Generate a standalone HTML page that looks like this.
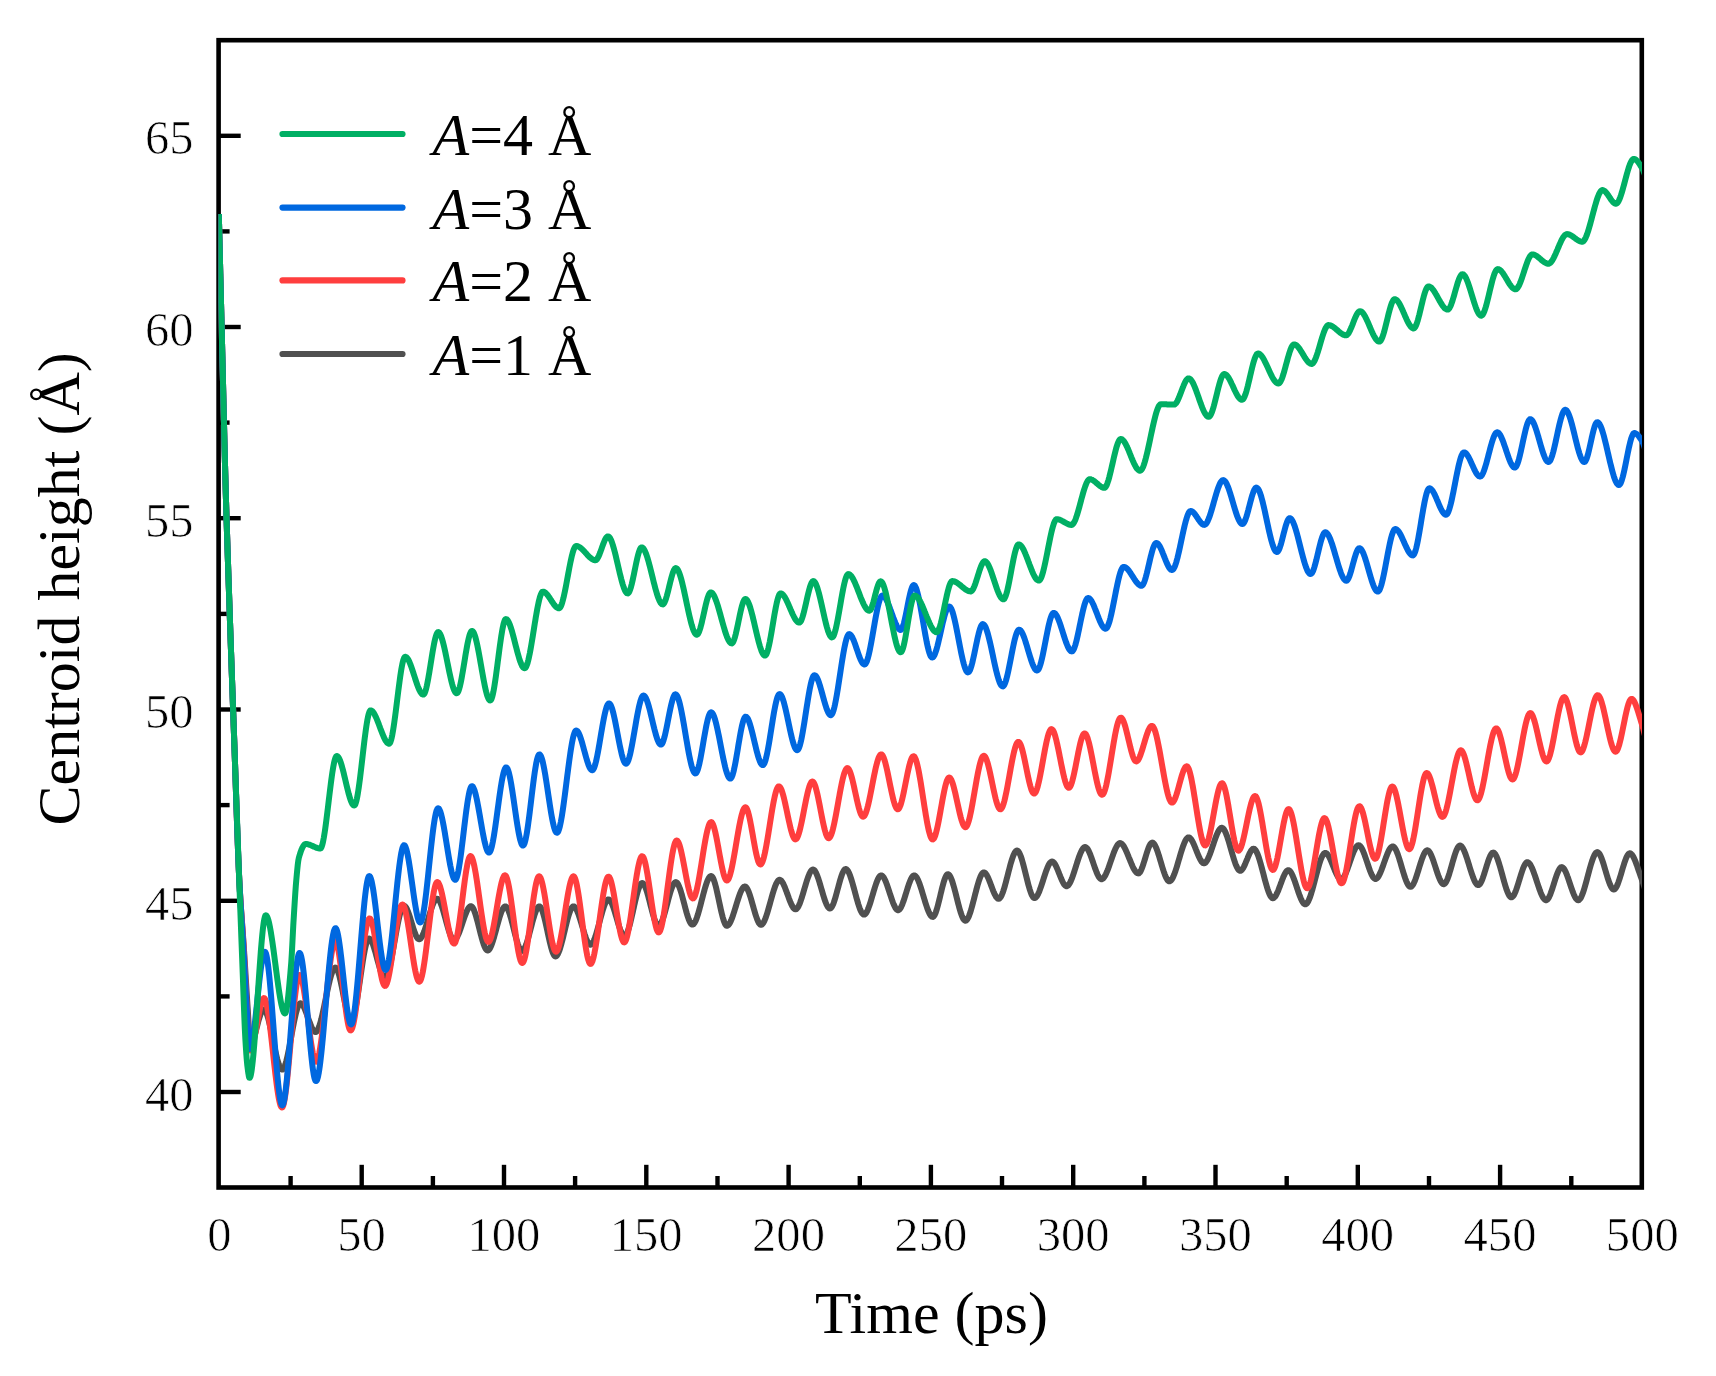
<!DOCTYPE html>
<html lang="en"><head><meta charset="utf-8"><title>Centroid height vs time</title>
<style>
html,body{margin:0;padding:0;background:#fff;}
body{width:1716px;height:1376px;overflow:hidden;}
svg{display:block;}
text{font-family:"Liberation Serif","Times New Roman",serif;fill:#000;}
.tick{font-size:48.6px;stroke:#fff;stroke-width:0.7px;}
.ttl{font-size:60px;}
.leg{font-size:60px;}
.it{font-style:italic;}
</style></head><body>
<svg width="1716" height="1376" viewBox="0 0 1716 1376">
<rect x="0" y="0" width="1716" height="1376" fill="#ffffff"/>
<defs><clipPath id="plot"><rect x="218.5" y="40.2" width="1423.5" height="1147.3"/></clipPath></defs>

<rect x="218.6" y="40.2" width="1423.2" height="1147.3" fill="none" stroke="#000" stroke-width="4.6" stroke-linejoin="miter"/>
<g stroke="#000" stroke-width="4.4" stroke-linecap="butt">
<line x1="290.6" y1="1187.5" x2="290.6" y2="1176.0"/>
<line x1="361.7" y1="1187.5" x2="361.7" y2="1164.8"/>
<line x1="432.9" y1="1187.5" x2="432.9" y2="1176.0"/>
<line x1="504.0" y1="1187.5" x2="504.0" y2="1164.8"/>
<line x1="575.1" y1="1187.5" x2="575.1" y2="1176.0"/>
<line x1="646.3" y1="1187.5" x2="646.3" y2="1164.8"/>
<line x1="717.5" y1="1187.5" x2="717.5" y2="1176.0"/>
<line x1="788.6" y1="1187.5" x2="788.6" y2="1164.8"/>
<line x1="859.8" y1="1187.5" x2="859.8" y2="1176.0"/>
<line x1="930.9" y1="1187.5" x2="930.9" y2="1164.8"/>
<line x1="1002.0" y1="1187.5" x2="1002.0" y2="1176.0"/>
<line x1="1073.2" y1="1187.5" x2="1073.2" y2="1164.8"/>
<line x1="1144.4" y1="1187.5" x2="1144.4" y2="1176.0"/>
<line x1="1215.5" y1="1187.5" x2="1215.5" y2="1164.8"/>
<line x1="1286.7" y1="1187.5" x2="1286.7" y2="1176.0"/>
<line x1="1357.8" y1="1187.5" x2="1357.8" y2="1164.8"/>
<line x1="1429.0" y1="1187.5" x2="1429.0" y2="1176.0"/>
<line x1="1500.1" y1="1187.5" x2="1500.1" y2="1164.8"/>
<line x1="1571.3" y1="1187.5" x2="1571.3" y2="1176.0"/>
<line x1="218.6" y1="1092.0" x2="240.7" y2="1092.0"/>
<line x1="218.6" y1="996.4" x2="229.6" y2="996.4"/>
<line x1="218.6" y1="900.8" x2="240.7" y2="900.8"/>
<line x1="218.6" y1="805.1" x2="229.6" y2="805.1"/>
<line x1="218.6" y1="709.5" x2="240.7" y2="709.5"/>
<line x1="218.6" y1="613.9" x2="229.6" y2="613.9"/>
<line x1="218.6" y1="518.2" x2="240.7" y2="518.2"/>
<line x1="218.6" y1="422.6" x2="229.6" y2="422.6"/>
<line x1="218.6" y1="327.0" x2="240.7" y2="327.0"/>
<line x1="218.6" y1="231.4" x2="229.6" y2="231.4"/>
<line x1="218.6" y1="135.8" x2="240.7" y2="135.8"/>
</g>
<text class="tick" x="219.3" y="1251.3" text-anchor="middle">0</text>
<text class="tick" x="361.6" y="1251.3" text-anchor="middle">50</text>
<text class="tick" x="503.9" y="1251.3" text-anchor="middle">100</text>
<text class="tick" x="646.2" y="1251.3" text-anchor="middle">150</text>
<text class="tick" x="788.5" y="1251.3" text-anchor="middle">200</text>
<text class="tick" x="930.8" y="1251.3" text-anchor="middle">250</text>
<text class="tick" x="1073.1" y="1251.3" text-anchor="middle">300</text>
<text class="tick" x="1215.4" y="1251.3" text-anchor="middle">350</text>
<text class="tick" x="1357.7" y="1251.3" text-anchor="middle">400</text>
<text class="tick" x="1500.0" y="1251.3" text-anchor="middle">450</text>
<text class="tick" x="1642.3" y="1251.3" text-anchor="middle">500</text>
<text class="tick" x="193.5" y="1110.7" text-anchor="end">40</text>
<text class="tick" x="193.5" y="919.5" text-anchor="end">45</text>
<text class="tick" x="193.5" y="728.2" text-anchor="end">50</text>
<text class="tick" x="193.5" y="537.0" text-anchor="end">55</text>
<text class="tick" x="193.5" y="345.7" text-anchor="end">60</text>
<text class="tick" x="193.5" y="154.4" text-anchor="end">65</text>
<text class="ttl" x="931.5" y="1332.8" text-anchor="middle">Time (ps)</text>
<text class="ttl" transform="translate(79.3 825.5) rotate(-90)" text-anchor="start">Centroid height (Å)</text>
<g clip-path="url(#plot)" fill="none" stroke-linejoin="round" stroke-linecap="butt" stroke-width="6.0">
<path d="M218.8 214.0 L219.3 234.0 L219.8 254.0 L220.3 274.0 L220.8 294.0 L221.3 314.0 L221.8 334.0 L222.3 354.0 L222.8 374.4 L223.3 395.2 L223.8 416.0 L224.3 436.6 L224.8 456.6 L225.3 475.6 L225.8 493.5 L226.3 510.3 L226.8 526.5 L227.3 542.0 L227.8 557.1 L228.3 571.9 L228.8 586.6 L229.3 601.2 L229.8 615.9 L230.3 630.4 L230.8 644.8 L231.3 659.0 L231.8 673.1 L232.3 687.1 L232.8 701.1 L233.3 715.0 L233.8 728.9 L234.3 742.8 L234.8 757.2 L235.3 772.0 L235.8 787.1 L236.3 802.1 L236.8 817.0 L237.3 831.4 L237.8 845.1 L238.3 857.9 L238.8 869.6 L239.3 880.0 L239.8 889.2 L240.3 897.5 L240.8 905.2 L241.3 912.4 L241.8 919.3 L242.3 926.1 L242.8 932.8 L243.3 939.7 L243.8 947.0 L244.3 954.6 L244.8 962.5 L245.3 970.5 L245.8 978.6 L246.3 986.7 L246.8 994.6 L247.3 1002.4 L247.8 1010.0 L248.3 1018.5 L248.8 1027.9 L249.3 1036.4 L249.8 1042.3 L250.3 1044.0 L250.8 1043.8 L251.3 1043.4 L251.8 1042.7 L252.3 1041.8 L252.8 1040.7 L253.3 1039.4 L253.8 1037.9 L254.3 1036.4 L254.8 1034.7 L255.3 1032.9 L255.8 1031.1 L256.3 1029.2 L256.8 1027.3 L257.3 1025.4 L257.8 1023.5 L258.3 1021.6 L258.8 1019.8 L259.3 1018.1 L259.8 1016.5 L260.3 1015.0 L260.8 1013.6 L261.3 1012.4 L261.8 1011.4 L262.3 1010.5 L262.8 1009.9 L263.3 1009.6 L263.8 1009.5 L264.3 1009.7 L264.8 1010.1 L265.3 1010.8 L265.8 1011.6 L266.3 1012.7 L266.8 1014.0 L267.3 1015.4 L267.8 1017.0 L268.3 1018.8 L268.8 1020.7 L269.3 1022.7 L269.8 1024.8 L270.3 1027.0 L270.8 1029.3 L271.3 1031.6 L271.8 1034.0 L272.3 1036.4 L272.8 1038.8 L273.3 1041.3 L273.8 1043.7 L274.3 1046.1 L274.8 1048.4 L275.3 1050.8 L275.8 1053.0 L276.3 1055.2 L276.8 1057.2 L277.3 1059.2 L277.8 1061.0 L278.3 1062.7 L278.8 1064.3 L279.3 1065.6 L279.8 1066.8 L280.3 1067.8 L280.8 1068.6 L281.3 1069.2 L281.8 1069.5 L282.3 1069.6 L282.8 1069.4 L283.3 1068.9 L283.8 1068.2 L284.3 1067.2 L284.8 1065.9 L285.3 1064.5 L285.8 1062.8 L286.3 1061.0 L286.8 1059.0 L287.3 1056.9 L287.8 1054.6 L288.3 1052.2 L288.8 1049.8 L289.3 1047.2 L289.8 1044.6 L290.3 1041.9 L290.8 1039.2 L291.3 1036.4 L291.8 1033.7 L292.3 1031.0 L292.8 1028.3 L293.3 1025.7 L293.8 1023.1 L294.3 1020.7 L294.8 1018.3 L295.3 1016.0 L295.8 1013.9 L296.3 1011.9 L296.8 1010.1 L297.3 1008.4 L297.8 1007.0 L298.3 1005.7 L298.8 1004.7 L299.3 1004.0 L299.8 1003.5 L300.3 1003.3 L300.8 1003.4 L301.3 1003.6 L301.8 1004.0 L302.3 1004.5 L302.8 1005.2 L303.3 1006.0 L303.8 1007.0 L304.3 1008.0 L304.8 1009.1 L305.3 1010.3 L305.8 1011.6 L306.3 1012.9 L306.8 1014.3 L307.3 1015.7 L307.8 1017.1 L308.3 1018.5 L308.8 1019.9 L309.3 1021.3 L309.8 1022.7 L310.3 1024.0 L310.8 1025.2 L311.3 1026.4 L311.8 1027.5 L312.3 1028.5 L312.8 1029.4 L313.3 1030.2 L313.8 1030.9 L314.3 1031.4 L314.8 1031.8 L315.3 1032.0 L315.8 1032.0 L316.3 1031.8 L316.8 1031.3 L317.3 1030.7 L317.8 1029.8 L318.3 1028.7 L318.8 1027.5 L319.3 1026.1 L319.8 1024.5 L320.3 1022.8 L320.8 1021.0 L321.3 1019.1 L321.8 1017.0 L322.3 1014.9 L322.8 1012.6 L323.3 1010.4 L323.8 1008.0 L324.3 1005.6 L324.8 1003.2 L325.3 1000.8 L325.8 998.3 L326.3 995.9 L326.8 993.5 L327.3 991.1 L327.8 988.8 L328.3 986.5 L328.8 984.3 L329.3 982.2 L329.8 980.1 L330.3 978.2 L330.8 976.4 L331.3 974.7 L331.8 973.2 L332.3 971.8 L332.8 970.6 L333.3 969.6 L333.8 968.8 L334.3 968.2 L334.8 967.8 L335.3 967.6 L335.8 967.7 L336.3 968.1 L336.8 968.8 L337.3 969.8 L337.8 971.0 L338.3 972.4 L338.8 974.0 L339.3 975.8 L339.8 977.8 L340.3 980.0 L340.8 982.2 L341.3 984.6 L341.8 987.0 L342.3 989.5 L342.8 992.0 L343.3 994.6 L343.8 997.1 L344.3 999.6 L344.8 1002.1 L345.3 1004.5 L345.8 1006.9 L346.3 1009.1 L346.8 1011.2 L347.3 1013.1 L347.8 1014.9 L348.3 1016.5 L348.8 1017.9 L349.3 1019.1 L349.8 1020.0 L350.3 1020.6 L350.8 1020.9 L351.3 1021.0 L351.8 1020.6 L352.3 1019.9 L352.8 1018.9 L353.3 1017.6 L353.8 1015.9 L354.3 1014.0 L354.8 1011.9 L355.3 1009.5 L355.8 1006.9 L356.3 1004.2 L356.8 1001.2 L357.3 998.2 L357.8 995.0 L358.3 991.7 L358.8 988.3 L359.3 984.9 L359.8 981.5 L360.3 978.0 L360.8 974.6 L361.3 971.2 L361.8 967.8 L362.3 964.5 L362.8 961.3 L363.3 958.3 L363.8 955.3 L364.3 952.6 L364.8 950.0 L365.3 947.6 L365.8 945.5 L366.3 943.6 L366.8 941.9 L367.3 940.6 L367.8 939.6 L368.3 938.9 L368.8 938.5 L369.3 938.5 L369.8 938.8 L370.3 939.2 L370.8 939.9 L371.3 940.7 L371.8 941.7 L372.3 942.8 L372.8 944.1 L373.3 945.5 L373.8 947.0 L374.3 948.6 L374.8 950.3 L375.3 952.0 L375.8 953.8 L376.3 955.7 L376.8 957.5 L377.3 959.4 L377.8 961.2 L378.3 963.0 L378.8 964.8 L379.3 966.5 L379.8 968.2 L380.3 969.8 L380.8 971.3 L381.3 972.6 L381.8 973.9 L382.3 975.0 L382.8 976.0 L383.3 976.8 L383.8 977.4 L384.3 977.8 L384.8 978.0 L385.3 977.9 L385.8 977.6 L386.3 977.0 L386.8 976.2 L387.3 975.1 L387.8 973.8 L388.3 972.2 L388.8 970.5 L389.3 968.6 L389.8 966.5 L390.3 964.3 L390.8 961.9 L391.3 959.5 L391.8 956.9 L392.3 954.2 L392.8 951.5 L393.3 948.7 L393.8 945.9 L394.3 943.0 L394.8 940.2 L395.3 937.4 L395.8 934.5 L396.3 931.8 L396.8 929.0 L397.3 926.4 L397.8 923.8 L398.3 921.4 L398.8 919.1 L399.3 916.9 L399.8 914.8 L400.3 912.9 L400.8 911.3 L401.3 909.8 L401.8 908.5 L402.3 907.4 L402.8 906.6 L403.3 906.1 L403.8 905.8 L404.3 905.8 L404.8 906.1 L405.3 906.5 L405.8 907.1 L406.3 907.9 L406.8 908.8 L407.3 909.9 L407.8 911.1 L408.3 912.4 L408.8 913.8 L409.3 915.3 L409.8 916.8 L410.3 918.4 L410.8 920.1 L411.3 921.7 L411.8 923.4 L412.3 925.0 L412.8 926.7 L413.3 928.3 L413.8 929.8 L414.3 931.3 L414.8 932.7 L415.3 934.0 L415.8 935.2 L416.3 936.3 L416.8 937.2 L417.3 938.0 L417.8 938.6 L418.3 939.0 L418.8 939.3 L419.3 939.3 L419.8 939.1 L420.3 938.8 L420.8 938.3 L421.3 937.6 L421.8 936.9 L422.3 935.9 L422.8 934.9 L423.3 933.8 L423.8 932.5 L424.3 931.2 L424.8 929.8 L425.3 928.3 L425.8 926.7 L426.3 925.1 L426.8 923.5 L427.3 921.9 L427.8 920.2 L428.3 918.5 L428.8 916.8 L429.3 915.2 L429.8 913.5 L430.3 911.9 L430.8 910.3 L431.3 908.8 L431.8 907.4 L432.3 906.0 L432.8 904.7 L433.3 903.5 L433.8 902.5 L434.3 901.5 L434.8 900.7 L435.3 899.9 L435.8 899.4 L436.3 899.0 L436.8 898.8 L437.3 898.7 L437.8 898.9 L438.3 899.2 L438.8 899.8 L439.3 900.5 L439.8 901.4 L440.3 902.4 L440.8 903.6 L441.3 904.9 L441.8 906.3 L442.3 907.8 L442.8 909.4 L443.3 911.1 L443.8 912.8 L444.3 914.6 L444.8 916.4 L445.3 918.2 L445.8 920.1 L446.3 921.9 L446.8 923.7 L447.3 925.5 L447.8 927.3 L448.3 929.0 L448.8 930.6 L449.3 932.1 L449.8 933.5 L450.3 934.9 L450.8 936.1 L451.3 937.1 L451.8 938.1 L452.3 938.8 L452.8 939.4 L453.3 939.8 L453.8 940.0 L454.3 940.0 L454.8 939.8 L455.3 939.4 L455.8 938.9 L456.3 938.3 L456.8 937.5 L457.3 936.6 L457.8 935.6 L458.3 934.5 L458.8 933.4 L459.3 932.1 L459.8 930.8 L460.3 929.4 L460.8 928.0 L461.3 926.5 L461.8 925.0 L462.3 923.5 L462.8 922.1 L463.3 920.6 L463.8 919.1 L464.3 917.6 L464.8 916.2 L465.3 914.9 L465.8 913.6 L466.3 912.3 L466.8 911.2 L467.3 910.1 L467.8 909.2 L468.3 908.4 L468.8 907.6 L469.3 907.1 L469.8 906.6 L470.3 906.3 L470.8 906.2 L471.3 906.3 L471.8 906.6 L472.3 907.1 L472.8 907.8 L473.3 908.7 L473.8 909.7 L474.3 911.0 L474.8 912.3 L475.3 913.8 L475.8 915.4 L476.3 917.1 L476.8 918.9 L477.3 920.7 L477.8 922.6 L478.3 924.6 L478.8 926.6 L479.3 928.5 L479.8 930.5 L480.3 932.5 L480.8 934.4 L481.3 936.3 L481.8 938.2 L482.3 939.9 L482.8 941.6 L483.3 943.2 L483.8 944.7 L484.3 946.0 L484.8 947.2 L485.3 948.2 L485.8 949.1 L486.3 949.7 L486.8 950.2 L487.3 950.5 L487.8 950.5 L488.3 950.3 L488.8 949.9 L489.3 949.4 L489.8 948.6 L490.3 947.7 L490.8 946.7 L491.3 945.5 L491.8 944.2 L492.3 942.8 L492.8 941.3 L493.3 939.7 L493.8 938.1 L494.3 936.3 L494.8 934.5 L495.3 932.7 L495.8 930.9 L496.3 929.0 L496.8 927.1 L497.3 925.3 L497.8 923.4 L498.3 921.6 L498.8 919.9 L499.3 918.2 L499.8 916.5 L500.3 915.0 L500.8 913.5 L501.3 912.1 L501.8 910.9 L502.3 909.8 L502.8 908.8 L503.3 908.0 L503.8 907.3 L504.3 906.8 L504.8 906.5 L505.3 906.4 L505.8 906.5 L506.3 906.9 L506.8 907.4 L507.3 908.2 L507.8 909.1 L508.3 910.2 L508.8 911.5 L509.3 912.9 L509.8 914.4 L510.3 916.0 L510.8 917.7 L511.3 919.5 L511.8 921.4 L512.3 923.3 L512.8 925.3 L513.3 927.3 L513.8 929.3 L514.3 931.3 L514.8 933.3 L515.3 935.2 L515.8 937.1 L516.3 939.0 L516.8 940.7 L517.3 942.4 L517.8 944.0 L518.3 945.4 L518.8 946.7 L519.3 947.9 L519.8 948.9 L520.3 949.7 L520.8 950.3 L521.3 950.8 L521.8 951.0 L522.3 951.0 L522.8 950.7 L523.3 950.3 L523.8 949.7 L524.3 948.9 L524.8 947.9 L525.3 946.8 L525.8 945.5 L526.3 944.2 L526.8 942.7 L527.3 941.1 L527.8 939.4 L528.3 937.7 L528.8 935.9 L529.3 934.0 L529.8 932.1 L530.3 930.2 L530.8 928.3 L531.3 926.4 L531.8 924.5 L532.3 922.6 L532.8 920.8 L533.3 919.0 L533.8 917.3 L534.3 915.6 L534.8 914.1 L535.3 912.7 L535.8 911.3 L536.3 910.1 L536.8 909.1 L537.3 908.2 L537.8 907.5 L538.3 906.9 L538.8 906.6 L539.3 906.4 L539.8 906.5 L540.3 906.9 L540.8 907.5 L541.3 908.3 L541.8 909.4 L542.3 910.7 L542.8 912.1 L543.3 913.8 L543.8 915.6 L544.3 917.5 L544.8 919.5 L545.3 921.6 L545.8 923.8 L546.3 926.1 L546.8 928.4 L547.3 930.7 L547.8 933.0 L548.3 935.3 L548.8 937.6 L549.3 939.9 L549.8 942.0 L550.3 944.1 L550.8 946.1 L551.3 948.0 L551.8 949.7 L552.3 951.3 L552.8 952.7 L553.3 953.9 L553.8 954.8 L554.3 955.6 L554.8 956.1 L555.3 956.4 L555.8 956.4 L556.3 956.1 L556.8 955.7 L557.3 955.0 L557.8 954.2 L558.3 953.1 L558.8 952.0 L559.3 950.7 L559.8 949.2 L560.3 947.6 L560.8 945.9 L561.3 944.2 L561.8 942.3 L562.3 940.4 L562.8 938.4 L563.3 936.4 L563.8 934.3 L564.3 932.2 L564.8 930.2 L565.3 928.1 L565.8 926.0 L566.3 924.0 L566.8 922.0 L567.3 920.1 L567.8 918.3 L568.3 916.5 L568.8 914.8 L569.3 913.3 L569.8 911.9 L570.3 910.6 L570.8 909.4 L571.3 908.5 L571.8 907.7 L572.3 907.0 L572.8 906.6 L573.3 906.4 L573.8 906.4 L574.3 906.6 L574.8 907.0 L575.3 907.6 L575.8 908.3 L576.3 909.2 L576.8 910.2 L577.3 911.3 L577.8 912.5 L578.3 913.8 L578.8 915.2 L579.3 916.7 L579.8 918.3 L580.3 919.9 L580.8 921.5 L581.3 923.2 L581.8 924.9 L582.3 926.6 L582.8 928.2 L583.3 929.9 L583.8 931.5 L584.3 933.1 L584.8 934.7 L585.3 936.1 L585.8 937.5 L586.3 938.8 L586.8 940.0 L587.3 941.1 L587.8 942.1 L588.3 942.9 L588.8 943.6 L589.3 944.2 L589.8 944.5 L590.3 944.7 L590.8 944.7 L591.3 944.4 L591.8 944.0 L592.3 943.4 L592.8 942.7 L593.3 941.8 L593.8 940.7 L594.3 939.5 L594.8 938.2 L595.3 936.8 L595.8 935.2 L596.3 933.6 L596.8 931.9 L597.3 930.2 L597.8 928.4 L598.3 926.6 L598.8 924.7 L599.3 922.8 L599.8 920.9 L600.3 919.0 L600.8 917.2 L601.3 915.3 L601.8 913.6 L602.3 911.8 L602.8 910.2 L603.3 908.6 L603.8 907.1 L604.3 905.6 L604.8 904.4 L605.3 903.2 L605.8 902.2 L606.3 901.3 L606.8 900.5 L607.3 900.0 L607.8 899.6 L608.3 899.4 L608.8 899.4 L609.3 899.7 L609.8 900.1 L610.3 900.7 L610.8 901.5 L611.3 902.4 L611.8 903.4 L612.3 904.6 L612.8 905.9 L613.3 907.3 L613.8 908.8 L614.3 910.3 L614.8 912.0 L615.3 913.6 L615.8 915.3 L616.3 917.0 L616.8 918.7 L617.3 920.4 L617.8 922.1 L618.3 923.8 L618.8 925.4 L619.3 926.9 L619.8 928.4 L620.3 929.8 L620.8 931.0 L621.3 932.2 L621.8 933.2 L622.3 934.1 L622.8 934.8 L623.3 935.4 L623.8 935.8 L624.3 936.0 L624.8 936.0 L625.3 935.7 L625.8 935.2 L626.3 934.5 L626.8 933.5 L627.3 932.4 L627.8 931.2 L628.3 929.7 L628.8 928.1 L629.3 926.4 L629.8 924.6 L630.3 922.7 L630.8 920.6 L631.3 918.5 L631.8 916.4 L632.3 914.2 L632.8 912.0 L633.3 909.7 L633.8 907.5 L634.3 905.2 L634.8 903.0 L635.3 900.9 L635.8 898.8 L636.3 896.7 L636.8 894.8 L637.3 892.9 L637.8 891.2 L638.3 889.6 L638.8 888.1 L639.3 886.8 L639.8 885.7 L640.3 884.7 L640.8 883.9 L641.3 883.4 L641.8 883.1 L642.3 883.0 L642.8 883.2 L643.3 883.6 L643.8 884.2 L644.3 884.9 L644.8 885.9 L645.3 887.1 L645.8 888.3 L646.3 889.8 L646.8 891.3 L647.3 892.9 L647.8 894.7 L648.3 896.5 L648.8 898.4 L649.3 900.3 L649.8 902.2 L650.3 904.2 L650.8 906.2 L651.3 908.1 L651.8 910.1 L652.3 911.9 L652.8 913.8 L653.3 915.5 L653.8 917.2 L654.3 918.7 L654.8 920.2 L655.3 921.5 L655.8 922.7 L656.3 923.7 L656.8 924.5 L657.3 925.1 L657.8 925.6 L658.3 925.8 L658.8 925.8 L659.3 925.5 L659.8 925.1 L660.3 924.5 L660.8 923.7 L661.3 922.7 L661.8 921.6 L662.3 920.4 L662.8 919.0 L663.3 917.6 L663.8 916.0 L664.3 914.4 L664.8 912.6 L665.3 910.9 L665.8 909.0 L666.3 907.2 L666.8 905.3 L667.3 903.4 L667.8 901.5 L668.3 899.6 L668.8 897.8 L669.3 896.0 L669.8 894.2 L670.3 892.5 L670.8 890.9 L671.3 889.4 L671.8 888.0 L672.3 886.7 L672.8 885.6 L673.3 884.6 L673.8 883.7 L674.3 883.0 L674.8 882.5 L675.3 882.2 L675.8 882.1 L676.3 882.2 L676.8 882.5 L677.3 883.1 L677.8 883.8 L678.3 884.7 L678.8 885.8 L679.3 887.0 L679.8 888.3 L680.3 889.8 L680.8 891.3 L681.3 893.0 L681.8 894.7 L682.3 896.5 L682.8 898.4 L683.3 900.3 L683.8 902.2 L684.3 904.1 L684.8 906.0 L685.3 907.9 L685.8 909.8 L686.3 911.6 L686.8 913.4 L687.3 915.0 L687.8 916.6 L688.3 918.1 L688.8 919.5 L689.3 920.7 L689.8 921.8 L690.3 922.7 L690.8 923.5 L691.3 924.1 L691.8 924.4 L692.3 924.6 L692.8 924.5 L693.3 924.3 L693.8 923.8 L694.3 923.2 L694.8 922.4 L695.3 921.5 L695.8 920.4 L696.3 919.1 L696.8 917.8 L697.3 916.3 L697.8 914.8 L698.3 913.1 L698.8 911.4 L699.3 909.6 L699.8 907.8 L700.3 905.9 L700.8 904.0 L701.3 902.1 L701.8 900.1 L702.3 898.2 L702.8 896.2 L703.3 894.3 L703.8 892.4 L704.3 890.6 L704.8 888.8 L705.3 887.1 L705.8 885.5 L706.3 884.0 L706.8 882.5 L707.3 881.2 L707.8 880.0 L708.3 878.9 L708.8 878.0 L709.3 877.3 L709.8 876.7 L710.3 876.3 L710.8 876.0 L711.3 876.0 L711.8 876.3 L712.3 876.8 L712.8 877.6 L713.3 878.6 L713.8 879.9 L714.3 881.3 L714.8 882.9 L715.3 884.7 L715.8 886.6 L716.3 888.6 L716.8 890.8 L717.3 893.0 L717.8 895.3 L718.3 897.6 L718.8 900.0 L719.3 902.3 L719.8 904.7 L720.3 907.0 L720.8 909.3 L721.3 911.5 L721.8 913.6 L722.3 915.6 L722.8 917.5 L723.3 919.2 L723.8 920.8 L724.3 922.2 L724.8 923.4 L725.3 924.4 L725.8 925.1 L726.3 925.6 L726.8 925.8 L727.3 925.7 L727.8 925.5 L728.3 925.1 L728.8 924.6 L729.3 923.9 L729.8 923.1 L730.3 922.1 L730.8 921.1 L731.3 919.9 L731.8 918.6 L732.3 917.3 L732.8 915.9 L733.3 914.4 L733.8 912.9 L734.3 911.3 L734.8 909.7 L735.3 908.1 L735.8 906.5 L736.3 904.8 L736.8 903.2 L737.3 901.6 L737.8 900.0 L738.3 898.5 L738.8 897.0 L739.3 895.5 L739.8 894.2 L740.3 892.9 L740.8 891.7 L741.3 890.6 L741.8 889.6 L742.3 888.7 L742.8 888.0 L743.3 887.4 L743.8 886.9 L744.3 886.6 L744.8 886.5 L745.3 886.6 L745.8 886.8 L746.3 887.3 L746.8 888.0 L747.3 888.8 L747.8 889.8 L748.3 890.9 L748.8 892.2 L749.3 893.5 L749.8 895.0 L750.3 896.5 L750.8 898.2 L751.3 899.8 L751.8 901.6 L752.3 903.3 L752.8 905.1 L753.3 906.9 L753.8 908.7 L754.3 910.4 L754.8 912.1 L755.3 913.8 L755.8 915.4 L756.3 916.9 L756.8 918.3 L757.3 919.7 L757.8 920.9 L758.3 921.9 L758.8 922.9 L759.3 923.6 L759.8 924.2 L760.3 924.6 L760.8 924.8 L761.3 924.8 L761.8 924.6 L762.3 924.2 L762.8 923.6 L763.3 922.9 L763.8 922.0 L764.3 921.1 L764.8 919.9 L765.3 918.7 L765.8 917.4 L766.3 915.9 L766.8 914.4 L767.3 912.8 L767.8 911.2 L768.3 909.4 L768.8 907.7 L769.3 905.9 L769.8 904.1 L770.3 902.3 L770.8 900.5 L771.3 898.7 L771.8 896.9 L772.3 895.2 L772.8 893.4 L773.3 891.8 L773.8 890.2 L774.3 888.7 L774.8 887.2 L775.3 885.9 L775.8 884.7 L776.3 883.5 L776.8 882.6 L777.3 881.7 L777.8 881.0 L778.3 880.4 L778.8 880.0 L779.3 879.8 L779.8 879.8 L780.3 880.0 L780.8 880.3 L781.3 880.7 L781.8 881.3 L782.3 882.1 L782.8 882.9 L783.3 883.8 L783.8 884.9 L784.3 886.0 L784.8 887.2 L785.3 888.5 L785.8 889.8 L786.3 891.1 L786.8 892.5 L787.3 893.9 L787.8 895.2 L788.3 896.6 L788.8 898.0 L789.3 899.3 L789.8 900.6 L790.3 901.9 L790.8 903.1 L791.3 904.2 L791.8 905.3 L792.3 906.2 L792.8 907.0 L793.3 907.8 L793.8 908.4 L794.3 908.8 L794.8 909.1 L795.3 909.3 L795.8 909.3 L796.3 909.1 L796.8 908.7 L797.3 908.1 L797.8 907.4 L798.3 906.6 L798.8 905.6 L799.3 904.5 L799.8 903.3 L800.3 902.0 L800.8 900.6 L801.3 899.1 L801.8 897.5 L802.3 895.9 L802.8 894.3 L803.3 892.6 L803.8 890.9 L804.3 889.2 L804.8 887.5 L805.3 885.8 L805.8 884.2 L806.3 882.5 L806.8 880.9 L807.3 879.4 L807.8 878.0 L808.3 876.6 L808.8 875.3 L809.3 874.1 L809.8 873.0 L810.3 872.0 L810.8 871.2 L811.3 870.6 L811.8 870.0 L812.3 869.7 L812.8 869.5 L813.3 869.5 L813.8 869.8 L814.3 870.2 L814.8 870.7 L815.3 871.5 L815.8 872.4 L816.3 873.4 L816.8 874.5 L817.3 875.8 L817.8 877.2 L818.3 878.6 L818.8 880.1 L819.3 881.7 L819.8 883.4 L820.3 885.0 L820.8 886.8 L821.3 888.5 L821.8 890.2 L822.3 891.9 L822.8 893.6 L823.3 895.3 L823.8 896.9 L824.3 898.5 L824.8 900.0 L825.3 901.4 L825.8 902.7 L826.3 903.9 L826.8 905.0 L827.3 906.0 L827.8 906.8 L828.3 907.5 L828.8 908.0 L829.3 908.4 L829.8 908.5 L830.3 908.4 L830.8 908.1 L831.3 907.6 L831.8 906.9 L832.3 906.0 L832.8 905.0 L833.3 903.8 L833.8 902.5 L834.3 901.0 L834.8 899.5 L835.3 897.8 L835.8 896.1 L836.3 894.3 L836.8 892.5 L837.3 890.6 L837.8 888.8 L838.3 886.9 L838.8 885.0 L839.3 883.2 L839.8 881.4 L840.3 879.7 L840.8 878.0 L841.3 876.5 L841.8 875.0 L842.3 873.7 L842.8 872.5 L843.3 871.5 L843.8 870.6 L844.3 869.9 L844.8 869.4 L845.3 869.1 L845.8 869.0 L846.3 869.1 L846.8 869.5 L847.3 870.0 L847.8 870.7 L848.3 871.5 L848.8 872.5 L849.3 873.6 L849.8 874.8 L850.3 876.2 L850.8 877.7 L851.3 879.2 L851.8 880.8 L852.3 882.5 L852.8 884.3 L853.3 886.1 L853.8 887.9 L854.3 889.7 L854.8 891.6 L855.3 893.5 L855.8 895.3 L856.3 897.2 L856.8 899.0 L857.3 900.7 L857.8 902.4 L858.3 904.1 L858.8 905.6 L859.3 907.1 L859.8 908.5 L860.3 909.8 L860.8 910.9 L861.3 911.9 L861.8 912.8 L862.3 913.5 L862.8 914.0 L863.3 914.4 L863.8 914.6 L864.3 914.6 L864.8 914.4 L865.3 914.0 L865.8 913.4 L866.3 912.7 L866.8 911.8 L867.3 910.8 L867.8 909.7 L868.3 908.5 L868.8 907.1 L869.3 905.7 L869.8 904.2 L870.3 902.7 L870.8 901.1 L871.3 899.4 L871.8 897.7 L872.3 896.0 L872.8 894.3 L873.3 892.6 L873.8 890.9 L874.3 889.3 L874.8 887.6 L875.3 886.1 L875.8 884.6 L876.3 883.1 L876.8 881.8 L877.3 880.5 L877.8 879.4 L878.3 878.4 L878.8 877.5 L879.3 876.7 L879.8 876.1 L880.3 875.7 L880.8 875.5 L881.3 875.4 L881.8 875.5 L882.3 875.8 L882.8 876.3 L883.3 876.9 L883.8 877.6 L884.3 878.5 L884.8 879.5 L885.3 880.6 L885.8 881.7 L886.3 883.0 L886.8 884.3 L887.3 885.7 L887.8 887.2 L888.3 888.7 L888.8 890.2 L889.3 891.7 L889.8 893.3 L890.3 894.8 L890.8 896.3 L891.3 897.8 L891.8 899.3 L892.3 900.7 L892.8 902.1 L893.3 903.4 L893.8 904.6 L894.3 905.7 L894.8 906.7 L895.3 907.7 L895.8 908.4 L896.3 909.1 L896.8 909.6 L897.3 910.0 L897.8 910.2 L898.3 910.2 L898.8 910.0 L899.3 909.6 L899.8 909.1 L900.3 908.4 L900.8 907.6 L901.3 906.6 L901.8 905.5 L902.3 904.3 L902.8 903.0 L903.3 901.7 L903.8 900.2 L904.3 898.7 L904.8 897.1 L905.3 895.5 L905.8 893.9 L906.3 892.3 L906.8 890.7 L907.3 889.1 L907.8 887.5 L908.3 886.0 L908.8 884.5 L909.3 883.1 L909.8 881.8 L910.3 880.5 L910.8 879.4 L911.3 878.4 L911.8 877.5 L912.3 876.7 L912.8 876.1 L913.3 875.7 L913.8 875.5 L914.3 875.4 L914.8 875.5 L915.3 875.8 L915.8 876.3 L916.3 876.9 L916.8 877.6 L917.3 878.5 L917.8 879.5 L918.3 880.6 L918.8 881.8 L919.3 883.1 L919.8 884.5 L920.3 886.0 L920.8 887.5 L921.3 889.0 L921.8 890.7 L922.3 892.3 L922.8 894.0 L923.3 895.6 L923.8 897.3 L924.3 899.0 L924.8 900.7 L925.3 902.3 L925.8 903.9 L926.3 905.4 L926.8 906.9 L927.3 908.4 L927.8 909.7 L928.3 911.0 L928.8 912.1 L929.3 913.2 L929.8 914.2 L930.3 915.0 L930.8 915.7 L931.3 916.2 L931.8 916.6 L932.3 916.8 L932.8 916.9 L933.3 916.7 L933.8 916.3 L934.3 915.6 L934.8 914.7 L935.3 913.6 L935.8 912.3 L936.3 910.8 L936.8 909.3 L937.3 907.5 L937.8 905.7 L938.3 903.8 L938.8 901.8 L939.3 899.7 L939.8 897.7 L940.3 895.6 L940.8 893.4 L941.3 891.4 L941.8 889.3 L942.3 887.3 L942.8 885.4 L943.3 883.6 L943.8 881.8 L944.3 880.3 L944.8 878.8 L945.3 877.5 L945.8 876.4 L946.3 875.5 L946.8 874.8 L947.3 874.4 L947.8 874.2 L948.3 874.3 L948.8 874.6 L949.3 875.0 L949.8 875.7 L950.3 876.6 L950.8 877.6 L951.3 878.8 L951.8 880.1 L952.3 881.5 L952.8 883.1 L953.3 884.8 L953.8 886.5 L954.3 888.3 L954.8 890.2 L955.3 892.1 L955.8 894.1 L956.3 896.1 L956.8 898.0 L957.3 900.0 L957.8 902.0 L958.3 903.9 L958.8 905.8 L959.3 907.7 L959.8 909.5 L960.3 911.2 L960.8 912.8 L961.3 914.2 L961.8 915.6 L962.3 916.8 L962.8 917.9 L963.3 918.9 L963.8 919.6 L964.3 920.2 L964.8 920.5 L965.3 920.7 L965.8 920.6 L966.3 920.4 L966.8 919.9 L967.3 919.3 L967.8 918.4 L968.3 917.5 L968.8 916.4 L969.3 915.1 L969.8 913.7 L970.3 912.2 L970.8 910.7 L971.3 909.0 L971.8 907.2 L972.3 905.4 L972.8 903.5 L973.3 901.6 L973.8 899.7 L974.3 897.7 L974.8 895.8 L975.3 893.8 L975.8 891.9 L976.3 889.9 L976.8 888.1 L977.3 886.2 L977.8 884.5 L978.3 882.8 L978.8 881.2 L979.3 879.7 L979.8 878.3 L980.3 877.0 L980.8 875.8 L981.3 874.8 L981.8 874.0 L982.3 873.3 L982.8 872.8 L983.3 872.5 L983.8 872.4 L984.3 872.5 L984.8 872.7 L985.3 873.2 L985.8 873.7 L986.3 874.4 L986.8 875.2 L987.3 876.1 L987.8 877.1 L988.3 878.2 L988.8 879.4 L989.3 880.6 L989.8 881.9 L990.3 883.2 L990.8 884.5 L991.3 885.9 L991.8 887.2 L992.3 888.5 L992.8 889.8 L993.3 891.1 L993.8 892.3 L994.3 893.4 L994.8 894.5 L995.3 895.4 L995.8 896.3 L996.3 897.1 L996.8 897.7 L997.3 898.2 L997.8 898.6 L998.3 898.8 L998.8 898.8 L999.3 898.6 L999.8 898.2 L1000.3 897.6 L1000.8 896.9 L1001.3 896.0 L1001.8 894.9 L1002.3 893.7 L1002.8 892.4 L1003.3 891.0 L1003.8 889.4 L1004.3 887.8 L1004.8 886.1 L1005.3 884.3 L1005.8 882.4 L1006.3 880.5 L1006.8 878.6 L1007.3 876.7 L1007.8 874.7 L1008.3 872.7 L1008.8 870.8 L1009.3 868.9 L1009.8 867.0 L1010.3 865.1 L1010.8 863.3 L1011.3 861.6 L1011.8 860.0 L1012.3 858.4 L1012.8 857.0 L1013.3 855.7 L1013.8 854.5 L1014.3 853.4 L1014.8 852.5 L1015.3 851.8 L1015.8 851.2 L1016.3 850.8 L1016.8 850.6 L1017.3 850.6 L1017.8 850.9 L1018.3 851.3 L1018.8 852.0 L1019.3 852.8 L1019.8 853.9 L1020.3 855.0 L1020.8 856.3 L1021.3 857.8 L1021.8 859.3 L1022.3 861.0 L1022.8 862.8 L1023.3 864.6 L1023.8 866.5 L1024.3 868.5 L1024.8 870.5 L1025.3 872.5 L1025.8 874.5 L1026.3 876.5 L1026.8 878.5 L1027.3 880.5 L1027.8 882.5 L1028.3 884.4 L1028.8 886.2 L1029.3 887.9 L1029.8 889.6 L1030.3 891.1 L1030.8 892.5 L1031.3 893.8 L1031.8 895.0 L1032.3 895.9 L1032.8 896.7 L1033.3 897.4 L1033.8 897.8 L1034.3 898.0 L1034.8 898.0 L1035.3 897.8 L1035.8 897.4 L1036.3 896.9 L1036.8 896.3 L1037.3 895.5 L1037.8 894.6 L1038.3 893.6 L1038.8 892.5 L1039.3 891.3 L1039.8 890.0 L1040.3 888.6 L1040.8 887.2 L1041.3 885.7 L1041.8 884.2 L1042.3 882.7 L1042.8 881.2 L1043.3 879.6 L1043.8 878.0 L1044.3 876.5 L1044.8 875.0 L1045.3 873.5 L1045.8 872.0 L1046.3 870.6 L1046.8 869.3 L1047.3 868.0 L1047.8 866.8 L1048.3 865.7 L1048.8 864.7 L1049.3 863.8 L1049.8 863.1 L1050.3 862.5 L1050.8 862.0 L1051.3 861.7 L1051.8 861.5 L1052.3 861.5 L1052.8 861.7 L1053.3 862.1 L1053.8 862.5 L1054.3 863.1 L1054.8 863.9 L1055.3 864.7 L1055.8 865.6 L1056.3 866.7 L1056.8 867.8 L1057.3 868.9 L1057.8 870.1 L1058.3 871.3 L1058.8 872.6 L1059.3 873.9 L1059.8 875.1 L1060.3 876.4 L1060.8 877.6 L1061.3 878.8 L1061.8 879.9 L1062.3 881.0 L1062.8 882.1 L1063.3 883.0 L1063.8 883.8 L1064.3 884.6 L1064.8 885.2 L1065.3 885.6 L1065.8 886.0 L1066.3 886.2 L1066.8 886.2 L1067.3 886.0 L1067.8 885.7 L1068.3 885.3 L1068.8 884.7 L1069.3 883.9 L1069.8 883.1 L1070.3 882.1 L1070.8 881.1 L1071.3 879.9 L1071.8 878.6 L1072.3 877.3 L1072.8 875.9 L1073.3 874.5 L1073.8 873.0 L1074.3 871.5 L1074.8 869.9 L1075.3 868.3 L1075.8 866.8 L1076.3 865.2 L1076.8 863.6 L1077.3 862.0 L1077.8 860.5 L1078.3 859.0 L1078.8 857.5 L1079.3 856.1 L1079.8 854.8 L1080.3 853.5 L1080.8 852.4 L1081.3 851.3 L1081.8 850.3 L1082.3 849.4 L1082.8 848.7 L1083.3 848.0 L1083.8 847.6 L1084.3 847.2 L1084.8 847.0 L1085.3 847.0 L1085.8 847.2 L1086.3 847.5 L1086.8 848.0 L1087.3 848.6 L1087.8 849.3 L1088.3 850.2 L1088.8 851.2 L1089.3 852.3 L1089.8 853.4 L1090.3 854.7 L1090.8 856.0 L1091.3 857.3 L1091.8 858.7 L1092.3 860.2 L1092.8 861.6 L1093.3 863.1 L1093.8 864.6 L1094.3 866.0 L1094.8 867.5 L1095.3 868.9 L1095.8 870.2 L1096.3 871.5 L1096.8 872.8 L1097.3 873.9 L1097.8 875.0 L1098.3 876.0 L1098.8 876.9 L1099.3 877.6 L1099.8 878.2 L1100.3 878.7 L1100.8 879.0 L1101.3 879.2 L1101.8 879.2 L1102.3 879.0 L1102.8 878.7 L1103.3 878.3 L1103.8 877.7 L1104.3 877.0 L1104.8 876.2 L1105.3 875.3 L1105.8 874.3 L1106.3 873.2 L1106.8 872.1 L1107.3 870.9 L1107.8 869.6 L1108.3 868.3 L1108.8 866.9 L1109.3 865.5 L1109.8 864.1 L1110.3 862.6 L1110.8 861.1 L1111.3 859.7 L1111.8 858.2 L1112.3 856.8 L1112.8 855.4 L1113.3 854.0 L1113.8 852.7 L1114.3 851.4 L1114.8 850.2 L1115.3 849.1 L1115.8 848.0 L1116.3 847.0 L1116.8 846.1 L1117.3 845.3 L1117.8 844.6 L1118.3 844.0 L1118.8 843.6 L1119.3 843.3 L1119.8 843.1 L1120.3 843.1 L1120.8 843.2 L1121.3 843.5 L1121.8 843.8 L1122.3 844.3 L1122.8 844.9 L1123.3 845.6 L1123.8 846.3 L1124.3 847.2 L1124.8 848.1 L1125.3 849.1 L1125.8 850.2 L1126.3 851.3 L1126.8 852.4 L1127.3 853.6 L1127.8 854.8 L1128.3 856.0 L1128.8 857.3 L1129.3 858.5 L1129.8 859.7 L1130.3 861.0 L1130.8 862.2 L1131.3 863.4 L1131.8 864.6 L1132.3 865.7 L1132.8 866.8 L1133.3 867.8 L1133.8 868.8 L1134.3 869.7 L1134.8 870.5 L1135.3 871.2 L1135.8 871.8 L1136.3 872.4 L1136.8 872.8 L1137.3 873.1 L1137.8 873.3 L1138.3 873.4 L1138.8 873.3 L1139.3 872.9 L1139.8 872.4 L1140.3 871.7 L1140.8 870.8 L1141.3 869.7 L1141.8 868.5 L1142.3 867.2 L1142.8 865.8 L1143.3 864.3 L1143.8 862.7 L1144.3 861.1 L1144.8 859.5 L1145.3 857.8 L1145.8 856.2 L1146.3 854.5 L1146.8 852.9 L1147.3 851.4 L1147.8 849.9 L1148.3 848.5 L1148.8 847.2 L1149.3 846.1 L1149.8 845.0 L1150.3 844.2 L1150.8 843.5 L1151.3 843.0 L1151.8 842.7 L1152.3 842.6 L1152.8 842.7 L1153.3 843.1 L1153.8 843.5 L1154.3 844.2 L1154.8 845.0 L1155.3 845.9 L1155.8 847.0 L1156.3 848.1 L1156.8 849.4 L1157.3 850.8 L1157.8 852.2 L1158.3 853.8 L1158.8 855.3 L1159.3 856.9 L1159.8 858.6 L1160.3 860.3 L1160.8 861.9 L1161.3 863.6 L1161.8 865.3 L1162.3 867.0 L1162.8 868.6 L1163.3 870.1 L1163.8 871.7 L1164.3 873.1 L1164.8 874.5 L1165.3 875.8 L1165.8 876.9 L1166.3 878.0 L1166.8 878.9 L1167.3 879.7 L1167.8 880.4 L1168.3 880.8 L1168.8 881.2 L1169.3 881.3 L1169.8 881.2 L1170.3 881.0 L1170.8 880.6 L1171.3 880.1 L1171.8 879.4 L1172.3 878.6 L1172.8 877.7 L1173.3 876.6 L1173.8 875.4 L1174.3 874.2 L1174.8 872.8 L1175.3 871.4 L1175.8 869.9 L1176.3 868.4 L1176.8 866.8 L1177.3 865.1 L1177.8 863.4 L1178.3 861.7 L1178.8 860.0 L1179.3 858.3 L1179.8 856.6 L1180.3 854.9 L1180.8 853.2 L1181.3 851.6 L1181.8 850.0 L1182.3 848.5 L1182.8 847.0 L1183.3 845.6 L1183.8 844.3 L1184.3 843.0 L1184.8 841.9 L1185.3 840.8 L1185.8 839.9 L1186.3 839.1 L1186.8 838.5 L1187.3 838.0 L1187.8 837.6 L1188.3 837.4 L1188.8 837.4 L1189.3 837.6 L1189.8 837.8 L1190.3 838.3 L1190.8 838.8 L1191.3 839.5 L1191.8 840.3 L1192.3 841.2 L1192.8 842.1 L1193.3 843.2 L1193.8 844.3 L1194.3 845.4 L1194.8 846.6 L1195.3 847.8 L1195.8 849.1 L1196.3 850.3 L1196.8 851.6 L1197.3 852.9 L1197.8 854.1 L1198.3 855.3 L1198.8 856.4 L1199.3 857.5 L1199.8 858.6 L1200.3 859.5 L1200.8 860.4 L1201.3 861.2 L1201.8 861.9 L1202.3 862.4 L1202.8 862.9 L1203.3 863.1 L1203.8 863.3 L1204.3 863.3 L1204.8 863.1 L1205.3 862.8 L1205.8 862.3 L1206.3 861.7 L1206.8 860.9 L1207.3 860.1 L1207.8 859.1 L1208.3 858.1 L1208.8 856.9 L1209.3 855.7 L1209.8 854.4 L1210.3 853.1 L1210.8 851.7 L1211.3 850.3 L1211.8 848.8 L1212.3 847.3 L1212.8 845.8 L1213.3 844.4 L1213.8 842.9 L1214.3 841.4 L1214.8 840.0 L1215.3 838.5 L1215.8 837.2 L1216.3 835.9 L1216.8 834.6 L1217.3 833.5 L1217.8 832.4 L1218.3 831.4 L1218.8 830.5 L1219.3 829.7 L1219.8 829.0 L1220.3 828.5 L1220.8 828.1 L1221.3 827.9 L1221.8 827.8 L1222.3 827.9 L1222.8 828.2 L1223.3 828.6 L1223.8 829.2 L1224.3 830.0 L1224.8 830.9 L1225.3 831.9 L1225.8 833.0 L1226.3 834.3 L1226.8 835.6 L1227.3 837.0 L1227.8 838.5 L1228.3 840.1 L1228.8 841.7 L1229.3 843.4 L1229.8 845.1 L1230.3 846.9 L1230.8 848.6 L1231.3 850.4 L1231.8 852.1 L1232.3 853.8 L1232.8 855.5 L1233.3 857.2 L1233.8 858.8 L1234.3 860.4 L1234.8 861.9 L1235.3 863.3 L1235.8 864.6 L1236.3 865.8 L1236.8 866.9 L1237.3 867.9 L1237.8 868.8 L1238.3 869.5 L1238.8 870.1 L1239.3 870.5 L1239.8 870.7 L1240.3 870.8 L1240.8 870.7 L1241.3 870.4 L1241.8 869.9 L1242.3 869.3 L1242.8 868.6 L1243.3 867.8 L1243.8 866.9 L1244.3 865.9 L1244.8 864.8 L1245.3 863.6 L1245.8 862.4 L1246.3 861.2 L1246.8 860.0 L1247.3 858.8 L1247.8 857.5 L1248.3 856.3 L1248.8 855.2 L1249.3 854.1 L1249.8 853.0 L1250.3 852.1 L1250.8 851.2 L1251.3 850.4 L1251.8 849.8 L1252.3 849.3 L1252.8 848.9 L1253.3 848.7 L1253.8 848.7 L1254.3 848.9 L1254.8 849.3 L1255.3 849.8 L1255.8 850.5 L1256.3 851.3 L1256.8 852.3 L1257.3 853.5 L1257.8 854.7 L1258.3 856.1 L1258.8 857.5 L1259.3 859.1 L1259.8 860.7 L1260.3 862.5 L1260.8 864.2 L1261.3 866.1 L1261.8 867.9 L1262.3 869.8 L1262.8 871.7 L1263.3 873.6 L1263.8 875.6 L1264.3 877.5 L1264.8 879.4 L1265.3 881.2 L1265.8 883.0 L1266.3 884.8 L1266.8 886.5 L1267.3 888.1 L1267.8 889.7 L1268.3 891.1 L1268.8 892.4 L1269.3 893.7 L1269.8 894.8 L1270.3 895.7 L1270.8 896.6 L1271.3 897.2 L1271.8 897.7 L1272.3 898.1 L1272.8 898.2 L1273.3 898.1 L1273.8 897.9 L1274.3 897.5 L1274.8 897.0 L1275.3 896.4 L1275.8 895.6 L1276.3 894.7 L1276.8 893.7 L1277.3 892.6 L1277.8 891.5 L1278.3 890.3 L1278.8 889.0 L1279.3 887.7 L1279.8 886.4 L1280.3 885.0 L1280.8 883.7 L1281.3 882.3 L1281.8 881.0 L1282.3 879.6 L1282.8 878.4 L1283.3 877.1 L1283.8 876.0 L1284.3 874.9 L1284.8 873.9 L1285.3 873.0 L1285.8 872.2 L1286.3 871.5 L1286.8 870.9 L1287.3 870.5 L1287.8 870.3 L1288.3 870.2 L1288.8 870.3 L1289.3 870.5 L1289.8 870.9 L1290.3 871.5 L1290.8 872.2 L1291.3 873.0 L1291.8 873.9 L1292.3 875.0 L1292.8 876.1 L1293.3 877.3 L1293.8 878.6 L1294.3 879.9 L1294.8 881.3 L1295.3 882.8 L1295.8 884.3 L1296.3 885.7 L1296.8 887.2 L1297.3 888.8 L1297.8 890.2 L1298.3 891.7 L1298.8 893.2 L1299.3 894.6 L1299.8 895.9 L1300.3 897.2 L1300.8 898.4 L1301.3 899.5 L1301.8 900.6 L1302.3 901.5 L1302.8 902.3 L1303.3 903.0 L1303.8 903.6 L1304.3 904.0 L1304.8 904.2 L1305.3 904.3 L1305.8 904.2 L1306.3 903.9 L1306.8 903.5 L1307.3 902.9 L1307.8 902.1 L1308.3 901.2 L1308.8 900.1 L1309.3 899.0 L1309.8 897.7 L1310.3 896.3 L1310.8 894.8 L1311.3 893.2 L1311.8 891.5 L1312.3 889.8 L1312.8 888.0 L1313.3 886.2 L1313.8 884.3 L1314.3 882.4 L1314.8 880.5 L1315.3 878.6 L1315.8 876.7 L1316.3 874.8 L1316.8 872.9 L1317.3 871.0 L1317.8 869.2 L1318.3 867.4 L1318.8 865.7 L1319.3 864.0 L1319.8 862.4 L1320.3 860.9 L1320.8 859.5 L1321.3 858.2 L1321.8 857.1 L1322.3 856.0 L1322.8 855.1 L1323.3 854.3 L1323.8 853.7 L1324.3 853.3 L1324.8 853.0 L1325.3 852.9 L1325.8 853.0 L1326.3 853.2 L1326.8 853.6 L1327.3 854.1 L1327.8 854.7 L1328.3 855.4 L1328.8 856.3 L1329.3 857.2 L1329.8 858.2 L1330.3 859.3 L1330.8 860.4 L1331.3 861.6 L1331.8 862.8 L1332.3 864.0 L1332.8 865.3 L1333.3 866.5 L1333.8 867.8 L1334.3 869.0 L1334.8 870.3 L1335.3 871.5 L1335.8 872.6 L1336.3 873.7 L1336.8 874.7 L1337.3 875.7 L1337.8 876.5 L1338.3 877.3 L1338.8 878.0 L1339.3 878.5 L1339.8 879.0 L1340.3 879.2 L1340.8 879.4 L1341.3 879.4 L1341.8 879.2 L1342.3 878.9 L1342.8 878.4 L1343.3 877.8 L1343.8 877.1 L1344.3 876.2 L1344.8 875.3 L1345.3 874.3 L1345.8 873.2 L1346.3 872.0 L1346.8 870.7 L1347.3 869.4 L1347.8 868.0 L1348.3 866.6 L1348.8 865.2 L1349.3 863.8 L1349.8 862.3 L1350.3 860.8 L1350.8 859.4 L1351.3 858.0 L1351.8 856.6 L1352.3 855.2 L1352.8 853.9 L1353.3 852.6 L1353.8 851.4 L1354.3 850.3 L1354.8 849.3 L1355.3 848.4 L1355.8 847.5 L1356.3 846.8 L1356.8 846.2 L1357.3 845.7 L1357.8 845.4 L1358.3 845.2 L1358.8 845.2 L1359.3 845.4 L1359.8 845.7 L1360.3 846.2 L1360.8 846.8 L1361.3 847.5 L1361.8 848.4 L1362.3 849.4 L1362.8 850.4 L1363.3 851.6 L1363.8 852.8 L1364.3 854.1 L1364.8 855.5 L1365.3 856.9 L1365.8 858.4 L1366.3 859.9 L1366.8 861.4 L1367.3 862.8 L1367.8 864.3 L1368.3 865.8 L1368.8 867.3 L1369.3 868.7 L1369.8 870.1 L1370.3 871.4 L1370.8 872.6 L1371.3 873.8 L1371.8 874.8 L1372.3 875.8 L1372.8 876.7 L1373.3 877.4 L1373.8 878.0 L1374.3 878.5 L1374.8 878.8 L1375.3 879.0 L1375.8 879.0 L1376.3 878.8 L1376.8 878.5 L1377.3 878.0 L1377.8 877.4 L1378.3 876.7 L1378.8 875.9 L1379.3 874.9 L1379.8 873.9 L1380.3 872.8 L1380.8 871.6 L1381.3 870.4 L1381.8 869.1 L1382.3 867.7 L1382.8 866.4 L1383.3 865.0 L1383.8 863.6 L1384.3 862.1 L1384.8 860.7 L1385.3 859.3 L1385.8 857.9 L1386.3 856.6 L1386.8 855.3 L1387.3 854.0 L1387.8 852.8 L1388.3 851.7 L1388.8 850.7 L1389.3 849.7 L1389.8 848.9 L1390.3 848.1 L1390.8 847.5 L1391.3 847.0 L1391.8 846.7 L1392.3 846.5 L1392.8 846.4 L1393.3 846.5 L1393.8 846.8 L1394.3 847.3 L1394.8 848.0 L1395.3 848.7 L1395.8 849.6 L1396.3 850.7 L1396.8 851.8 L1397.3 853.1 L1397.8 854.4 L1398.3 855.9 L1398.8 857.4 L1399.3 858.9 L1399.8 860.6 L1400.3 862.2 L1400.8 863.9 L1401.3 865.6 L1401.8 867.3 L1402.3 869.0 L1402.8 870.7 L1403.3 872.3 L1403.8 873.9 L1404.3 875.5 L1404.8 877.0 L1405.3 878.5 L1405.8 879.8 L1406.3 881.1 L1406.8 882.3 L1407.3 883.4 L1407.8 884.3 L1408.3 885.1 L1408.8 885.8 L1409.3 886.3 L1409.8 886.6 L1410.3 886.8 L1410.8 886.8 L1411.3 886.6 L1411.8 886.2 L1412.3 885.6 L1412.8 884.9 L1413.3 884.1 L1413.8 883.1 L1414.3 882.0 L1414.8 880.9 L1415.3 879.6 L1415.8 878.2 L1416.3 876.8 L1416.8 875.3 L1417.3 873.7 L1417.8 872.1 L1418.3 870.5 L1418.8 868.9 L1419.3 867.2 L1419.8 865.6 L1420.3 864.0 L1420.8 862.5 L1421.3 860.9 L1421.8 859.5 L1422.3 858.1 L1422.8 856.8 L1423.3 855.5 L1423.8 854.4 L1424.3 853.4 L1424.8 852.5 L1425.3 851.7 L1425.8 851.1 L1426.3 850.7 L1426.8 850.4 L1427.3 850.3 L1427.8 850.4 L1428.3 850.7 L1428.8 851.1 L1429.3 851.7 L1429.8 852.4 L1430.3 853.3 L1430.8 854.3 L1431.3 855.4 L1431.8 856.6 L1432.3 857.8 L1432.8 859.2 L1433.3 860.6 L1433.8 862.1 L1434.3 863.6 L1434.8 865.1 L1435.3 866.6 L1435.8 868.2 L1436.3 869.7 L1436.8 871.2 L1437.3 872.7 L1437.8 874.2 L1438.3 875.6 L1438.8 876.9 L1439.3 878.2 L1439.8 879.4 L1440.3 880.4 L1440.8 881.4 L1441.3 882.2 L1441.8 882.9 L1442.3 883.5 L1442.8 883.9 L1443.3 884.1 L1443.8 884.2 L1444.3 884.0 L1444.8 883.7 L1445.3 883.2 L1445.8 882.4 L1446.3 881.6 L1446.8 880.5 L1447.3 879.4 L1447.8 878.1 L1448.3 876.7 L1448.8 875.2 L1449.3 873.7 L1449.8 872.0 L1450.3 870.3 L1450.8 868.6 L1451.3 866.9 L1451.8 865.1 L1452.3 863.3 L1452.8 861.5 L1453.3 859.8 L1453.8 858.1 L1454.3 856.5 L1454.8 854.9 L1455.3 853.4 L1455.8 852.0 L1456.3 850.7 L1456.8 849.5 L1457.3 848.4 L1457.8 847.5 L1458.3 846.8 L1458.8 846.2 L1459.3 845.8 L1459.8 845.6 L1460.3 845.6 L1460.8 845.8 L1461.3 846.2 L1461.8 846.7 L1462.3 847.3 L1462.8 848.1 L1463.3 849.0 L1463.8 850.0 L1464.3 851.1 L1464.8 852.3 L1465.3 853.6 L1465.8 855.0 L1466.3 856.4 L1466.8 857.9 L1467.3 859.4 L1467.8 861.0 L1468.3 862.6 L1468.8 864.2 L1469.3 865.8 L1469.8 867.5 L1470.3 869.1 L1470.8 870.6 L1471.3 872.2 L1471.8 873.7 L1472.3 875.1 L1472.8 876.5 L1473.3 877.9 L1473.8 879.1 L1474.3 880.3 L1474.8 881.3 L1475.3 882.3 L1475.8 883.1 L1476.3 883.8 L1476.8 884.3 L1477.3 884.8 L1477.8 885.0 L1478.3 885.1 L1478.8 885.0 L1479.3 884.7 L1479.8 884.2 L1480.3 883.5 L1480.8 882.7 L1481.3 881.7 L1481.8 880.6 L1482.3 879.3 L1482.8 878.0 L1483.3 876.6 L1483.8 875.1 L1484.3 873.5 L1484.8 871.9 L1485.3 870.3 L1485.8 868.7 L1486.3 867.1 L1486.8 865.4 L1487.3 863.9 L1487.8 862.3 L1488.3 860.8 L1488.8 859.4 L1489.3 858.1 L1489.8 856.9 L1490.3 855.8 L1490.8 854.9 L1491.3 854.1 L1491.8 853.4 L1492.3 852.9 L1492.8 852.7 L1493.3 852.6 L1493.8 852.7 L1494.3 853.1 L1494.8 853.6 L1495.3 854.2 L1495.8 855.1 L1496.3 856.0 L1496.8 857.2 L1497.3 858.4 L1497.8 859.7 L1498.3 861.2 L1498.8 862.7 L1499.3 864.3 L1499.8 866.0 L1500.3 867.7 L1500.8 869.5 L1501.3 871.3 L1501.8 873.1 L1502.3 874.9 L1502.8 876.8 L1503.3 878.6 L1503.8 880.4 L1504.3 882.2 L1504.8 883.9 L1505.3 885.6 L1505.8 887.2 L1506.3 888.7 L1506.8 890.2 L1507.3 891.5 L1507.8 892.7 L1508.3 893.9 L1508.8 894.8 L1509.3 895.7 L1509.8 896.3 L1510.3 896.8 L1510.8 897.2 L1511.3 897.3 L1511.8 897.2 L1512.3 897.0 L1512.8 896.5 L1513.3 895.9 L1513.8 895.2 L1514.3 894.3 L1514.8 893.2 L1515.3 892.1 L1515.8 890.8 L1516.3 889.4 L1516.8 888.0 L1517.3 886.5 L1517.8 884.9 L1518.3 883.3 L1518.8 881.7 L1519.3 880.1 L1519.8 878.4 L1520.3 876.8 L1520.8 875.2 L1521.3 873.6 L1521.8 872.1 L1522.3 870.6 L1522.8 869.2 L1523.3 867.9 L1523.8 866.7 L1524.3 865.6 L1524.8 864.7 L1525.3 863.9 L1525.8 863.2 L1526.3 862.7 L1526.8 862.3 L1527.3 862.2 L1527.8 862.3 L1528.3 862.5 L1528.8 862.8 L1529.3 863.3 L1529.8 863.9 L1530.3 864.7 L1530.8 865.5 L1531.3 866.5 L1531.8 867.5 L1532.3 868.7 L1532.8 869.9 L1533.3 871.2 L1533.8 872.5 L1534.3 873.9 L1534.8 875.3 L1535.3 876.8 L1535.8 878.3 L1536.3 879.8 L1536.8 881.4 L1537.3 882.9 L1537.8 884.4 L1538.3 885.9 L1538.8 887.3 L1539.3 888.8 L1539.8 890.2 L1540.3 891.5 L1540.8 892.8 L1541.3 894.0 L1541.8 895.1 L1542.3 896.1 L1542.8 897.1 L1543.3 897.9 L1543.8 898.6 L1544.3 899.2 L1544.8 899.7 L1545.3 900.0 L1545.8 900.2 L1546.3 900.2 L1546.8 900.0 L1547.3 899.6 L1547.8 899.1 L1548.3 898.4 L1548.8 897.6 L1549.3 896.6 L1549.8 895.5 L1550.3 894.3 L1550.8 893.0 L1551.3 891.6 L1551.8 890.2 L1552.3 888.7 L1552.8 887.1 L1553.3 885.6 L1553.8 884.0 L1554.3 882.4 L1554.8 880.8 L1555.3 879.2 L1555.8 877.7 L1556.3 876.3 L1556.8 874.8 L1557.3 873.5 L1557.8 872.3 L1558.3 871.1 L1558.8 870.1 L1559.3 869.2 L1559.8 868.5 L1560.3 867.9 L1560.8 867.4 L1561.3 867.2 L1561.8 867.1 L1562.3 867.2 L1562.8 867.5 L1563.3 868.0 L1563.8 868.6 L1564.3 869.3 L1564.8 870.2 L1565.3 871.1 L1565.8 872.2 L1566.3 873.4 L1566.8 874.6 L1567.3 876.0 L1567.8 877.3 L1568.3 878.8 L1568.8 880.2 L1569.3 881.7 L1569.8 883.2 L1570.3 884.7 L1570.8 886.2 L1571.3 887.7 L1571.8 889.1 L1572.3 890.5 L1572.8 891.9 L1573.3 893.2 L1573.8 894.4 L1574.3 895.5 L1574.8 896.6 L1575.3 897.5 L1575.8 898.3 L1576.3 899.0 L1576.8 899.5 L1577.3 899.9 L1577.8 900.1 L1578.3 900.2 L1578.8 900.1 L1579.3 899.7 L1579.8 899.2 L1580.3 898.6 L1580.8 897.8 L1581.3 896.8 L1581.8 895.7 L1582.3 894.5 L1582.8 893.2 L1583.3 891.7 L1583.8 890.2 L1584.3 888.6 L1584.8 886.9 L1585.3 885.2 L1585.8 883.4 L1586.3 881.6 L1586.8 879.7 L1587.3 877.8 L1587.8 876.0 L1588.3 874.1 L1588.8 872.2 L1589.3 870.3 L1589.8 868.5 L1590.3 866.7 L1590.8 865.0 L1591.3 863.4 L1591.8 861.8 L1592.3 860.3 L1592.8 858.9 L1593.3 857.5 L1593.8 856.4 L1594.3 855.3 L1594.8 854.4 L1595.3 853.6 L1595.8 852.9 L1596.3 852.5 L1596.8 852.2 L1597.3 852.1 L1597.8 852.2 L1598.3 852.5 L1598.8 853.0 L1599.3 853.6 L1599.8 854.4 L1600.3 855.4 L1600.8 856.4 L1601.3 857.6 L1601.8 858.9 L1602.3 860.3 L1602.8 861.8 L1603.3 863.3 L1603.8 864.9 L1604.3 866.6 L1604.8 868.3 L1605.3 870.0 L1605.8 871.6 L1606.3 873.3 L1606.8 875.0 L1607.3 876.7 L1607.8 878.3 L1608.3 879.8 L1608.8 881.3 L1609.3 882.7 L1609.8 884.0 L1610.3 885.2 L1610.8 886.2 L1611.3 887.2 L1611.8 888.0 L1612.3 888.6 L1612.8 889.1 L1613.3 889.4 L1613.8 889.5 L1614.3 889.4 L1614.8 889.1 L1615.3 888.6 L1615.8 887.9 L1616.3 887.1 L1616.8 886.2 L1617.3 885.1 L1617.8 883.8 L1618.3 882.5 L1618.8 881.1 L1619.3 879.6 L1619.8 878.0 L1620.3 876.4 L1620.8 874.8 L1621.3 873.1 L1621.8 871.4 L1622.3 869.7 L1622.8 868.0 L1623.3 866.4 L1623.8 864.8 L1624.3 863.2 L1624.8 861.7 L1625.3 860.3 L1625.8 859.0 L1626.3 857.7 L1626.8 856.6 L1627.3 855.7 L1627.8 854.9 L1628.3 854.2 L1628.8 853.7 L1629.3 853.4 L1629.8 853.3 L1630.3 853.4 L1630.8 853.6 L1631.3 854.0 L1631.8 854.5 L1632.3 855.1 L1632.8 855.9 L1633.3 856.8 L1633.8 857.7 L1634.3 858.8 L1634.8 859.9 L1635.3 861.1 L1635.8 862.4 L1636.3 863.8 L1636.8 865.1 L1637.3 866.5 L1637.8 868.0 L1638.3 869.5 L1638.8 870.9 L1639.3 872.4 L1639.8 873.9 L1640.3 875.3 L1640.8 876.7 L1641.3 878.1 L1641.8 879.5 L1642.3 880.8 L1642.8 882.2 L1643.3 883.6 L1643.8 885.1 L1644.3 886.6 L1644.8 888.2 L1645.3 889.8 L1645.8 891.4" stroke="#505050"/>
<path d="M218.8 214.0 L219.3 234.0 L219.8 254.0 L220.3 274.0 L220.8 294.0 L221.3 314.0 L221.8 334.0 L222.3 354.0 L222.8 374.4 L223.3 395.2 L223.8 416.0 L224.3 436.6 L224.8 456.6 L225.3 475.6 L225.8 493.5 L226.3 510.3 L226.8 526.5 L227.3 542.0 L227.8 557.1 L228.3 571.9 L228.8 586.6 L229.3 601.2 L229.8 615.9 L230.3 630.4 L230.8 644.8 L231.3 659.0 L231.8 673.1 L232.3 687.1 L232.8 701.1 L233.3 715.0 L233.8 728.9 L234.3 742.8 L234.8 757.1 L235.3 771.9 L235.8 786.9 L236.3 801.9 L236.8 816.6 L237.3 831.0 L237.8 844.7 L238.3 857.6 L238.8 869.4 L239.3 880.0 L239.8 889.3 L240.3 897.8 L240.8 905.6 L241.3 912.9 L241.8 919.9 L242.3 926.9 L242.8 934.2 L243.3 941.8 L243.8 950.0 L244.3 959.1 L244.8 969.0 L245.3 979.3 L245.8 989.5 L246.3 999.4 L246.8 1008.5 L247.3 1016.5 L247.8 1024.8 L248.3 1033.3 L248.8 1041.0 L249.3 1046.9 L249.8 1050.2 L250.3 1050.4 L250.8 1050.0 L251.3 1049.2 L251.8 1048.1 L252.3 1046.7 L252.8 1045.1 L253.3 1043.1 L253.8 1041.0 L254.3 1038.7 L254.8 1036.2 L255.3 1033.7 L255.8 1031.0 L256.3 1028.2 L256.8 1025.4 L257.3 1022.6 L257.8 1019.8 L258.3 1017.1 L258.8 1014.4 L259.3 1011.9 L259.8 1009.4 L260.3 1007.1 L260.8 1005.1 L261.3 1003.2 L261.8 1001.6 L262.3 1000.2 L262.8 999.2 L263.3 998.5 L263.8 998.1 L264.3 998.2 L264.8 998.7 L265.3 999.7 L265.8 1001.2 L266.3 1003.0 L266.8 1005.2 L267.3 1007.8 L267.8 1010.7 L268.3 1013.8 L268.8 1017.3 L269.3 1021.0 L269.8 1024.9 L270.3 1028.9 L270.8 1033.1 L271.3 1037.5 L271.8 1041.9 L272.3 1046.4 L272.8 1051.0 L273.3 1055.5 L273.8 1060.1 L274.3 1064.6 L274.8 1069.0 L275.3 1073.3 L275.8 1077.5 L276.3 1081.5 L276.8 1085.4 L277.3 1089.0 L277.8 1092.4 L278.3 1095.5 L278.8 1098.4 L279.3 1100.9 L279.8 1103.0 L280.3 1104.8 L280.8 1106.1 L281.3 1107.0 L281.8 1107.5 L282.3 1107.4 L282.8 1106.7 L283.3 1105.4 L283.8 1103.6 L284.3 1101.2 L284.8 1098.4 L285.3 1095.1 L285.8 1091.4 L286.3 1087.4 L286.8 1083.0 L287.3 1078.4 L287.8 1073.4 L288.3 1068.3 L288.8 1063.0 L289.3 1057.5 L289.8 1051.9 L290.3 1046.3 L290.8 1040.6 L291.3 1034.9 L291.8 1029.3 L292.3 1023.7 L292.8 1018.3 L293.3 1013.0 L293.8 1007.9 L294.3 1003.0 L294.8 998.4 L295.3 994.1 L295.8 990.1 L296.3 986.5 L296.8 983.3 L297.3 980.6 L297.8 978.3 L298.3 976.6 L298.8 975.4 L299.3 974.9 L299.8 974.9 L300.3 975.4 L300.8 976.3 L301.3 977.6 L301.8 979.3 L302.3 981.4 L302.8 983.7 L303.3 986.4 L303.8 989.3 L304.3 992.4 L304.8 995.7 L305.3 999.2 L305.8 1002.8 L306.3 1006.6 L306.8 1010.4 L307.3 1014.3 L307.8 1018.2 L308.3 1022.2 L308.8 1026.1 L309.3 1029.9 L309.8 1033.7 L310.3 1037.3 L310.8 1040.8 L311.3 1044.1 L311.8 1047.2 L312.3 1050.1 L312.8 1052.8 L313.3 1055.1 L313.8 1057.2 L314.3 1058.9 L314.8 1060.2 L315.3 1061.1 L315.8 1061.6 L316.3 1061.7 L316.8 1061.2 L317.3 1060.4 L317.8 1059.1 L318.3 1057.4 L318.8 1055.3 L319.3 1052.9 L319.8 1050.1 L320.3 1047.1 L320.8 1043.7 L321.3 1040.2 L321.8 1036.4 L322.3 1032.4 L322.8 1028.2 L323.3 1023.9 L323.8 1019.5 L324.3 1014.9 L324.8 1010.3 L325.3 1005.7 L325.8 1001.0 L326.3 996.3 L326.8 991.7 L327.3 987.1 L327.8 982.5 L328.3 978.1 L328.8 973.8 L329.3 969.7 L329.8 965.7 L330.3 962.0 L330.8 958.5 L331.3 955.2 L331.8 952.2 L332.3 949.5 L332.8 947.2 L333.3 945.2 L333.8 943.5 L334.3 942.3 L334.8 941.5 L335.3 941.2 L335.8 941.4 L336.3 942.1 L336.8 943.3 L337.3 945.0 L337.8 947.2 L338.3 949.7 L338.8 952.6 L339.3 955.8 L339.8 959.3 L340.3 963.0 L340.8 967.0 L341.3 971.1 L341.8 975.3 L342.3 979.7 L342.8 984.0 L343.3 988.4 L343.8 992.8 L344.3 997.1 L344.8 1001.3 L345.3 1005.4 L345.8 1009.3 L346.3 1013.0 L346.8 1016.5 L347.3 1019.6 L347.8 1022.4 L348.3 1024.9 L348.8 1026.9 L349.3 1028.6 L349.8 1029.7 L350.3 1030.3 L350.8 1030.4 L351.3 1030.0 L351.8 1029.1 L352.3 1027.9 L352.8 1026.2 L353.3 1024.3 L353.8 1021.9 L354.3 1019.3 L354.8 1016.4 L355.3 1013.2 L355.8 1009.8 L356.3 1006.2 L356.8 1002.4 L357.3 998.4 L357.8 994.3 L358.3 990.1 L358.8 985.8 L359.3 981.5 L359.8 977.1 L360.3 972.6 L360.8 968.2 L361.3 963.8 L361.8 959.5 L362.3 955.3 L362.8 951.2 L363.3 947.2 L363.8 943.3 L364.3 939.7 L364.8 936.2 L365.3 933.0 L365.8 930.0 L366.3 927.4 L366.8 925.0 L367.3 922.9 L367.8 921.2 L368.3 919.9 L368.8 919.0 L369.3 918.5 L369.8 918.4 L370.3 918.8 L370.8 919.6 L371.3 920.7 L371.8 922.1 L372.3 923.9 L372.8 925.9 L373.3 928.2 L373.8 930.7 L374.3 933.4 L374.8 936.3 L375.3 939.3 L375.8 942.4 L376.3 945.6 L376.8 948.9 L377.3 952.1 L377.8 955.4 L378.3 958.7 L378.8 961.9 L379.3 965.0 L379.8 968.0 L380.3 970.9 L380.8 973.6 L381.3 976.1 L381.8 978.4 L382.3 980.4 L382.8 982.2 L383.3 983.6 L383.8 984.7 L384.3 985.5 L384.8 985.9 L385.3 985.8 L385.8 985.4 L386.3 984.6 L386.8 983.5 L387.3 982.0 L387.8 980.3 L388.3 978.2 L388.8 975.9 L389.3 973.4 L389.8 970.7 L390.3 967.8 L390.8 964.8 L391.3 961.6 L391.8 958.3 L392.3 954.9 L392.8 951.5 L393.3 948.0 L393.8 944.5 L394.3 941.0 L394.8 937.5 L395.3 934.1 L395.8 930.7 L396.3 927.5 L396.8 924.4 L397.3 921.4 L397.8 918.6 L398.3 915.9 L398.8 913.5 L399.3 911.3 L399.8 909.4 L400.3 907.8 L400.8 906.4 L401.3 905.4 L401.8 904.8 L402.3 904.5 L402.8 904.6 L403.3 905.1 L403.8 906.0 L404.3 907.2 L404.8 908.7 L405.3 910.5 L405.8 912.6 L406.3 914.9 L406.8 917.5 L407.3 920.2 L407.8 923.1 L408.3 926.2 L408.8 929.3 L409.3 932.6 L409.8 935.9 L410.3 939.3 L410.8 942.8 L411.3 946.2 L411.8 949.6 L412.3 952.9 L412.8 956.2 L413.3 959.4 L413.8 962.5 L414.3 965.4 L414.8 968.2 L415.3 970.8 L415.8 973.1 L416.3 975.3 L416.8 977.1 L417.3 978.7 L417.8 980.0 L418.3 980.9 L418.8 981.5 L419.3 981.7 L419.8 981.5 L420.3 980.8 L420.8 979.7 L421.3 978.3 L421.8 976.5 L422.3 974.3 L422.8 971.9 L423.3 969.1 L423.8 966.1 L424.3 962.9 L424.8 959.5 L425.3 955.9 L425.8 952.1 L426.3 948.2 L426.8 944.2 L427.3 940.2 L427.8 936.0 L428.3 931.9 L428.8 927.8 L429.3 923.6 L429.8 919.6 L430.3 915.6 L430.8 911.7 L431.3 907.9 L431.8 904.3 L432.3 900.9 L432.8 897.7 L433.3 894.7 L433.8 891.9 L434.3 889.5 L434.8 887.3 L435.3 885.5 L435.8 884.1 L436.3 883.0 L436.8 882.3 L437.3 882.1 L437.8 882.3 L438.3 882.7 L438.8 883.5 L439.3 884.5 L439.8 885.8 L440.3 887.3 L440.8 889.0 L441.3 890.9 L441.8 893.0 L442.3 895.2 L442.8 897.6 L443.3 900.0 L443.8 902.6 L444.3 905.2 L444.8 907.9 L445.3 910.7 L445.8 913.4 L446.3 916.1 L446.8 918.9 L447.3 921.5 L447.8 924.1 L448.3 926.7 L448.8 929.1 L449.3 931.4 L449.8 933.6 L450.3 935.6 L450.8 937.4 L451.3 939.0 L451.8 940.5 L452.3 941.6 L452.8 942.6 L453.3 943.2 L453.8 943.5 L454.3 943.6 L454.8 943.1 L455.3 942.3 L455.8 941.0 L456.3 939.3 L456.8 937.3 L457.3 934.9 L457.8 932.2 L458.3 929.3 L458.8 926.1 L459.3 922.8 L459.8 919.2 L460.3 915.5 L460.8 911.7 L461.3 907.8 L461.8 903.8 L462.3 899.8 L462.8 895.8 L463.3 891.8 L463.8 887.9 L464.3 884.1 L464.8 880.4 L465.3 876.8 L465.8 873.5 L466.3 870.3 L466.8 867.4 L467.3 864.7 L467.8 862.3 L468.3 860.3 L468.8 858.6 L469.3 857.3 L469.8 856.5 L470.3 856.0 L470.8 856.1 L471.3 856.5 L471.8 857.3 L472.3 858.4 L472.8 859.9 L473.3 861.6 L473.8 863.7 L474.3 866.0 L474.8 868.5 L475.3 871.2 L475.8 874.1 L476.3 877.2 L476.8 880.4 L477.3 883.8 L477.8 887.2 L478.3 890.7 L478.8 894.3 L479.3 897.9 L479.8 901.5 L480.3 905.1 L480.8 908.6 L481.3 912.1 L481.8 915.5 L482.3 918.8 L482.8 921.9 L483.3 925.0 L483.8 927.8 L484.3 930.4 L484.8 932.9 L485.3 935.1 L485.8 937.0 L486.3 938.6 L486.8 940.0 L487.3 941.0 L487.8 941.6 L488.3 941.9 L488.8 941.8 L489.3 941.3 L489.8 940.6 L490.3 939.5 L490.8 938.1 L491.3 936.5 L491.8 934.7 L492.3 932.6 L492.8 930.3 L493.3 927.9 L493.8 925.3 L494.3 922.6 L494.8 919.8 L495.3 916.9 L495.8 914.0 L496.3 911.0 L496.8 908.0 L497.3 905.0 L497.8 902.0 L498.3 899.1 L498.8 896.2 L499.3 893.5 L499.8 890.8 L500.3 888.3 L500.8 885.9 L501.3 883.8 L501.8 881.8 L502.3 880.0 L502.8 878.5 L503.3 877.3 L503.8 876.3 L504.3 875.6 L504.8 875.3 L505.3 875.4 L505.8 875.8 L506.3 876.7 L506.8 878.0 L507.3 879.5 L507.8 881.4 L508.3 883.7 L508.8 886.1 L509.3 888.9 L509.8 891.8 L510.3 895.0 L510.8 898.3 L511.3 901.7 L511.8 905.3 L512.3 909.0 L512.8 912.7 L513.3 916.5 L513.8 920.3 L514.3 924.1 L514.8 927.8 L515.3 931.5 L515.8 935.2 L516.3 938.7 L516.8 942.0 L517.3 945.3 L517.8 948.3 L518.3 951.1 L518.8 953.7 L519.3 956.0 L519.8 958.0 L520.3 959.8 L520.8 961.1 L521.3 962.2 L521.8 962.8 L522.3 963.0 L522.8 962.8 L523.3 962.1 L523.8 961.0 L524.3 959.6 L524.8 957.8 L525.3 955.7 L525.8 953.3 L526.3 950.6 L526.8 947.7 L527.3 944.5 L527.8 941.2 L528.3 937.7 L528.8 934.1 L529.3 930.4 L529.8 926.6 L530.3 922.7 L530.8 918.9 L531.3 915.0 L531.8 911.2 L532.3 907.4 L532.8 903.7 L533.3 900.2 L533.8 896.7 L534.3 893.5 L534.8 890.4 L535.3 887.6 L535.8 885.0 L536.3 882.7 L536.8 880.7 L537.3 879.1 L537.8 877.8 L538.3 876.9 L538.8 876.4 L539.3 876.3 L539.8 876.7 L540.3 877.4 L540.8 878.4 L541.3 879.8 L541.8 881.5 L542.3 883.4 L542.8 885.6 L543.3 888.0 L543.8 890.6 L544.3 893.3 L544.8 896.2 L545.3 899.3 L545.8 902.5 L546.3 905.7 L546.8 909.0 L547.3 912.3 L547.8 915.7 L548.3 919.0 L548.8 922.3 L549.3 925.5 L549.8 928.7 L550.3 931.8 L550.8 934.7 L551.3 937.4 L551.8 940.0 L552.3 942.4 L552.8 944.6 L553.3 946.5 L553.8 948.2 L554.3 949.6 L554.8 950.6 L555.3 951.3 L555.8 951.7 L556.3 951.6 L556.8 951.2 L557.3 950.5 L557.8 949.5 L558.3 948.1 L558.8 946.5 L559.3 944.7 L559.8 942.6 L560.3 940.3 L560.8 937.8 L561.3 935.1 L561.8 932.3 L562.3 929.4 L562.8 926.4 L563.3 923.3 L563.8 920.1 L564.3 916.9 L564.8 913.7 L565.3 910.5 L565.8 907.2 L566.3 904.1 L566.8 901.0 L567.3 898.0 L567.8 895.1 L568.3 892.3 L568.8 889.7 L569.3 887.2 L569.8 885.0 L570.3 882.9 L570.8 881.1 L571.3 879.6 L571.8 878.3 L572.3 877.3 L572.8 876.7 L573.3 876.3 L573.8 876.4 L574.3 876.9 L574.8 877.8 L575.3 879.0 L575.8 880.7 L576.3 882.6 L576.8 884.9 L577.3 887.5 L577.8 890.3 L578.3 893.3 L578.8 896.5 L579.3 899.9 L579.8 903.5 L580.3 907.1 L580.8 910.9 L581.3 914.7 L581.8 918.6 L582.3 922.4 L582.8 926.3 L583.3 930.1 L583.8 933.8 L584.3 937.4 L584.8 941.0 L585.3 944.3 L585.8 947.5 L586.3 950.5 L586.8 953.3 L587.3 955.8 L587.8 958.0 L588.3 959.9 L588.8 961.4 L589.3 962.7 L589.8 963.5 L590.3 963.9 L590.8 963.8 L591.3 963.4 L591.8 962.6 L592.3 961.5 L592.8 960.0 L593.3 958.2 L593.8 956.2 L594.3 953.9 L594.8 951.3 L595.3 948.6 L595.8 945.7 L596.3 942.6 L596.8 939.3 L597.3 936.0 L597.8 932.5 L598.3 929.0 L598.8 925.4 L599.3 921.8 L599.8 918.1 L600.3 914.5 L600.8 910.9 L601.3 907.4 L601.8 904.0 L602.3 900.6 L602.8 897.4 L603.3 894.3 L603.8 891.4 L604.3 888.7 L604.8 886.2 L605.3 884.0 L605.8 882.0 L606.3 880.3 L606.8 878.9 L607.3 877.8 L607.8 877.1 L608.3 876.7 L608.8 876.8 L609.3 877.2 L609.8 878.0 L610.3 879.1 L610.8 880.5 L611.3 882.2 L611.8 884.2 L612.3 886.4 L612.8 888.8 L613.3 891.4 L613.8 894.1 L614.3 897.0 L614.8 899.9 L615.3 903.0 L615.8 906.1 L616.3 909.2 L616.8 912.4 L617.3 915.5 L617.8 918.5 L618.3 921.5 L618.8 924.4 L619.3 927.2 L619.8 929.8 L620.3 932.3 L620.8 934.5 L621.3 936.5 L621.8 938.3 L622.3 939.7 L622.8 940.9 L623.3 941.8 L623.8 942.3 L624.3 942.4 L624.8 942.1 L625.3 941.5 L625.8 940.5 L626.3 939.2 L626.8 937.5 L627.3 935.6 L627.8 933.4 L628.3 931.0 L628.8 928.4 L629.3 925.6 L629.8 922.6 L630.3 919.4 L630.8 916.1 L631.3 912.7 L631.8 909.3 L632.3 905.7 L632.8 902.2 L633.3 898.6 L633.8 895.0 L634.3 891.4 L634.8 887.9 L635.3 884.5 L635.8 881.1 L636.3 877.9 L636.8 874.8 L637.3 871.9 L637.8 869.1 L638.3 866.6 L638.8 864.3 L639.3 862.2 L639.8 860.4 L640.3 858.9 L640.8 857.7 L641.3 856.8 L641.8 856.3 L642.3 856.2 L642.8 856.5 L643.3 857.2 L643.8 858.2 L644.3 859.6 L644.8 861.3 L645.3 863.3 L645.8 865.5 L646.3 868.0 L646.8 870.7 L647.3 873.5 L647.8 876.6 L648.3 879.7 L648.8 883.0 L649.3 886.4 L649.8 889.8 L650.3 893.3 L650.8 896.7 L651.3 900.2 L651.8 903.6 L652.3 906.9 L652.8 910.1 L653.3 913.3 L653.8 916.2 L654.3 919.0 L654.8 921.6 L655.3 924.0 L655.8 926.2 L656.3 928.0 L656.8 929.6 L657.3 930.8 L657.8 931.7 L658.3 932.3 L658.8 932.4 L659.3 932.1 L659.8 931.4 L660.3 930.4 L660.8 928.9 L661.3 927.2 L661.8 925.2 L662.3 922.8 L662.8 920.3 L663.3 917.5 L663.8 914.4 L664.3 911.2 L664.8 907.9 L665.3 904.4 L665.8 900.8 L666.3 897.1 L666.8 893.3 L667.3 889.5 L667.8 885.7 L668.3 881.9 L668.8 878.1 L669.3 874.3 L669.8 870.7 L670.3 867.1 L670.8 863.6 L671.3 860.4 L671.8 857.2 L672.3 854.3 L672.8 851.6 L673.3 849.1 L673.8 846.9 L674.3 845.0 L674.8 843.4 L675.3 842.1 L675.8 841.2 L676.3 840.6 L676.8 840.5 L677.3 840.7 L677.8 841.3 L678.3 842.1 L678.8 843.2 L679.3 844.5 L679.8 846.0 L680.3 847.8 L680.8 849.7 L681.3 851.9 L681.8 854.1 L682.3 856.5 L682.8 858.9 L683.3 861.5 L683.8 864.1 L684.3 866.8 L684.8 869.4 L685.3 872.1 L685.8 874.8 L686.3 877.4 L686.8 880.0 L687.3 882.4 L687.8 884.8 L688.3 887.0 L688.8 889.2 L689.3 891.1 L689.8 892.9 L690.3 894.4 L690.8 895.7 L691.3 896.8 L691.8 897.6 L692.3 898.2 L692.8 898.4 L693.3 898.3 L693.8 897.9 L694.3 897.1 L694.8 896.1 L695.3 894.8 L695.8 893.2 L696.3 891.4 L696.8 889.4 L697.3 887.2 L697.8 884.8 L698.3 882.2 L698.8 879.5 L699.3 876.7 L699.8 873.8 L700.3 870.8 L700.8 867.8 L701.3 864.6 L701.8 861.5 L702.3 858.4 L702.8 855.2 L703.3 852.1 L703.8 849.1 L704.3 846.1 L704.8 843.2 L705.3 840.4 L705.8 837.7 L706.3 835.2 L706.8 832.9 L707.3 830.7 L707.8 828.7 L708.3 827.0 L708.8 825.4 L709.3 824.2 L709.8 823.2 L710.3 822.5 L710.8 822.2 L711.3 822.1 L711.8 822.4 L712.3 823.1 L712.8 824.0 L713.3 825.2 L713.8 826.6 L714.3 828.3 L714.8 830.2 L715.3 832.3 L715.8 834.5 L716.3 836.9 L716.8 839.4 L717.3 842.0 L717.8 844.7 L718.3 847.4 L718.8 850.2 L719.3 853.0 L719.8 855.7 L720.3 858.4 L720.8 861.1 L721.3 863.7 L721.8 866.2 L722.3 868.5 L722.8 870.7 L723.3 872.8 L723.8 874.6 L724.3 876.3 L724.8 877.7 L725.3 878.8 L725.8 879.7 L726.3 880.3 L726.8 880.5 L727.3 880.4 L727.8 880.0 L728.3 879.3 L728.8 878.3 L729.3 877.1 L729.8 875.7 L730.3 874.0 L730.8 872.1 L731.3 870.0 L731.8 867.8 L732.3 865.4 L732.8 862.9 L733.3 860.3 L733.8 857.5 L734.3 854.7 L734.8 851.9 L735.3 848.9 L735.8 846.0 L736.3 843.0 L736.8 840.0 L737.3 837.1 L737.8 834.2 L738.3 831.4 L738.8 828.6 L739.3 825.9 L739.8 823.4 L740.3 820.9 L740.8 818.6 L741.3 816.5 L741.8 814.5 L742.3 812.8 L742.8 811.2 L743.3 809.9 L743.8 808.8 L744.3 808.0 L744.8 807.5 L745.3 807.3 L745.8 807.4 L746.3 807.9 L746.8 808.7 L747.3 809.8 L747.8 811.2 L748.3 812.9 L748.8 814.8 L749.3 816.9 L749.8 819.2 L750.3 821.6 L750.8 824.2 L751.3 826.9 L751.8 829.7 L752.3 832.5 L752.8 835.3 L753.3 838.2 L753.8 841.0 L754.3 843.8 L754.8 846.5 L755.3 849.2 L755.8 851.7 L756.3 854.0 L756.8 856.2 L757.3 858.2 L757.8 859.9 L758.3 861.5 L758.8 862.7 L759.3 863.6 L759.8 864.2 L760.3 864.5 L760.8 864.4 L761.3 864.0 L761.8 863.2 L762.3 862.2 L762.8 860.9 L763.3 859.3 L763.8 857.6 L764.3 855.6 L764.8 853.3 L765.3 851.0 L765.8 848.4 L766.3 845.7 L766.8 842.9 L767.3 840.0 L767.8 837.0 L768.3 833.9 L768.8 830.8 L769.3 827.7 L769.8 824.5 L770.3 821.3 L770.8 818.2 L771.3 815.1 L771.8 812.1 L772.3 809.1 L772.8 806.3 L773.3 803.5 L773.8 800.9 L774.3 798.5 L774.8 796.2 L775.3 794.1 L775.8 792.2 L776.3 790.6 L776.8 789.2 L777.3 788.1 L777.8 787.2 L778.3 786.6 L778.8 786.4 L779.3 786.5 L779.8 786.9 L780.3 787.5 L780.8 788.3 L781.3 789.4 L781.8 790.7 L782.3 792.2 L782.8 793.8 L783.3 795.6 L783.8 797.5 L784.3 799.6 L784.8 801.7 L785.3 804.0 L785.8 806.3 L786.3 808.6 L786.8 811.0 L787.3 813.4 L787.8 815.8 L788.3 818.1 L788.8 820.5 L789.3 822.7 L789.8 824.9 L790.3 827.1 L790.8 829.1 L791.3 830.9 L791.8 832.7 L792.3 834.3 L792.8 835.6 L793.3 836.9 L793.8 837.8 L794.3 838.6 L794.8 839.1 L795.3 839.4 L795.8 839.3 L796.3 839.0 L796.8 838.4 L797.3 837.6 L797.8 836.5 L798.3 835.2 L798.8 833.6 L799.3 831.9 L799.8 830.1 L800.3 828.0 L800.8 825.9 L801.3 823.6 L801.8 821.3 L802.3 818.8 L802.8 816.3 L803.3 813.8 L803.8 811.2 L804.3 808.7 L804.8 806.1 L805.3 803.6 L805.8 801.1 L806.3 798.7 L806.8 796.4 L807.3 794.1 L807.8 792.0 L808.3 790.1 L808.8 788.3 L809.3 786.6 L809.8 785.2 L810.3 784.0 L810.8 783.0 L811.3 782.2 L811.8 781.7 L812.3 781.5 L812.8 781.6 L813.3 782.0 L813.8 782.7 L814.3 783.6 L814.8 784.8 L815.3 786.2 L815.8 787.9 L816.3 789.7 L816.8 791.7 L817.3 793.8 L817.8 796.0 L818.3 798.4 L818.8 800.9 L819.3 803.4 L819.8 805.9 L820.3 808.5 L820.8 811.2 L821.3 813.8 L821.8 816.3 L822.3 818.8 L822.8 821.3 L823.3 823.7 L823.8 825.9 L824.3 828.0 L824.8 830.0 L825.3 831.8 L825.8 833.5 L826.3 834.9 L826.8 836.1 L827.3 837.0 L827.8 837.7 L828.3 838.1 L828.8 838.2 L829.3 838.0 L829.8 837.5 L830.3 836.7 L830.8 835.7 L831.3 834.5 L831.8 833.1 L832.3 831.4 L832.8 829.6 L833.3 827.6 L833.8 825.4 L834.3 823.1 L834.8 820.7 L835.3 818.2 L835.8 815.6 L836.3 812.9 L836.8 810.1 L837.3 807.4 L837.8 804.6 L838.3 801.7 L838.8 798.9 L839.3 796.2 L839.8 793.4 L840.3 790.7 L840.8 788.1 L841.3 785.6 L841.8 783.2 L842.3 780.9 L842.8 778.7 L843.3 776.7 L843.8 774.9 L844.3 773.2 L844.8 771.8 L845.3 770.6 L845.8 769.6 L846.3 768.8 L846.8 768.3 L847.3 768.1 L847.8 768.2 L848.3 768.6 L848.8 769.2 L849.3 770.1 L849.8 771.2 L850.3 772.5 L850.8 774.0 L851.3 775.6 L851.8 777.4 L852.3 779.3 L852.8 781.4 L853.3 783.5 L853.8 785.7 L854.3 788.0 L854.8 790.3 L855.3 792.6 L855.8 794.9 L856.3 797.2 L856.8 799.5 L857.3 801.7 L857.8 803.8 L858.3 805.8 L858.8 807.8 L859.3 809.5 L859.8 811.2 L860.3 812.6 L860.8 813.9 L861.3 814.9 L861.8 815.8 L862.3 816.3 L862.8 816.6 L863.3 816.7 L863.8 816.4 L864.3 815.9 L864.8 815.2 L865.3 814.2 L865.8 813.0 L866.3 811.5 L866.8 810.0 L867.3 808.2 L867.8 806.3 L868.3 804.2 L868.8 802.1 L869.3 799.8 L869.8 797.4 L870.3 795.0 L870.8 792.5 L871.3 789.9 L871.8 787.4 L872.3 784.8 L872.8 782.2 L873.3 779.6 L873.8 777.1 L874.3 774.7 L874.8 772.3 L875.3 769.9 L875.8 767.7 L876.3 765.6 L876.8 763.7 L877.3 761.8 L877.8 760.2 L878.3 758.7 L878.8 757.4 L879.3 756.3 L879.8 755.5 L880.3 754.8 L880.8 754.5 L881.3 754.4 L881.8 754.6 L882.3 755.1 L882.8 755.8 L883.3 756.8 L883.8 758.0 L884.3 759.4 L884.8 761.0 L885.3 762.8 L885.8 764.7 L886.3 766.8 L886.8 768.9 L887.3 771.2 L887.8 773.5 L888.3 775.9 L888.8 778.4 L889.3 780.9 L889.8 783.3 L890.3 785.8 L890.8 788.2 L891.3 790.6 L891.8 793.0 L892.3 795.2 L892.8 797.4 L893.3 799.4 L893.8 801.3 L894.3 803.0 L894.8 804.6 L895.3 805.9 L895.8 807.1 L896.3 808.0 L896.8 808.7 L897.3 809.2 L897.8 809.3 L898.3 809.1 L898.8 808.7 L899.3 807.9 L899.8 806.9 L900.3 805.7 L900.8 804.2 L901.3 802.6 L901.8 800.7 L902.3 798.7 L902.8 796.6 L903.3 794.3 L903.8 792.0 L904.3 789.5 L904.8 787.0 L905.3 784.5 L905.8 782.0 L906.3 779.5 L906.8 777.0 L907.3 774.5 L907.8 772.1 L908.3 769.8 L908.8 767.6 L909.3 765.6 L909.8 763.7 L910.3 761.9 L910.8 760.4 L911.3 759.0 L911.8 757.9 L912.3 757.1 L912.8 756.5 L913.3 756.2 L913.8 756.3 L914.3 756.6 L914.8 757.3 L915.3 758.3 L915.8 759.5 L916.3 761.0 L916.8 762.7 L917.3 764.7 L917.8 766.9 L918.3 769.2 L918.8 771.7 L919.3 774.4 L919.8 777.2 L920.3 780.1 L920.8 783.1 L921.3 786.2 L921.8 789.4 L922.3 792.6 L922.8 795.9 L923.3 799.1 L923.8 802.3 L924.3 805.6 L924.8 808.7 L925.3 811.8 L925.8 814.9 L926.3 817.8 L926.8 820.7 L927.3 823.4 L927.8 825.9 L928.3 828.3 L928.8 830.5 L929.3 832.5 L929.8 834.3 L930.3 835.8 L930.8 837.1 L931.3 838.1 L931.8 838.9 L932.3 839.3 L932.8 839.4 L933.3 839.2 L933.8 838.6 L934.3 837.8 L934.8 836.6 L935.3 835.3 L935.8 833.7 L936.3 831.8 L936.8 829.8 L937.3 827.6 L937.8 825.3 L938.3 822.8 L938.8 820.3 L939.3 817.6 L939.8 814.9 L940.3 812.1 L940.8 809.3 L941.3 806.5 L941.8 803.7 L942.3 800.9 L942.8 798.2 L943.3 795.6 L943.8 793.1 L944.3 790.6 L944.8 788.4 L945.3 786.2 L945.8 784.3 L946.3 782.6 L946.8 781.0 L947.3 779.8 L947.8 778.8 L948.3 778.0 L948.8 777.6 L949.3 777.5 L949.8 777.7 L950.3 778.2 L950.8 778.9 L951.3 779.8 L951.8 780.9 L952.3 782.3 L952.8 783.8 L953.3 785.4 L953.8 787.2 L954.3 789.2 L954.8 791.2 L955.3 793.3 L955.8 795.5 L956.3 797.8 L956.8 800.1 L957.3 802.3 L957.8 804.6 L958.3 806.9 L958.8 809.2 L959.3 811.4 L959.8 813.5 L960.3 815.5 L960.8 817.5 L961.3 819.3 L961.8 820.9 L962.3 822.4 L962.8 823.8 L963.3 824.9 L963.8 825.8 L964.3 826.5 L964.8 827.0 L965.3 827.2 L965.8 827.1 L966.3 826.7 L966.8 826.0 L967.3 825.1 L967.8 823.9 L968.3 822.4 L968.8 820.8 L969.3 818.9 L969.8 816.9 L970.3 814.7 L970.8 812.4 L971.3 809.9 L971.8 807.3 L972.3 804.6 L972.8 801.8 L973.3 799.0 L973.8 796.1 L974.3 793.2 L974.8 790.3 L975.3 787.4 L975.8 784.6 L976.3 781.7 L976.8 778.9 L977.3 776.2 L977.8 773.6 L978.3 771.1 L978.8 768.8 L979.3 766.5 L979.8 764.5 L980.3 762.6 L980.8 760.9 L981.3 759.4 L981.8 758.1 L982.3 757.1 L982.8 756.4 L983.3 756.0 L983.8 755.8 L984.3 755.9 L984.8 756.4 L985.3 757.0 L985.8 757.9 L986.3 759.1 L986.8 760.4 L987.3 761.9 L987.8 763.6 L988.3 765.5 L988.8 767.4 L989.3 769.5 L989.8 771.7 L990.3 774.0 L990.8 776.3 L991.3 778.7 L991.8 781.1 L992.3 783.5 L992.8 785.9 L993.3 788.3 L993.8 790.7 L994.3 792.9 L994.8 795.1 L995.3 797.3 L995.8 799.3 L996.3 801.1 L996.8 802.8 L997.3 804.4 L997.8 805.8 L998.3 806.9 L998.8 807.9 L999.3 808.6 L999.8 809.1 L1000.3 809.3 L1000.8 809.2 L1001.3 808.8 L1001.8 808.1 L1002.3 807.2 L1002.8 806.0 L1003.3 804.6 L1003.8 803.0 L1004.3 801.2 L1004.8 799.2 L1005.3 797.0 L1005.8 794.7 L1006.3 792.3 L1006.8 789.8 L1007.3 787.2 L1007.8 784.5 L1008.3 781.7 L1008.8 779.0 L1009.3 776.2 L1009.8 773.4 L1010.3 770.6 L1010.8 767.8 L1011.3 765.1 L1011.8 762.4 L1012.3 759.9 L1012.8 757.4 L1013.3 755.1 L1013.8 752.9 L1014.3 750.8 L1014.8 748.9 L1015.3 747.2 L1015.8 745.7 L1016.3 744.4 L1016.8 743.4 L1017.3 742.6 L1017.8 742.1 L1018.3 741.9 L1018.8 742.0 L1019.3 742.4 L1019.8 743.1 L1020.3 744.0 L1020.8 745.2 L1021.3 746.5 L1021.8 748.1 L1022.3 749.9 L1022.8 751.8 L1023.3 753.9 L1023.8 756.0 L1024.3 758.3 L1024.8 760.7 L1025.3 763.1 L1025.8 765.5 L1026.3 768.0 L1026.8 770.5 L1027.3 772.9 L1027.8 775.3 L1028.3 777.6 L1028.8 779.9 L1029.3 782.1 L1029.8 784.1 L1030.3 786.0 L1030.8 787.7 L1031.3 789.3 L1031.8 790.6 L1032.3 791.7 L1032.8 792.6 L1033.3 793.2 L1033.8 793.5 L1034.3 793.6 L1034.8 793.3 L1035.3 792.7 L1035.8 791.9 L1036.3 790.8 L1036.8 789.4 L1037.3 787.9 L1037.8 786.1 L1038.3 784.1 L1038.8 782.0 L1039.3 779.8 L1039.8 777.4 L1040.3 774.9 L1040.8 772.3 L1041.3 769.6 L1041.8 766.9 L1042.3 764.1 L1042.8 761.4 L1043.3 758.6 L1043.8 755.8 L1044.3 753.1 L1044.8 750.4 L1045.3 747.8 L1045.8 745.3 L1046.3 742.9 L1046.8 740.7 L1047.3 738.6 L1047.8 736.6 L1048.3 734.8 L1048.8 733.3 L1049.3 731.9 L1049.8 730.8 L1050.3 730.0 L1050.8 729.4 L1051.3 729.1 L1051.8 729.2 L1052.3 729.5 L1052.8 730.0 L1053.3 730.9 L1053.8 731.9 L1054.3 733.2 L1054.8 734.7 L1055.3 736.4 L1055.8 738.2 L1056.3 740.1 L1056.8 742.3 L1057.3 744.5 L1057.8 746.8 L1058.3 749.2 L1058.8 751.6 L1059.3 754.1 L1059.8 756.7 L1060.3 759.2 L1060.8 761.8 L1061.3 764.3 L1061.8 766.7 L1062.3 769.2 L1062.8 771.5 L1063.3 773.8 L1063.8 775.9 L1064.3 778.0 L1064.8 779.8 L1065.3 781.6 L1065.8 783.1 L1066.3 784.5 L1066.8 785.6 L1067.3 786.6 L1067.8 787.2 L1068.3 787.7 L1068.8 787.8 L1069.3 787.6 L1069.8 787.2 L1070.3 786.4 L1070.8 785.4 L1071.3 784.1 L1071.8 782.7 L1072.3 781.0 L1072.8 779.1 L1073.3 777.1 L1073.8 774.9 L1074.3 772.6 L1074.8 770.2 L1075.3 767.8 L1075.8 765.2 L1076.3 762.7 L1076.8 760.1 L1077.3 757.5 L1077.8 755.0 L1078.3 752.4 L1078.8 750.0 L1079.3 747.7 L1079.8 745.4 L1080.3 743.3 L1080.8 741.3 L1081.3 739.5 L1081.8 737.9 L1082.3 736.5 L1082.8 735.4 L1083.3 734.4 L1083.8 733.8 L1084.3 733.5 L1084.8 733.4 L1085.3 733.7 L1085.8 734.2 L1086.3 735.0 L1086.8 736.1 L1087.3 737.3 L1087.8 738.8 L1088.3 740.5 L1088.8 742.3 L1089.3 744.3 L1089.8 746.4 L1090.3 748.7 L1090.8 751.1 L1091.3 753.5 L1091.8 756.0 L1092.3 758.6 L1092.8 761.2 L1093.3 763.8 L1093.8 766.5 L1094.3 769.1 L1094.8 771.7 L1095.3 774.2 L1095.8 776.7 L1096.3 779.0 L1096.8 781.3 L1097.3 783.5 L1097.8 785.5 L1098.3 787.4 L1098.8 789.1 L1099.3 790.6 L1099.8 791.9 L1100.3 793.0 L1100.8 793.8 L1101.3 794.4 L1101.8 794.7 L1102.3 794.8 L1102.8 794.5 L1103.3 793.9 L1103.8 793.0 L1104.3 791.8 L1104.8 790.4 L1105.3 788.8 L1105.8 786.9 L1106.3 784.9 L1106.8 782.6 L1107.3 780.2 L1107.8 777.7 L1108.3 775.0 L1108.8 772.2 L1109.3 769.3 L1109.8 766.3 L1110.3 763.3 L1110.8 760.3 L1111.3 757.2 L1111.8 754.1 L1112.3 751.0 L1112.8 748.0 L1113.3 745.0 L1113.8 742.0 L1114.3 739.2 L1114.8 736.4 L1115.3 733.8 L1115.8 731.3 L1116.3 728.9 L1116.8 726.8 L1117.3 724.8 L1117.8 723.0 L1118.3 721.5 L1118.8 720.2 L1119.3 719.1 L1119.8 718.3 L1120.3 717.9 L1120.8 717.7 L1121.3 717.8 L1121.8 718.2 L1122.3 718.9 L1122.8 719.7 L1123.3 720.8 L1123.8 722.0 L1124.3 723.4 L1124.8 725.0 L1125.3 726.7 L1125.8 728.5 L1126.3 730.4 L1126.8 732.4 L1127.3 734.5 L1127.8 736.6 L1128.3 738.7 L1128.8 740.8 L1129.3 742.9 L1129.8 745.0 L1130.3 747.1 L1130.8 749.0 L1131.3 750.9 L1131.8 752.7 L1132.3 754.4 L1132.8 756.0 L1133.3 757.3 L1133.8 758.5 L1134.3 759.6 L1134.8 760.4 L1135.3 761.0 L1135.8 761.3 L1136.3 761.4 L1136.8 761.2 L1137.3 760.9 L1137.8 760.4 L1138.3 759.7 L1138.8 758.8 L1139.3 757.8 L1139.8 756.7 L1140.3 755.4 L1140.8 754.0 L1141.3 752.6 L1141.8 751.1 L1142.3 749.5 L1142.8 747.9 L1143.3 746.2 L1143.8 744.5 L1144.3 742.8 L1144.8 741.1 L1145.3 739.4 L1145.8 737.8 L1146.3 736.2 L1146.8 734.7 L1147.3 733.3 L1147.8 731.9 L1148.3 730.6 L1148.8 729.5 L1149.3 728.5 L1149.8 727.6 L1150.3 726.9 L1150.8 726.4 L1151.3 726.1 L1151.8 725.9 L1152.3 726.0 L1152.8 726.3 L1153.3 727.0 L1153.8 727.8 L1154.3 728.9 L1154.8 730.2 L1155.3 731.7 L1155.8 733.4 L1156.3 735.3 L1156.8 737.4 L1157.3 739.5 L1157.8 741.8 L1158.3 744.3 L1158.8 746.8 L1159.3 749.4 L1159.8 752.1 L1160.3 754.9 L1160.8 757.7 L1161.3 760.5 L1161.8 763.4 L1162.3 766.3 L1162.8 769.1 L1163.3 771.9 L1163.8 774.7 L1164.3 777.5 L1164.8 780.1 L1165.3 782.7 L1165.8 785.2 L1166.3 787.6 L1166.8 789.9 L1167.3 792.0 L1167.8 794.0 L1168.3 795.8 L1168.8 797.4 L1169.3 798.8 L1169.8 800.0 L1170.3 801.0 L1170.8 801.8 L1171.3 802.3 L1171.8 802.6 L1172.3 802.6 L1172.8 802.3 L1173.3 801.8 L1173.8 801.1 L1174.3 800.2 L1174.8 799.2 L1175.3 797.9 L1175.8 796.6 L1176.3 795.1 L1176.8 793.5 L1177.3 791.8 L1177.8 790.1 L1178.3 788.3 L1178.8 786.5 L1179.3 784.6 L1179.8 782.8 L1180.3 781.0 L1180.8 779.1 L1181.3 777.4 L1181.8 775.7 L1182.3 774.1 L1182.8 772.6 L1183.3 771.2 L1183.8 770.0 L1184.3 768.9 L1184.8 768.0 L1185.3 767.2 L1185.8 766.7 L1186.3 766.4 L1186.8 766.3 L1187.3 766.5 L1187.8 767.1 L1188.3 768.0 L1188.8 769.1 L1189.3 770.5 L1189.8 772.2 L1190.3 774.1 L1190.8 776.2 L1191.3 778.5 L1191.8 781.0 L1192.3 783.7 L1192.8 786.4 L1193.3 789.3 L1193.8 792.3 L1194.3 795.4 L1194.8 798.5 L1195.3 801.7 L1195.8 804.9 L1196.3 808.1 L1196.8 811.3 L1197.3 814.4 L1197.8 817.6 L1198.3 820.6 L1198.8 823.6 L1199.3 826.4 L1199.8 829.1 L1200.3 831.7 L1200.8 834.1 L1201.3 836.3 L1201.8 838.4 L1202.3 840.2 L1202.8 841.8 L1203.3 843.1 L1203.8 844.1 L1204.3 844.9 L1204.8 845.3 L1205.3 845.4 L1205.8 845.2 L1206.3 844.6 L1206.8 843.8 L1207.3 842.7 L1207.8 841.4 L1208.3 839.8 L1208.8 838.1 L1209.3 836.1 L1209.8 834.0 L1210.3 831.7 L1210.8 829.3 L1211.3 826.8 L1211.8 824.1 L1212.3 821.5 L1212.8 818.7 L1213.3 816.0 L1213.8 813.2 L1214.3 810.4 L1214.8 807.7 L1215.3 805.0 L1215.8 802.4 L1216.3 799.8 L1216.8 797.4 L1217.3 795.1 L1217.8 792.9 L1218.3 790.9 L1218.8 789.1 L1219.3 787.5 L1219.8 786.1 L1220.3 785.0 L1220.8 784.1 L1221.3 783.5 L1221.8 783.2 L1222.3 783.3 L1222.8 783.7 L1223.3 784.4 L1223.8 785.5 L1224.3 786.8 L1224.8 788.4 L1225.3 790.3 L1225.8 792.4 L1226.3 794.7 L1226.8 797.2 L1227.3 799.8 L1227.8 802.6 L1228.3 805.4 L1228.8 808.4 L1229.3 811.4 L1229.8 814.5 L1230.3 817.6 L1230.8 820.6 L1231.3 823.7 L1231.8 826.7 L1232.3 829.6 L1232.8 832.5 L1233.3 835.2 L1233.8 837.7 L1234.3 840.2 L1234.8 842.4 L1235.3 844.4 L1235.8 846.1 L1236.3 847.7 L1236.8 848.9 L1237.3 849.8 L1237.8 850.4 L1238.3 850.7 L1238.8 850.6 L1239.3 850.2 L1239.8 849.6 L1240.3 848.7 L1240.8 847.6 L1241.3 846.3 L1241.8 844.8 L1242.3 843.1 L1242.8 841.2 L1243.3 839.2 L1243.8 837.1 L1244.3 834.9 L1244.8 832.6 L1245.3 830.2 L1245.8 827.8 L1246.3 825.3 L1246.8 822.9 L1247.3 820.4 L1247.8 817.9 L1248.3 815.5 L1248.8 813.2 L1249.3 810.9 L1249.8 808.7 L1250.3 806.7 L1250.8 804.7 L1251.3 802.9 L1251.8 801.3 L1252.3 799.9 L1252.8 798.6 L1253.3 797.6 L1253.8 796.8 L1254.3 796.3 L1254.8 796.0 L1255.3 796.1 L1255.8 796.4 L1256.3 797.1 L1256.8 798.1 L1257.3 799.3 L1257.8 800.9 L1258.3 802.6 L1258.8 804.6 L1259.3 806.7 L1259.8 809.1 L1260.3 811.6 L1260.8 814.2 L1261.3 817.0 L1261.8 819.9 L1262.3 822.8 L1262.8 825.9 L1263.3 828.9 L1263.8 832.0 L1264.3 835.1 L1264.8 838.2 L1265.3 841.2 L1265.8 844.2 L1266.3 847.2 L1266.8 850.0 L1267.3 852.7 L1267.8 855.3 L1268.3 857.8 L1268.8 860.0 L1269.3 862.1 L1269.8 864.0 L1270.3 865.7 L1270.8 867.1 L1271.3 868.2 L1271.8 869.1 L1272.3 869.7 L1272.8 869.9 L1273.3 869.8 L1273.8 869.3 L1274.3 868.5 L1274.8 867.4 L1275.3 866.1 L1275.8 864.4 L1276.3 862.6 L1276.8 860.5 L1277.3 858.3 L1277.8 855.8 L1278.3 853.3 L1278.8 850.6 L1279.3 847.8 L1279.8 845.0 L1280.3 842.1 L1280.8 839.2 L1281.3 836.3 L1281.8 833.4 L1282.3 830.6 L1282.8 827.9 L1283.3 825.2 L1283.8 822.7 L1284.3 820.3 L1284.8 818.1 L1285.3 816.0 L1285.8 814.2 L1286.3 812.6 L1286.8 811.3 L1287.3 810.3 L1287.8 809.6 L1288.3 809.2 L1288.8 809.1 L1289.3 809.4 L1289.8 810.0 L1290.3 811.0 L1290.8 812.2 L1291.3 813.6 L1291.8 815.3 L1292.3 817.2 L1292.8 819.4 L1293.3 821.7 L1293.8 824.2 L1294.3 826.8 L1294.8 829.6 L1295.3 832.5 L1295.8 835.5 L1296.3 838.5 L1296.8 841.7 L1297.3 844.8 L1297.8 848.0 L1298.3 851.2 L1298.8 854.4 L1299.3 857.5 L1299.8 860.6 L1300.3 863.6 L1300.8 866.5 L1301.3 869.4 L1301.8 872.1 L1302.3 874.6 L1302.8 877.0 L1303.3 879.2 L1303.8 881.2 L1304.3 883.0 L1304.8 884.6 L1305.3 885.9 L1305.8 886.9 L1306.3 887.7 L1306.8 888.1 L1307.3 888.2 L1307.8 888.0 L1308.3 887.4 L1308.8 886.5 L1309.3 885.4 L1309.8 883.9 L1310.3 882.3 L1310.8 880.4 L1311.3 878.3 L1311.8 876.0 L1312.3 873.5 L1312.8 870.9 L1313.3 868.2 L1313.8 865.4 L1314.3 862.5 L1314.8 859.5 L1315.3 856.5 L1315.8 853.5 L1316.3 850.4 L1316.8 847.4 L1317.3 844.4 L1317.8 841.5 L1318.3 838.7 L1318.8 835.9 L1319.3 833.3 L1319.8 830.8 L1320.3 828.5 L1320.8 826.3 L1321.3 824.4 L1321.8 822.7 L1322.3 821.2 L1322.8 820.0 L1323.3 819.1 L1323.8 818.4 L1324.3 818.1 L1324.8 818.2 L1325.3 818.5 L1325.8 819.2 L1326.3 820.1 L1326.8 821.3 L1327.3 822.8 L1327.8 824.4 L1328.3 826.3 L1328.8 828.4 L1329.3 830.6 L1329.8 833.0 L1330.3 835.5 L1330.8 838.1 L1331.3 840.8 L1331.8 843.6 L1332.3 846.4 L1332.8 849.3 L1333.3 852.1 L1333.8 855.0 L1334.3 857.8 L1334.8 860.6 L1335.3 863.3 L1335.8 865.9 L1336.3 868.4 L1336.8 870.8 L1337.3 873.0 L1337.8 875.1 L1338.3 877.0 L1338.8 878.6 L1339.3 880.1 L1339.8 881.3 L1340.3 882.2 L1340.8 882.9 L1341.3 883.2 L1341.8 883.3 L1342.3 883.0 L1342.8 882.3 L1343.3 881.3 L1343.8 880.1 L1344.3 878.5 L1344.8 876.7 L1345.3 874.7 L1345.8 872.4 L1346.3 870.0 L1346.8 867.4 L1347.3 864.6 L1347.8 861.8 L1348.3 858.8 L1348.8 855.7 L1349.3 852.5 L1349.8 849.3 L1350.3 846.0 L1350.8 842.8 L1351.3 839.6 L1351.8 836.4 L1352.3 833.2 L1352.8 830.1 L1353.3 827.2 L1353.8 824.3 L1354.3 821.6 L1354.8 819.0 L1355.3 816.6 L1355.8 814.4 L1356.3 812.4 L1356.8 810.7 L1357.3 809.2 L1357.8 808.0 L1358.3 807.0 L1358.8 806.5 L1359.3 806.2 L1359.8 806.3 L1360.3 806.7 L1360.8 807.4 L1361.3 808.3 L1361.8 809.5 L1362.3 810.9 L1362.8 812.5 L1363.3 814.2 L1363.8 816.2 L1364.3 818.2 L1364.8 820.4 L1365.3 822.7 L1365.8 825.1 L1366.3 827.5 L1366.8 830.0 L1367.3 832.5 L1367.8 835.0 L1368.3 837.5 L1368.8 839.9 L1369.3 842.3 L1369.8 844.6 L1370.3 846.8 L1370.8 848.8 L1371.3 850.8 L1371.8 852.5 L1372.3 854.1 L1372.8 855.5 L1373.3 856.7 L1373.8 857.6 L1374.3 858.3 L1374.8 858.7 L1375.3 858.8 L1375.8 858.5 L1376.3 857.9 L1376.8 857.0 L1377.3 855.8 L1377.8 854.3 L1378.3 852.5 L1378.8 850.5 L1379.3 848.3 L1379.8 845.9 L1380.3 843.3 L1380.8 840.6 L1381.3 837.8 L1381.8 834.8 L1382.3 831.8 L1382.8 828.7 L1383.3 825.5 L1383.8 822.3 L1384.3 819.2 L1384.8 816.0 L1385.3 812.9 L1385.8 809.9 L1386.3 807.0 L1386.8 804.1 L1387.3 801.4 L1387.8 798.9 L1388.3 796.5 L1388.8 794.3 L1389.3 792.4 L1389.8 790.7 L1390.3 789.2 L1390.8 788.1 L1391.3 787.2 L1391.8 786.7 L1392.3 786.5 L1392.8 786.7 L1393.3 787.1 L1393.8 787.9 L1394.3 788.9 L1394.8 790.2 L1395.3 791.7 L1395.8 793.4 L1396.3 795.3 L1396.8 797.4 L1397.3 799.6 L1397.8 801.9 L1398.3 804.4 L1398.8 807.0 L1399.3 809.6 L1399.8 812.3 L1400.3 815.1 L1400.8 817.9 L1401.3 820.6 L1401.8 823.4 L1402.3 826.1 L1402.8 828.7 L1403.3 831.3 L1403.8 833.8 L1404.3 836.1 L1404.8 838.3 L1405.3 840.4 L1405.8 842.3 L1406.3 844.0 L1406.8 845.5 L1407.3 846.8 L1407.8 847.8 L1408.3 848.6 L1408.8 849.0 L1409.3 849.2 L1409.8 849.0 L1410.3 848.5 L1410.8 847.6 L1411.3 846.4 L1411.8 844.9 L1412.3 843.2 L1412.8 841.2 L1413.3 839.0 L1413.8 836.5 L1414.3 833.9 L1414.8 831.2 L1415.3 828.3 L1415.8 825.2 L1416.3 822.1 L1416.8 818.9 L1417.3 815.7 L1417.8 812.4 L1418.3 809.1 L1418.8 805.9 L1419.3 802.6 L1419.8 799.4 L1420.3 796.3 L1420.8 793.3 L1421.3 790.5 L1421.8 787.7 L1422.3 785.2 L1422.8 782.8 L1423.3 780.6 L1423.8 778.6 L1424.3 776.9 L1424.8 775.5 L1425.3 774.4 L1425.8 773.6 L1426.3 773.1 L1426.8 773.0 L1427.3 773.2 L1427.8 773.6 L1428.3 774.3 L1428.8 775.1 L1429.3 776.2 L1429.8 777.4 L1430.3 778.8 L1430.8 780.3 L1431.3 782.0 L1431.8 783.8 L1432.3 785.6 L1432.8 787.6 L1433.3 789.6 L1433.8 791.6 L1434.3 793.7 L1434.8 795.8 L1435.3 797.9 L1435.8 799.9 L1436.3 801.9 L1436.8 803.9 L1437.3 805.8 L1437.8 807.6 L1438.3 809.2 L1438.8 810.8 L1439.3 812.2 L1439.8 813.5 L1440.3 814.6 L1440.8 815.5 L1441.3 816.2 L1441.8 816.6 L1442.3 816.9 L1442.8 816.8 L1443.3 816.5 L1443.8 815.9 L1444.3 815.1 L1444.8 814.0 L1445.3 812.7 L1445.8 811.2 L1446.3 809.5 L1446.8 807.6 L1447.3 805.6 L1447.8 803.4 L1448.3 801.1 L1448.8 798.7 L1449.3 796.1 L1449.8 793.6 L1450.3 790.9 L1450.8 788.2 L1451.3 785.5 L1451.8 782.8 L1452.3 780.1 L1452.8 777.4 L1453.3 774.7 L1453.8 772.1 L1454.3 769.5 L1454.8 767.1 L1455.3 764.7 L1455.8 762.5 L1456.3 760.4 L1456.8 758.5 L1457.3 756.7 L1457.8 755.1 L1458.3 753.7 L1458.8 752.5 L1459.3 751.6 L1459.8 750.9 L1460.3 750.4 L1460.8 750.3 L1461.3 750.4 L1461.8 750.8 L1462.3 751.5 L1462.8 752.3 L1463.3 753.4 L1463.8 754.6 L1464.3 756.0 L1464.8 757.6 L1465.3 759.3 L1465.8 761.2 L1466.3 763.1 L1466.8 765.2 L1467.3 767.3 L1467.8 769.5 L1468.3 771.7 L1468.8 773.9 L1469.3 776.2 L1469.8 778.5 L1470.3 780.7 L1470.8 782.9 L1471.3 785.0 L1471.8 787.1 L1472.3 789.0 L1472.8 790.9 L1473.3 792.7 L1473.8 794.3 L1474.3 795.7 L1474.8 797.0 L1475.3 798.1 L1475.8 799.0 L1476.3 799.7 L1476.8 800.1 L1477.3 800.3 L1477.8 800.2 L1478.3 799.8 L1478.8 799.2 L1479.3 798.2 L1479.8 797.1 L1480.3 795.7 L1480.8 794.1 L1481.3 792.3 L1481.8 790.3 L1482.3 788.2 L1482.8 785.9 L1483.3 783.5 L1483.8 781.0 L1484.3 778.4 L1484.8 775.7 L1485.3 772.9 L1485.8 770.1 L1486.3 767.2 L1486.8 764.4 L1487.3 761.5 L1487.8 758.6 L1488.3 755.8 L1488.8 753.0 L1489.3 750.3 L1489.8 747.7 L1490.3 745.2 L1490.8 742.8 L1491.3 740.5 L1491.8 738.4 L1492.3 736.4 L1492.8 734.6 L1493.3 733.0 L1493.8 731.6 L1494.3 730.5 L1494.8 729.5 L1495.3 728.9 L1495.8 728.5 L1496.3 728.4 L1496.8 728.6 L1497.3 729.1 L1497.8 729.8 L1498.3 730.7 L1498.8 731.9 L1499.3 733.2 L1499.8 734.8 L1500.3 736.5 L1500.8 738.3 L1501.3 740.3 L1501.8 742.4 L1502.3 744.5 L1502.8 746.7 L1503.3 749.0 L1503.8 751.4 L1504.3 753.7 L1504.8 756.1 L1505.3 758.4 L1505.8 760.7 L1506.3 762.9 L1506.8 765.1 L1507.3 767.2 L1507.8 769.2 L1508.3 771.1 L1508.8 772.8 L1509.3 774.4 L1509.8 775.8 L1510.3 777.0 L1510.8 777.9 L1511.3 778.7 L1511.8 779.2 L1512.3 779.5 L1512.8 779.4 L1513.3 779.1 L1513.8 778.5 L1514.3 777.6 L1514.8 776.5 L1515.3 775.1 L1515.8 773.5 L1516.3 771.7 L1516.8 769.7 L1517.3 767.6 L1517.8 765.3 L1518.3 762.9 L1518.8 760.4 L1519.3 757.8 L1519.8 755.2 L1520.3 752.4 L1520.8 749.7 L1521.3 746.9 L1521.8 744.1 L1522.3 741.3 L1522.8 738.5 L1523.3 735.8 L1523.8 733.2 L1524.3 730.6 L1524.8 728.2 L1525.3 725.9 L1525.8 723.7 L1526.3 721.7 L1526.8 719.8 L1527.3 718.1 L1527.8 716.7 L1528.3 715.4 L1528.8 714.4 L1529.3 713.7 L1529.8 713.3 L1530.3 713.1 L1530.8 713.2 L1531.3 713.6 L1531.8 714.3 L1532.3 715.1 L1532.8 716.2 L1533.3 717.5 L1533.8 718.9 L1534.3 720.5 L1534.8 722.2 L1535.3 724.1 L1535.8 726.0 L1536.3 728.1 L1536.8 730.2 L1537.3 732.4 L1537.8 734.6 L1538.3 736.9 L1538.8 739.1 L1539.3 741.3 L1539.8 743.5 L1540.3 745.7 L1540.8 747.7 L1541.3 749.7 L1541.8 751.6 L1542.3 753.4 L1542.8 755.1 L1543.3 756.6 L1543.8 757.9 L1544.3 759.1 L1544.8 760.0 L1545.3 760.7 L1545.8 761.2 L1546.3 761.5 L1546.8 761.4 L1547.3 761.1 L1547.8 760.5 L1548.3 759.6 L1548.8 758.5 L1549.3 757.1 L1549.8 755.6 L1550.3 753.8 L1550.8 751.8 L1551.3 749.7 L1551.8 747.5 L1552.3 745.1 L1552.8 742.7 L1553.3 740.1 L1553.8 737.5 L1554.3 734.8 L1554.8 732.0 L1555.3 729.3 L1555.8 726.6 L1556.3 723.8 L1556.8 721.1 L1557.3 718.5 L1557.8 715.9 L1558.3 713.5 L1558.8 711.1 L1559.3 708.9 L1559.8 706.8 L1560.3 704.8 L1560.8 703.0 L1561.3 701.5 L1561.8 700.1 L1562.3 699.0 L1562.8 698.1 L1563.3 697.5 L1563.8 697.2 L1564.3 697.1 L1564.8 697.4 L1565.3 697.9 L1565.8 698.7 L1566.3 699.8 L1566.8 701.1 L1567.3 702.5 L1567.8 704.2 L1568.3 706.0 L1568.8 708.0 L1569.3 710.1 L1569.8 712.3 L1570.3 714.7 L1570.8 717.0 L1571.3 719.5 L1571.8 722.0 L1572.3 724.5 L1572.8 727.0 L1573.3 729.5 L1573.8 732.0 L1574.3 734.4 L1574.8 736.7 L1575.3 738.9 L1575.8 741.1 L1576.3 743.1 L1576.8 745.0 L1577.3 746.6 L1577.8 748.2 L1578.3 749.5 L1578.8 750.6 L1579.3 751.4 L1579.8 752.0 L1580.3 752.3 L1580.8 752.4 L1581.3 752.1 L1581.8 751.6 L1582.3 750.8 L1582.8 749.8 L1583.3 748.6 L1583.8 747.1 L1584.3 745.5 L1584.8 743.7 L1585.3 741.8 L1585.8 739.7 L1586.3 737.6 L1586.8 735.3 L1587.3 732.9 L1587.8 730.5 L1588.3 728.1 L1588.8 725.6 L1589.3 723.0 L1589.8 720.5 L1590.3 718.1 L1590.8 715.6 L1591.3 713.2 L1591.8 710.9 L1592.3 708.7 L1592.8 706.6 L1593.3 704.6 L1593.8 702.8 L1594.3 701.1 L1594.8 699.6 L1595.3 698.3 L1595.8 697.2 L1596.3 696.3 L1596.8 695.7 L1597.3 695.3 L1597.8 695.2 L1598.3 695.4 L1598.8 695.8 L1599.3 696.5 L1599.8 697.4 L1600.3 698.4 L1600.8 699.7 L1601.3 701.1 L1601.8 702.7 L1602.3 704.5 L1602.8 706.3 L1603.3 708.3 L1603.8 710.4 L1604.3 712.6 L1604.8 714.8 L1605.3 717.1 L1605.8 719.4 L1606.3 721.8 L1606.8 724.2 L1607.3 726.5 L1607.8 728.9 L1608.3 731.2 L1608.8 733.4 L1609.3 735.6 L1609.8 737.7 L1610.3 739.8 L1610.8 741.7 L1611.3 743.5 L1611.8 745.1 L1612.3 746.6 L1612.8 748.0 L1613.3 749.1 L1613.8 750.1 L1614.3 750.8 L1614.8 751.4 L1615.3 751.7 L1615.8 751.7 L1616.3 751.4 L1616.8 750.8 L1617.3 750.0 L1617.8 748.9 L1618.3 747.6 L1618.8 746.1 L1619.3 744.5 L1619.8 742.6 L1620.3 740.6 L1620.8 738.5 L1621.3 736.2 L1621.8 733.9 L1622.3 731.5 L1622.8 729.0 L1623.3 726.5 L1623.8 724.1 L1624.3 721.6 L1624.8 719.1 L1625.3 716.7 L1625.8 714.4 L1626.3 712.1 L1626.8 710.0 L1627.3 708.0 L1627.8 706.1 L1628.3 704.5 L1628.8 703.0 L1629.3 701.7 L1629.8 700.6 L1630.3 699.8 L1630.8 699.2 L1631.3 698.9 L1631.8 698.9 L1632.3 699.1 L1632.8 699.5 L1633.3 700.1 L1633.8 700.8 L1634.3 701.7 L1634.8 702.7 L1635.3 703.8 L1635.8 705.0 L1636.3 706.4 L1636.8 707.8 L1637.3 709.3 L1637.8 710.8 L1638.3 712.4 L1638.8 714.0 L1639.3 715.7 L1639.8 717.3 L1640.3 719.0 L1640.8 720.7 L1641.3 722.3 L1641.8 723.9 L1642.3 725.5 L1642.8 727.2 L1643.3 729.0 L1643.8 730.9 L1644.3 732.9 L1644.8 734.9 L1645.3 737.0 L1645.8 739.1" stroke="#FF3E3E"/>
<path d="M218.8 214.0 L219.3 234.0 L219.8 254.0 L220.3 274.0 L220.8 294.0 L221.3 314.0 L221.8 334.0 L222.3 354.0 L222.8 374.4 L223.3 395.2 L223.8 416.0 L224.3 436.6 L224.8 456.6 L225.3 475.6 L225.8 493.5 L226.3 510.3 L226.8 526.5 L227.3 542.0 L227.8 557.1 L228.3 571.9 L228.8 586.6 L229.3 601.2 L229.8 615.9 L230.3 630.4 L230.8 644.8 L231.3 659.0 L231.8 673.1 L232.3 687.1 L232.8 701.1 L233.3 715.0 L233.8 728.9 L234.3 742.8 L234.8 757.1 L235.3 771.7 L235.8 786.6 L236.3 801.4 L236.8 816.1 L237.3 830.4 L237.8 844.1 L238.3 857.1 L238.8 869.1 L239.3 880.0 L239.8 889.8 L240.3 898.8 L240.8 907.2 L241.3 915.1 L241.8 922.8 L242.3 930.5 L242.8 938.3 L243.3 946.6 L243.8 955.3 L244.3 964.6 L244.8 974.1 L245.3 983.7 L245.8 993.0 L246.3 1001.9 L246.8 1010.0 L247.3 1018.4 L247.8 1027.3 L248.3 1035.9 L248.8 1043.0 L249.3 1047.7 L249.8 1049.0 L250.3 1048.6 L250.8 1047.5 L251.3 1046.0 L251.8 1043.9 L252.3 1041.4 L252.8 1038.5 L253.3 1035.2 L253.8 1031.6 L254.3 1027.7 L254.8 1023.5 L255.3 1019.1 L255.8 1014.6 L256.3 1009.9 L256.8 1005.2 L257.3 1000.4 L257.8 995.6 L258.3 990.9 L258.8 986.2 L259.3 981.7 L259.8 977.3 L260.3 973.1 L260.8 969.2 L261.3 965.6 L261.8 962.3 L262.3 959.4 L262.8 956.9 L263.3 954.8 L263.8 953.3 L264.3 952.2 L264.8 951.8 L265.3 952.0 L265.8 953.0 L266.3 954.6 L266.8 956.9 L267.3 959.8 L267.8 963.2 L268.3 967.1 L268.8 971.5 L269.3 976.3 L269.8 981.5 L270.3 987.0 L270.8 992.8 L271.3 998.8 L271.8 1005.1 L272.3 1011.5 L272.8 1018.0 L273.3 1024.6 L273.8 1031.2 L274.3 1037.8 L274.8 1044.3 L275.3 1050.8 L275.8 1057.0 L276.3 1063.1 L276.8 1069.0 L277.3 1074.6 L277.8 1079.8 L278.3 1084.7 L278.8 1089.2 L279.3 1093.2 L279.8 1096.7 L280.3 1099.7 L280.8 1102.1 L281.3 1103.8 L281.8 1104.9 L282.3 1105.3 L282.8 1104.9 L283.3 1103.8 L283.8 1102.1 L284.3 1099.7 L284.8 1096.7 L285.3 1093.1 L285.8 1089.1 L286.3 1084.6 L286.8 1079.7 L287.3 1074.5 L287.8 1068.9 L288.3 1063.0 L288.8 1057.0 L289.3 1050.7 L289.8 1044.2 L290.3 1037.7 L290.8 1031.1 L291.3 1024.5 L291.8 1018.0 L292.3 1011.5 L292.8 1005.1 L293.3 998.9 L293.8 992.9 L294.3 987.1 L294.8 981.7 L295.3 976.5 L295.8 971.8 L296.3 967.5 L296.8 963.7 L297.3 960.4 L297.8 957.6 L298.3 955.5 L298.8 953.9 L299.3 953.1 L299.8 953.1 L300.3 953.7 L300.8 955.0 L301.3 956.8 L301.8 959.3 L302.3 962.3 L302.8 965.7 L303.3 969.6 L303.8 973.9 L304.3 978.6 L304.8 983.5 L305.3 988.7 L305.8 994.1 L306.3 999.7 L306.8 1005.4 L307.3 1011.2 L307.8 1017.1 L308.3 1023.0 L308.8 1028.8 L309.3 1034.5 L309.8 1040.1 L310.3 1045.5 L310.8 1050.7 L311.3 1055.6 L311.8 1060.3 L312.3 1064.6 L312.8 1068.5 L313.3 1071.9 L313.8 1074.9 L314.3 1077.4 L314.8 1079.2 L315.3 1080.5 L315.8 1081.1 L316.3 1081.1 L316.8 1080.4 L317.3 1079.3 L317.8 1077.5 L318.3 1075.3 L318.8 1072.6 L319.3 1069.5 L319.8 1066.0 L320.3 1062.2 L320.8 1058.0 L321.3 1053.4 L321.8 1048.6 L322.3 1043.6 L322.8 1038.4 L323.3 1032.9 L323.8 1027.3 L324.3 1021.6 L324.8 1015.8 L325.3 1010.0 L325.8 1004.1 L326.3 998.2 L326.8 992.4 L327.3 986.6 L327.8 980.9 L328.3 975.4 L328.8 970.0 L329.3 964.8 L329.8 959.8 L330.3 955.0 L330.8 950.6 L331.3 946.4 L331.8 942.6 L332.3 939.2 L332.8 936.2 L333.3 933.6 L333.8 931.5 L334.3 929.9 L334.8 928.8 L335.3 928.2 L335.8 928.3 L336.3 928.9 L336.8 930.1 L337.3 931.8 L337.8 933.9 L338.3 936.4 L338.8 939.3 L339.3 942.6 L339.8 946.1 L340.3 949.9 L340.8 954.0 L341.3 958.2 L341.8 962.6 L342.3 967.1 L342.8 971.7 L343.3 976.3 L343.8 981.0 L344.3 985.6 L344.8 990.1 L345.3 994.5 L345.8 998.7 L346.3 1002.8 L346.8 1006.6 L347.3 1010.1 L347.8 1013.4 L348.3 1016.3 L348.8 1018.8 L349.3 1020.9 L349.8 1022.6 L350.3 1023.8 L350.8 1024.4 L351.3 1024.4 L351.8 1023.9 L352.3 1022.6 L352.8 1020.9 L353.3 1018.5 L353.8 1015.7 L354.3 1012.4 L354.8 1008.6 L355.3 1004.4 L355.8 999.9 L356.3 995.1 L356.8 989.9 L357.3 984.6 L357.8 979.0 L358.3 973.2 L358.8 967.3 L359.3 961.3 L359.8 955.2 L360.3 949.1 L360.8 943.0 L361.3 936.9 L361.8 930.9 L362.3 925.1 L362.8 919.4 L363.3 913.9 L363.8 908.6 L364.3 903.5 L364.8 898.8 L365.3 894.5 L365.8 890.5 L366.3 886.9 L366.8 883.7 L367.3 881.1 L367.8 879.0 L368.3 877.4 L368.8 876.4 L369.3 876.1 L369.8 876.4 L370.3 877.1 L370.8 878.3 L371.3 880.0 L371.8 882.0 L372.3 884.5 L372.8 887.2 L373.3 890.3 L373.8 893.6 L374.3 897.2 L374.8 901.0 L375.3 904.9 L375.8 909.0 L376.3 913.2 L376.8 917.4 L377.3 921.8 L377.8 926.1 L378.3 930.4 L378.8 934.6 L379.3 938.8 L379.8 942.8 L380.3 946.7 L380.8 950.4 L381.3 953.8 L381.8 957.1 L382.3 960.0 L382.8 962.6 L383.3 964.9 L383.8 966.8 L384.3 968.3 L384.8 969.3 L385.3 969.9 L385.8 970.0 L386.3 969.5 L386.8 968.5 L387.3 967.0 L387.8 965.1 L388.3 962.8 L388.8 960.1 L389.3 957.0 L389.8 953.6 L390.3 949.9 L390.8 946.0 L391.3 941.8 L391.8 937.3 L392.3 932.7 L392.8 928.0 L393.3 923.1 L393.8 918.2 L394.3 913.2 L394.8 908.1 L395.3 903.1 L395.8 898.0 L396.3 893.0 L396.8 888.2 L397.3 883.4 L397.8 878.8 L398.3 874.3 L398.8 870.1 L399.3 866.0 L399.8 862.3 L400.3 858.8 L400.8 855.7 L401.3 852.9 L401.8 850.5 L402.3 848.5 L402.8 847.0 L403.3 845.9 L403.8 845.3 L404.3 845.2 L404.8 845.6 L405.3 846.4 L405.8 847.6 L406.3 849.1 L406.8 851.0 L407.3 853.1 L407.8 855.6 L408.3 858.2 L408.8 861.1 L409.3 864.2 L409.8 867.4 L410.3 870.8 L410.8 874.2 L411.3 877.8 L411.8 881.3 L412.3 884.9 L412.8 888.5 L413.3 892.1 L413.8 895.6 L414.3 899.0 L414.8 902.2 L415.3 905.4 L415.8 908.3 L416.3 911.1 L416.8 913.6 L417.3 915.9 L417.8 917.9 L418.3 919.5 L418.8 920.8 L419.3 921.8 L419.8 922.4 L420.3 922.5 L420.8 922.1 L421.3 921.3 L421.8 919.9 L422.3 918.2 L422.8 916.0 L423.3 913.4 L423.8 910.5 L424.3 907.3 L424.8 903.8 L425.3 900.0 L425.8 896.0 L426.3 891.8 L426.8 887.4 L427.3 882.9 L427.8 878.2 L428.3 873.5 L428.8 868.7 L429.3 864.0 L429.8 859.2 L430.3 854.5 L430.8 849.8 L431.3 845.2 L431.8 840.8 L432.3 836.5 L432.8 832.4 L433.3 828.5 L433.8 824.9 L434.3 821.6 L434.8 818.5 L435.3 815.8 L435.8 813.5 L436.3 811.5 L436.8 810.0 L437.3 809.0 L437.8 808.4 L438.3 808.3 L438.8 808.6 L439.3 809.3 L439.8 810.3 L440.3 811.5 L440.8 813.1 L441.3 814.9 L441.8 816.9 L442.3 819.1 L442.8 821.5 L443.3 824.1 L443.8 826.8 L444.3 829.7 L444.8 832.6 L445.3 835.7 L445.8 838.7 L446.3 841.9 L446.8 845.0 L447.3 848.1 L447.8 851.2 L448.3 854.3 L448.8 857.3 L449.3 860.1 L449.8 862.9 L450.3 865.6 L450.8 868.0 L451.3 870.3 L451.8 872.4 L452.3 874.3 L452.8 876.0 L453.3 877.3 L453.8 878.4 L454.3 879.2 L454.8 879.7 L455.3 879.8 L455.8 879.4 L456.3 878.6 L456.8 877.4 L457.3 875.7 L457.8 873.7 L458.3 871.3 L458.8 868.6 L459.3 865.6 L459.8 862.4 L460.3 858.9 L460.8 855.3 L461.3 851.5 L461.8 847.5 L462.3 843.4 L462.8 839.3 L463.3 835.1 L463.8 830.9 L464.3 826.7 L464.8 822.6 L465.3 818.5 L465.8 814.5 L466.3 810.7 L466.8 807.1 L467.3 803.6 L467.8 800.4 L468.3 797.4 L468.8 794.7 L469.3 792.3 L469.8 790.3 L470.3 788.6 L470.8 787.4 L471.3 786.6 L471.8 786.2 L472.3 786.3 L472.8 786.7 L473.3 787.5 L473.8 788.5 L474.3 789.8 L474.8 791.3 L475.3 793.0 L475.8 795.0 L476.3 797.1 L476.8 799.4 L477.3 801.9 L477.8 804.5 L478.3 807.1 L478.8 809.9 L479.3 812.7 L479.8 815.6 L480.3 818.5 L480.8 821.4 L481.3 824.3 L481.8 827.2 L482.3 830.0 L482.8 832.7 L483.3 835.4 L483.8 837.9 L484.3 840.3 L484.8 842.6 L485.3 844.6 L485.8 846.5 L486.3 848.2 L486.8 849.6 L487.3 850.8 L487.8 851.7 L488.3 852.3 L488.8 852.6 L489.3 852.5 L489.8 852.1 L490.3 851.2 L490.8 850.0 L491.3 848.4 L491.8 846.6 L492.3 844.4 L492.8 842.0 L493.3 839.3 L493.8 836.4 L494.3 833.3 L494.8 830.1 L495.3 826.7 L495.8 823.2 L496.3 819.6 L496.8 815.9 L497.3 812.2 L497.8 808.5 L498.3 804.8 L498.8 801.1 L499.3 797.5 L499.8 794.0 L500.3 790.6 L500.8 787.3 L501.3 784.2 L501.8 781.3 L502.3 778.6 L502.8 776.1 L503.3 773.8 L503.8 771.9 L504.3 770.3 L504.8 769.0 L505.3 768.1 L505.8 767.5 L506.3 767.4 L506.8 767.7 L507.3 768.4 L507.8 769.4 L508.3 770.8 L508.8 772.4 L509.3 774.4 L509.8 776.6 L510.3 779.1 L510.8 781.8 L511.3 784.6 L511.8 787.7 L512.3 790.8 L512.8 794.1 L513.3 797.5 L513.8 800.9 L514.3 804.4 L514.8 807.9 L515.3 811.4 L515.8 814.8 L516.3 818.2 L516.8 821.5 L517.3 824.7 L517.8 827.8 L518.3 830.7 L518.8 833.4 L519.3 835.9 L519.8 838.2 L520.3 840.2 L520.8 841.9 L521.3 843.4 L521.8 844.5 L522.3 845.2 L522.8 845.6 L523.3 845.5 L523.8 845.0 L524.3 844.0 L524.8 842.5 L525.3 840.7 L525.8 838.5 L526.3 836.0 L526.8 833.2 L527.3 830.1 L527.8 826.7 L528.3 823.2 L528.8 819.4 L529.3 815.6 L529.8 811.6 L530.3 807.5 L530.8 803.3 L531.3 799.2 L531.8 795.0 L532.3 790.9 L532.8 786.8 L533.3 782.9 L533.8 779.0 L534.3 775.4 L534.8 771.9 L535.3 768.7 L535.8 765.7 L536.3 762.9 L536.8 760.5 L537.3 758.5 L537.8 756.8 L538.3 755.6 L538.8 754.8 L539.3 754.4 L539.8 754.5 L540.3 755.0 L540.8 755.8 L541.3 757.0 L541.8 758.4 L542.3 760.1 L542.8 762.1 L543.3 764.3 L543.8 766.8 L544.3 769.4 L544.8 772.2 L545.3 775.1 L545.8 778.2 L546.3 781.4 L546.8 784.6 L547.3 787.9 L547.8 791.2 L548.3 794.6 L548.8 798.0 L549.3 801.3 L549.8 804.6 L550.3 807.8 L550.8 810.9 L551.3 813.9 L551.8 816.7 L552.3 819.4 L552.8 821.9 L553.3 824.2 L553.8 826.3 L554.3 828.1 L554.8 829.7 L555.3 831.0 L555.8 831.9 L556.3 832.5 L556.8 832.8 L557.3 832.7 L557.8 832.2 L558.3 831.3 L558.8 830.0 L559.3 828.4 L559.8 826.6 L560.3 824.4 L560.8 822.0 L561.3 819.3 L561.8 816.4 L562.3 813.3 L562.8 810.0 L563.3 806.5 L563.8 802.9 L564.3 799.2 L564.8 795.4 L565.3 791.5 L565.8 787.6 L566.3 783.6 L566.8 779.7 L567.3 775.7 L567.8 771.8 L568.3 767.9 L568.8 764.1 L569.3 760.4 L569.8 756.8 L570.3 753.3 L570.8 750.0 L571.3 746.9 L571.8 744.0 L572.3 741.3 L572.8 738.9 L573.3 736.7 L573.8 734.9 L574.3 733.3 L574.8 732.0 L575.3 731.1 L575.8 730.6 L576.3 730.5 L576.8 730.7 L577.3 731.0 L577.8 731.6 L578.3 732.4 L578.8 733.3 L579.3 734.4 L579.8 735.6 L580.3 737.0 L580.8 738.5 L581.3 740.0 L581.8 741.7 L582.3 743.4 L582.8 745.2 L583.3 747.0 L583.8 748.9 L584.3 750.7 L584.8 752.6 L585.3 754.4 L585.8 756.2 L586.3 758.0 L586.8 759.7 L587.3 761.3 L587.8 762.8 L588.3 764.3 L588.8 765.6 L589.3 766.8 L589.8 767.8 L590.3 768.7 L590.8 769.3 L591.3 769.8 L591.8 770.1 L592.3 770.2 L592.8 770.0 L593.3 769.4 L593.8 768.5 L594.3 767.3 L594.8 765.9 L595.3 764.2 L595.8 762.3 L596.3 760.2 L596.8 757.9 L597.3 755.5 L597.8 752.9 L598.3 750.2 L598.8 747.4 L599.3 744.5 L599.8 741.6 L600.3 738.6 L600.8 735.6 L601.3 732.6 L601.8 729.7 L602.3 726.8 L602.8 724.0 L603.3 721.3 L603.8 718.6 L604.3 716.2 L604.8 713.8 L605.3 711.7 L605.8 709.7 L606.3 708.0 L606.8 706.5 L607.3 705.3 L607.8 704.4 L608.3 703.7 L608.8 703.4 L609.3 703.5 L609.8 703.8 L610.3 704.4 L610.8 705.3 L611.3 706.4 L611.8 707.8 L612.3 709.3 L612.8 711.1 L613.3 713.0 L613.8 715.1 L614.3 717.3 L614.8 719.7 L615.3 722.1 L615.8 724.6 L616.3 727.2 L616.8 729.8 L617.3 732.5 L617.8 735.1 L618.3 737.8 L618.8 740.4 L619.3 743.0 L619.8 745.5 L620.3 747.9 L620.8 750.2 L621.3 752.4 L621.8 754.5 L622.3 756.4 L622.8 758.1 L623.3 759.6 L623.8 760.9 L624.3 762.0 L624.8 762.8 L625.3 763.4 L625.8 763.7 L626.3 763.6 L626.8 763.3 L627.3 762.6 L627.8 761.7 L628.3 760.5 L628.8 759.0 L629.3 757.3 L629.8 755.4 L630.3 753.4 L630.8 751.1 L631.3 748.7 L631.8 746.2 L632.3 743.5 L632.8 740.8 L633.3 738.0 L633.8 735.1 L634.3 732.2 L634.8 729.3 L635.3 726.4 L635.8 723.5 L636.3 720.6 L636.8 717.8 L637.3 715.1 L637.8 712.5 L638.3 710.0 L638.8 707.6 L639.3 705.4 L639.8 703.4 L640.3 701.5 L640.8 699.9 L641.3 698.5 L641.8 697.3 L642.3 696.4 L642.8 695.8 L643.3 695.5 L643.8 695.5 L644.3 695.8 L644.8 696.3 L645.3 697.0 L645.8 697.8 L646.3 698.9 L646.8 700.1 L647.3 701.5 L647.8 703.0 L648.3 704.6 L648.8 706.4 L649.3 708.2 L649.8 710.1 L650.3 712.1 L650.8 714.2 L651.3 716.3 L651.8 718.4 L652.3 720.5 L652.8 722.6 L653.3 724.7 L653.8 726.7 L654.3 728.8 L654.8 730.7 L655.3 732.6 L655.8 734.4 L656.3 736.1 L656.8 737.7 L657.3 739.2 L657.8 740.5 L658.3 741.6 L658.8 742.6 L659.3 743.4 L659.8 744.0 L660.3 744.4 L660.8 744.6 L661.3 744.5 L661.8 744.1 L662.3 743.3 L662.8 742.3 L663.3 741.0 L663.8 739.4 L664.3 737.7 L664.8 735.8 L665.3 733.6 L665.8 731.4 L666.3 729.0 L666.8 726.6 L667.3 724.1 L667.8 721.5 L668.3 718.9 L668.8 716.4 L669.3 713.8 L669.8 711.3 L670.3 708.9 L670.8 706.6 L671.3 704.4 L671.8 702.4 L672.3 700.5 L672.8 698.8 L673.3 697.4 L673.8 696.2 L674.3 695.3 L674.8 694.6 L675.3 694.3 L675.8 694.4 L676.3 694.7 L676.8 695.3 L677.3 696.1 L677.8 697.2 L678.3 698.6 L678.8 700.1 L679.3 701.9 L679.8 703.8 L680.3 705.9 L680.8 708.1 L681.3 710.5 L681.8 713.1 L682.3 715.7 L682.8 718.4 L683.3 721.2 L683.8 724.1 L684.3 727.0 L684.8 730.0 L685.3 733.0 L685.8 735.9 L686.3 738.9 L686.8 741.8 L687.3 744.8 L687.8 747.6 L688.3 750.4 L688.8 753.1 L689.3 755.7 L689.8 758.1 L690.3 760.5 L690.8 762.7 L691.3 764.7 L691.8 766.6 L692.3 768.2 L692.8 769.7 L693.3 770.9 L693.8 771.9 L694.3 772.7 L694.8 773.2 L695.3 773.4 L695.8 773.3 L696.3 772.8 L696.8 772.0 L697.3 770.9 L697.8 769.6 L698.3 767.9 L698.8 766.0 L699.3 764.0 L699.8 761.7 L700.3 759.3 L700.8 756.7 L701.3 754.0 L701.8 751.2 L702.3 748.4 L702.8 745.5 L703.3 742.6 L703.8 739.6 L704.3 736.8 L704.8 733.9 L705.3 731.2 L705.8 728.5 L706.3 725.9 L706.8 723.5 L707.3 721.3 L707.8 719.3 L708.3 717.4 L708.8 715.8 L709.3 714.5 L709.8 713.5 L710.3 712.8 L710.8 712.4 L711.3 712.3 L711.8 712.6 L712.3 713.0 L712.8 713.8 L713.3 714.7 L713.8 715.9 L714.3 717.2 L714.8 718.7 L715.3 720.4 L715.8 722.3 L716.3 724.3 L716.8 726.4 L717.3 728.6 L717.8 730.9 L718.3 733.3 L718.8 735.7 L719.3 738.2 L719.8 740.8 L720.3 743.4 L720.8 746.0 L721.3 748.6 L721.8 751.1 L722.3 753.7 L722.8 756.2 L723.3 758.6 L723.8 760.9 L724.3 763.2 L724.8 765.4 L725.3 767.5 L725.8 769.4 L726.3 771.2 L726.8 772.8 L727.3 774.2 L727.8 775.5 L728.3 776.6 L728.8 777.4 L729.3 778.1 L729.8 778.5 L730.3 778.6 L730.8 778.4 L731.3 777.9 L731.8 777.0 L732.3 775.7 L732.8 774.2 L733.3 772.5 L733.8 770.5 L734.3 768.2 L734.8 765.8 L735.3 763.3 L735.8 760.6 L736.3 757.7 L736.8 754.8 L737.3 751.9 L737.8 748.9 L738.3 745.8 L738.8 742.8 L739.3 739.9 L739.8 737.0 L740.3 734.2 L740.8 731.5 L741.3 729.0 L741.8 726.6 L742.3 724.4 L742.8 722.5 L743.3 720.7 L743.8 719.3 L744.3 718.1 L744.8 717.3 L745.3 716.8 L745.8 716.7 L746.3 716.9 L746.8 717.3 L747.3 717.9 L747.8 718.7 L748.3 719.7 L748.8 720.9 L749.3 722.2 L749.8 723.7 L750.3 725.3 L750.8 727.0 L751.3 728.9 L751.8 730.8 L752.3 732.8 L752.8 734.8 L753.3 736.9 L753.8 739.0 L754.3 741.1 L754.8 743.2 L755.3 745.3 L755.8 747.4 L756.3 749.4 L756.8 751.4 L757.3 753.3 L757.8 755.1 L758.3 756.8 L758.8 758.4 L759.3 759.8 L759.8 761.2 L760.3 762.3 L760.8 763.3 L761.3 764.0 L761.8 764.6 L762.3 765.0 L762.8 765.1 L763.3 764.9 L763.8 764.4 L764.3 763.5 L764.8 762.3 L765.3 760.9 L765.8 759.1 L766.3 757.1 L766.8 754.9 L767.3 752.5 L767.8 750.0 L768.3 747.3 L768.8 744.4 L769.3 741.4 L769.8 738.4 L770.3 735.3 L770.8 732.1 L771.3 729.0 L771.8 725.8 L772.3 722.7 L772.8 719.6 L773.3 716.6 L773.8 713.6 L774.3 710.8 L774.8 708.2 L775.3 705.7 L775.8 703.4 L776.3 701.2 L776.8 699.4 L777.3 697.7 L777.8 696.4 L778.3 695.3 L778.8 694.6 L779.3 694.2 L779.8 694.1 L780.3 694.4 L780.8 694.8 L781.3 695.6 L781.8 696.5 L782.3 697.7 L782.8 699.0 L783.3 700.5 L783.8 702.2 L784.3 704.0 L784.8 705.9 L785.3 707.9 L785.8 710.1 L786.3 712.3 L786.8 714.6 L787.3 716.9 L787.8 719.3 L788.3 721.7 L788.8 724.1 L789.3 726.4 L789.8 728.8 L790.3 731.1 L790.8 733.3 L791.3 735.5 L791.8 737.6 L792.3 739.6 L792.8 741.4 L793.3 743.2 L793.8 744.7 L794.3 746.1 L794.8 747.4 L795.3 748.4 L795.8 749.2 L796.3 749.8 L796.8 750.1 L797.3 750.2 L797.8 749.9 L798.3 749.3 L798.8 748.4 L799.3 747.2 L799.8 745.6 L800.3 743.8 L800.8 741.8 L801.3 739.6 L801.8 737.1 L802.3 734.5 L802.8 731.7 L803.3 728.8 L803.8 725.8 L804.3 722.7 L804.8 719.5 L805.3 716.3 L805.8 713.0 L806.3 709.8 L806.8 706.5 L807.3 703.4 L807.8 700.2 L808.3 697.2 L808.8 694.3 L809.3 691.5 L809.8 688.8 L810.3 686.3 L810.8 684.0 L811.3 681.9 L811.8 680.1 L812.3 678.5 L812.8 677.2 L813.3 676.2 L813.8 675.6 L814.3 675.2 L814.8 675.2 L815.3 675.5 L815.8 675.9 L816.3 676.6 L816.8 677.4 L817.3 678.3 L817.8 679.5 L818.3 680.7 L818.8 682.1 L819.3 683.6 L819.8 685.1 L820.3 686.8 L820.8 688.5 L821.3 690.3 L821.8 692.1 L822.3 693.9 L822.8 695.8 L823.3 697.6 L823.8 699.4 L824.3 701.2 L824.8 702.9 L825.3 704.6 L825.8 706.2 L826.3 707.7 L826.8 709.2 L827.3 710.5 L827.8 711.6 L828.3 712.7 L828.8 713.5 L829.3 714.2 L829.8 714.8 L830.3 715.1 L830.8 715.2 L831.3 715.0 L831.8 714.5 L832.3 713.7 L832.8 712.5 L833.3 711.1 L833.8 709.4 L834.3 707.5 L834.8 705.4 L835.3 703.0 L835.8 700.5 L836.3 697.8 L836.8 695.0 L837.3 692.0 L837.8 688.9 L838.3 685.8 L838.8 682.5 L839.3 679.3 L839.8 676.0 L840.3 672.7 L840.8 669.4 L841.3 666.1 L841.8 662.9 L842.3 659.8 L842.8 656.7 L843.3 653.8 L843.8 651.0 L844.3 648.3 L844.8 645.8 L845.3 643.5 L845.8 641.4 L846.3 639.5 L846.8 637.9 L847.3 636.5 L847.8 635.4 L848.3 634.7 L848.8 634.2 L849.3 634.1 L849.8 634.2 L850.3 634.5 L850.8 635.0 L851.3 635.7 L851.8 636.4 L852.3 637.3 L852.8 638.4 L853.3 639.5 L853.8 640.7 L854.3 642.0 L854.8 643.3 L855.3 644.7 L855.8 646.2 L856.3 647.7 L856.8 649.2 L857.3 650.6 L857.8 652.1 L858.3 653.6 L858.8 655.0 L859.3 656.4 L859.8 657.7 L860.3 658.9 L860.8 660.0 L861.3 661.1 L861.8 662.0 L862.3 662.8 L862.8 663.5 L863.3 664.0 L863.8 664.3 L864.3 664.5 L864.8 664.4 L865.3 664.1 L865.8 663.5 L866.3 662.5 L866.8 661.4 L867.3 660.0 L867.8 658.3 L868.3 656.5 L868.8 654.5 L869.3 652.3 L869.8 650.0 L870.3 647.5 L870.8 644.9 L871.3 642.2 L871.8 639.5 L872.3 636.7 L872.8 633.8 L873.3 630.9 L873.8 628.0 L874.3 625.2 L874.8 622.3 L875.3 619.5 L875.8 616.8 L876.3 614.2 L876.8 611.6 L877.3 609.2 L877.8 606.9 L878.3 604.8 L878.8 602.8 L879.3 601.1 L879.8 599.5 L880.3 598.2 L880.8 597.2 L881.3 596.3 L881.8 595.8 L882.3 595.6 L882.8 595.6 L883.3 595.8 L883.8 596.2 L884.3 596.6 L884.8 597.2 L885.3 597.9 L885.8 598.7 L886.3 599.6 L886.8 600.6 L887.3 601.7 L887.8 602.8 L888.3 604.0 L888.8 605.3 L889.3 606.6 L889.8 607.9 L890.3 609.3 L890.8 610.6 L891.3 612.0 L891.8 613.5 L892.3 614.9 L892.8 616.2 L893.3 617.6 L893.8 618.9 L894.3 620.2 L894.8 621.5 L895.3 622.7 L895.8 623.8 L896.3 624.9 L896.8 625.9 L897.3 626.8 L897.8 627.6 L898.3 628.3 L898.8 628.9 L899.3 629.3 L899.8 629.7 L900.3 629.9 L900.8 629.9 L901.3 629.6 L901.8 629.0 L902.3 628.1 L902.8 626.8 L903.3 625.3 L903.8 623.6 L904.3 621.6 L904.8 619.5 L905.3 617.2 L905.8 614.8 L906.3 612.3 L906.8 609.8 L907.3 607.2 L907.8 604.7 L908.3 602.2 L908.8 599.7 L909.3 597.3 L909.8 595.1 L910.3 593.0 L910.8 591.1 L911.3 589.4 L911.8 587.9 L912.3 586.7 L912.8 585.8 L913.3 585.3 L913.8 585.1 L914.3 585.3 L914.8 585.7 L915.3 586.5 L915.8 587.5 L916.3 588.7 L916.8 590.2 L917.3 592.0 L917.8 593.9 L918.3 596.0 L918.8 598.2 L919.3 600.6 L919.8 603.2 L920.3 605.8 L920.8 608.6 L921.3 611.4 L921.8 614.3 L922.3 617.2 L922.8 620.1 L923.3 623.1 L923.8 626.0 L924.3 628.9 L924.8 631.8 L925.3 634.6 L925.8 637.3 L926.3 639.9 L926.8 642.5 L927.3 644.8 L927.8 647.1 L928.3 649.1 L928.8 651.0 L929.3 652.7 L929.8 654.1 L930.3 655.3 L930.8 656.3 L931.3 657.0 L931.8 657.4 L932.3 657.5 L932.8 657.3 L933.3 656.9 L933.8 656.2 L934.3 655.4 L934.8 654.3 L935.3 653.0 L935.8 651.6 L936.3 650.0 L936.8 648.3 L937.3 646.5 L937.8 644.5 L938.3 642.5 L938.8 640.4 L939.3 638.2 L939.8 636.0 L940.3 633.8 L940.8 631.6 L941.3 629.3 L941.8 627.1 L942.3 624.9 L942.8 622.7 L943.3 620.7 L943.8 618.7 L944.3 616.8 L944.8 615.0 L945.3 613.3 L945.8 611.8 L946.3 610.4 L946.8 609.3 L947.3 608.3 L947.8 607.5 L948.3 606.9 L948.8 606.6 L949.3 606.5 L949.8 606.7 L950.3 607.2 L950.8 607.9 L951.3 608.8 L951.8 609.9 L952.3 611.3 L952.8 612.8 L953.3 614.5 L953.8 616.4 L954.3 618.4 L954.8 620.6 L955.3 622.8 L955.8 625.2 L956.3 627.6 L956.8 630.1 L957.3 632.7 L957.8 635.3 L958.3 637.9 L958.8 640.5 L959.3 643.1 L959.8 645.7 L960.3 648.3 L960.8 650.8 L961.3 653.3 L961.8 655.6 L962.3 657.9 L962.8 660.1 L963.3 662.1 L963.8 664.0 L964.3 665.7 L964.8 667.3 L965.3 668.7 L965.8 669.9 L966.3 670.9 L966.8 671.6 L967.3 672.1 L967.8 672.4 L968.3 672.3 L968.8 672.0 L969.3 671.4 L969.8 670.5 L970.3 669.3 L970.8 667.9 L971.3 666.3 L971.8 664.6 L972.3 662.7 L972.8 660.6 L973.3 658.4 L973.8 656.1 L974.3 653.8 L974.8 651.4 L975.3 649.0 L975.8 646.5 L976.3 644.1 L976.8 641.8 L977.3 639.4 L977.8 637.2 L978.3 635.1 L978.8 633.1 L979.3 631.2 L979.8 629.5 L980.3 628.0 L980.8 626.7 L981.3 625.7 L981.8 624.9 L982.3 624.3 L982.8 624.1 L983.3 624.2 L983.8 624.5 L984.3 625.0 L984.8 625.7 L985.3 626.6 L985.8 627.7 L986.3 629.0 L986.8 630.4 L987.3 632.0 L987.8 633.7 L988.3 635.5 L988.8 637.4 L989.3 639.4 L989.8 641.5 L990.3 643.7 L990.8 645.9 L991.3 648.2 L991.8 650.5 L992.3 652.9 L992.8 655.2 L993.3 657.6 L993.8 660.0 L994.3 662.3 L994.8 664.6 L995.3 666.8 L995.8 669.0 L996.3 671.1 L996.8 673.1 L997.3 675.0 L997.8 676.8 L998.3 678.5 L998.8 680.1 L999.3 681.5 L999.8 682.8 L1000.3 683.9 L1000.8 684.8 L1001.3 685.5 L1001.8 686.0 L1002.3 686.3 L1002.8 686.4 L1003.3 686.2 L1003.8 685.7 L1004.3 684.9 L1004.8 683.8 L1005.3 682.6 L1005.8 681.1 L1006.3 679.4 L1006.8 677.5 L1007.3 675.5 L1007.8 673.4 L1008.3 671.1 L1008.8 668.7 L1009.3 666.2 L1009.8 663.7 L1010.3 661.2 L1010.8 658.6 L1011.3 656.0 L1011.8 653.4 L1012.3 650.9 L1012.8 648.4 L1013.3 646.0 L1013.8 643.6 L1014.3 641.4 L1014.8 639.3 L1015.3 637.4 L1015.8 635.7 L1016.3 634.1 L1016.8 632.7 L1017.3 631.6 L1017.8 630.7 L1018.3 630.1 L1018.8 629.8 L1019.3 629.7 L1019.8 629.9 L1020.3 630.2 L1020.8 630.7 L1021.3 631.4 L1021.8 632.2 L1022.3 633.1 L1022.8 634.2 L1023.3 635.3 L1023.8 636.6 L1024.3 637.9 L1024.8 639.4 L1025.3 640.9 L1025.8 642.5 L1026.3 644.1 L1026.8 645.7 L1027.3 647.4 L1027.8 649.1 L1028.3 650.8 L1028.8 652.5 L1029.3 654.2 L1029.8 655.8 L1030.3 657.4 L1030.8 659.0 L1031.3 660.5 L1031.8 662.0 L1032.3 663.3 L1032.8 664.6 L1033.3 665.8 L1033.8 666.9 L1034.3 667.8 L1034.8 668.7 L1035.3 669.4 L1035.8 669.9 L1036.3 670.3 L1036.8 670.5 L1037.3 670.5 L1037.8 670.2 L1038.3 669.6 L1038.8 668.8 L1039.3 667.7 L1039.8 666.4 L1040.3 664.9 L1040.8 663.2 L1041.3 661.3 L1041.8 659.3 L1042.3 657.1 L1042.8 654.8 L1043.3 652.4 L1043.8 649.9 L1044.3 647.4 L1044.8 644.8 L1045.3 642.2 L1045.8 639.6 L1046.3 637.0 L1046.8 634.5 L1047.3 632.0 L1047.8 629.6 L1048.3 627.2 L1048.8 625.0 L1049.3 622.9 L1049.8 620.9 L1050.3 619.2 L1050.8 617.6 L1051.3 616.2 L1051.8 615.0 L1052.3 614.1 L1052.8 613.4 L1053.3 613.0 L1053.8 612.9 L1054.3 613.0 L1054.8 613.3 L1055.3 613.7 L1055.8 614.3 L1056.3 615.1 L1056.8 615.9 L1057.3 616.9 L1057.8 617.9 L1058.3 619.1 L1058.8 620.3 L1059.3 621.7 L1059.8 623.1 L1060.3 624.5 L1060.8 626.0 L1061.3 627.6 L1061.8 629.1 L1062.3 630.7 L1062.8 632.3 L1063.3 633.9 L1063.8 635.5 L1064.3 637.0 L1064.8 638.6 L1065.3 640.1 L1065.8 641.5 L1066.3 642.9 L1066.8 644.2 L1067.3 645.4 L1067.8 646.6 L1068.3 647.6 L1068.8 648.6 L1069.3 649.4 L1069.8 650.1 L1070.3 650.7 L1070.8 651.1 L1071.3 651.3 L1071.8 651.4 L1072.3 651.3 L1072.8 650.8 L1073.3 650.1 L1073.8 649.2 L1074.3 648.0 L1074.8 646.6 L1075.3 645.1 L1075.8 643.3 L1076.3 641.4 L1076.8 639.4 L1077.3 637.3 L1077.8 635.0 L1078.3 632.7 L1078.8 630.3 L1079.3 627.9 L1079.8 625.4 L1080.3 623.0 L1080.8 620.5 L1081.3 618.1 L1081.8 615.8 L1082.3 613.5 L1082.8 611.3 L1083.3 609.2 L1083.8 607.2 L1084.3 605.4 L1084.8 603.7 L1085.3 602.2 L1085.8 600.9 L1086.3 599.8 L1086.8 599.0 L1087.3 598.4 L1087.8 598.1 L1088.3 598.0 L1088.8 598.1 L1089.3 598.4 L1089.8 598.8 L1090.3 599.3 L1090.8 600.0 L1091.3 600.7 L1091.8 601.5 L1092.3 602.5 L1092.8 603.5 L1093.3 604.5 L1093.8 605.6 L1094.3 606.8 L1094.8 608.1 L1095.3 609.3 L1095.8 610.6 L1096.3 611.9 L1096.8 613.2 L1097.3 614.5 L1097.8 615.8 L1098.3 617.1 L1098.8 618.4 L1099.3 619.6 L1099.8 620.8 L1100.3 622.0 L1100.8 623.0 L1101.3 624.1 L1101.8 625.0 L1102.3 625.8 L1102.8 626.6 L1103.3 627.2 L1103.8 627.8 L1104.3 628.2 L1104.8 628.5 L1105.3 628.7 L1105.8 628.7 L1106.3 628.4 L1106.8 627.9 L1107.3 627.2 L1107.8 626.2 L1108.3 625.0 L1108.8 623.6 L1109.3 622.0 L1109.8 620.3 L1110.3 618.4 L1110.8 616.3 L1111.3 614.2 L1111.8 611.9 L1112.3 609.6 L1112.8 607.1 L1113.3 604.7 L1113.8 602.1 L1114.3 599.6 L1114.8 597.0 L1115.3 594.5 L1115.8 591.9 L1116.3 589.4 L1116.8 587.0 L1117.3 584.6 L1117.8 582.3 L1118.3 580.1 L1118.8 578.0 L1119.3 576.1 L1119.8 574.3 L1120.3 572.6 L1120.8 571.2 L1121.3 569.9 L1121.8 568.8 L1122.3 568.0 L1122.8 567.3 L1123.3 567.0 L1123.8 566.9 L1124.3 567.0 L1124.8 567.1 L1125.3 567.3 L1125.8 567.6 L1126.3 568.0 L1126.8 568.4 L1127.3 568.9 L1127.8 569.4 L1128.3 570.0 L1128.8 570.7 L1129.3 571.3 L1129.8 572.0 L1130.3 572.8 L1130.8 573.5 L1131.3 574.3 L1131.8 575.1 L1132.3 575.9 L1132.8 576.7 L1133.3 577.5 L1133.8 578.2 L1134.3 579.0 L1134.8 579.8 L1135.3 580.5 L1135.8 581.2 L1136.3 581.9 L1136.8 582.5 L1137.3 583.1 L1137.8 583.7 L1138.3 584.2 L1138.8 584.6 L1139.3 585.0 L1139.8 585.3 L1140.3 585.6 L1140.8 585.7 L1141.3 585.8 L1141.8 585.7 L1142.3 585.4 L1142.8 584.9 L1143.3 584.1 L1143.8 583.0 L1144.3 581.8 L1144.8 580.4 L1145.3 578.8 L1145.8 577.1 L1146.3 575.2 L1146.8 573.3 L1147.3 571.2 L1147.8 569.1 L1148.3 567.0 L1148.8 564.8 L1149.3 562.7 L1149.8 560.5 L1150.3 558.4 L1150.8 556.3 L1151.3 554.4 L1151.8 552.5 L1152.3 550.7 L1152.8 549.0 L1153.3 547.6 L1153.8 546.3 L1154.3 545.1 L1154.8 544.2 L1155.3 543.6 L1155.8 543.1 L1156.3 543.0 L1156.8 543.1 L1157.3 543.3 L1157.8 543.7 L1158.3 544.2 L1158.8 544.8 L1159.3 545.6 L1159.8 546.4 L1160.3 547.4 L1160.8 548.4 L1161.3 549.5 L1161.8 550.6 L1162.3 551.8 L1162.8 553.1 L1163.3 554.3 L1163.8 555.6 L1164.3 556.9 L1164.8 558.2 L1165.3 559.4 L1165.8 560.7 L1166.3 561.9 L1166.8 563.1 L1167.3 564.2 L1167.8 565.2 L1168.3 566.2 L1168.8 567.1 L1169.3 567.9 L1169.8 568.6 L1170.3 569.1 L1170.8 569.6 L1171.3 569.8 L1171.8 570.0 L1172.3 570.0 L1172.8 569.7 L1173.3 569.2 L1173.8 568.5 L1174.3 567.5 L1174.8 566.4 L1175.3 565.1 L1175.8 563.7 L1176.3 562.1 L1176.8 560.3 L1177.3 558.5 L1177.8 556.5 L1178.3 554.4 L1178.8 552.3 L1179.3 550.0 L1179.8 547.8 L1180.3 545.4 L1180.8 543.1 L1181.3 540.7 L1181.8 538.4 L1182.3 536.0 L1182.8 533.7 L1183.3 531.4 L1183.8 529.2 L1184.3 527.0 L1184.8 524.9 L1185.3 522.9 L1185.8 521.0 L1186.3 519.3 L1186.8 517.6 L1187.3 516.1 L1187.8 514.8 L1188.3 513.7 L1188.8 512.7 L1189.3 511.9 L1189.8 511.4 L1190.3 511.1 L1190.8 511.0 L1191.3 511.1 L1191.8 511.3 L1192.3 511.5 L1192.8 511.9 L1193.3 512.3 L1193.8 512.8 L1194.3 513.4 L1194.8 514.0 L1195.3 514.7 L1195.8 515.4 L1196.3 516.1 L1196.8 516.9 L1197.3 517.6 L1197.8 518.4 L1198.3 519.2 L1198.8 519.9 L1199.3 520.6 L1199.8 521.3 L1200.3 522.0 L1200.8 522.6 L1201.3 523.2 L1201.8 523.7 L1202.3 524.1 L1202.8 524.4 L1203.3 524.7 L1203.8 524.8 L1204.3 524.9 L1204.8 524.8 L1205.3 524.5 L1205.8 524.1 L1206.3 523.5 L1206.8 522.8 L1207.3 521.9 L1207.8 520.9 L1208.3 519.7 L1208.8 518.5 L1209.3 517.2 L1209.8 515.7 L1210.3 514.2 L1210.8 512.6 L1211.3 511.0 L1211.8 509.3 L1212.3 507.6 L1212.8 505.9 L1213.3 504.1 L1213.8 502.3 L1214.3 500.5 L1214.8 498.8 L1215.3 497.0 L1215.8 495.3 L1216.3 493.7 L1216.8 492.0 L1217.3 490.5 L1217.8 489.0 L1218.3 487.6 L1218.8 486.3 L1219.3 485.0 L1219.8 483.9 L1220.3 482.9 L1220.8 482.1 L1221.3 481.4 L1221.8 480.8 L1222.3 480.4 L1222.8 480.2 L1223.3 480.1 L1223.8 480.2 L1224.3 480.5 L1224.8 481.0 L1225.3 481.6 L1225.8 482.3 L1226.3 483.2 L1226.8 484.2 L1227.3 485.3 L1227.8 486.5 L1228.3 487.7 L1228.8 489.1 L1229.3 490.6 L1229.8 492.1 L1230.3 493.7 L1230.8 495.3 L1231.3 496.9 L1231.8 498.6 L1232.3 500.3 L1232.8 502.0 L1233.3 503.8 L1233.8 505.5 L1234.3 507.2 L1234.8 508.8 L1235.3 510.4 L1235.8 512.0 L1236.3 513.5 L1236.8 515.0 L1237.3 516.4 L1237.8 517.6 L1238.3 518.8 L1238.8 519.9 L1239.3 520.9 L1239.8 521.8 L1240.3 522.5 L1240.8 523.1 L1241.3 523.6 L1241.8 523.9 L1242.3 524.0 L1242.8 523.9 L1243.3 523.6 L1243.8 523.0 L1244.3 522.2 L1244.8 521.2 L1245.3 520.0 L1245.8 518.6 L1246.3 517.1 L1246.8 515.5 L1247.3 513.7 L1247.8 511.9 L1248.3 510.1 L1248.8 508.1 L1249.3 506.2 L1249.8 504.2 L1250.3 502.3 L1250.8 500.4 L1251.3 498.6 L1251.8 496.8 L1252.3 495.1 L1252.8 493.6 L1253.3 492.2 L1253.8 490.9 L1254.3 489.8 L1254.8 488.9 L1255.3 488.2 L1255.8 487.8 L1256.3 487.6 L1256.8 487.7 L1257.3 488.0 L1257.8 488.5 L1258.3 489.2 L1258.8 490.0 L1259.3 491.1 L1259.8 492.3 L1260.3 493.7 L1260.8 495.2 L1261.3 496.9 L1261.8 498.7 L1262.3 500.5 L1262.8 502.5 L1263.3 504.6 L1263.8 506.7 L1264.3 508.9 L1264.8 511.2 L1265.3 513.5 L1265.8 515.8 L1266.3 518.2 L1266.8 520.5 L1267.3 522.9 L1267.8 525.2 L1268.3 527.5 L1268.8 529.8 L1269.3 532.0 L1269.8 534.2 L1270.3 536.3 L1270.8 538.3 L1271.3 540.2 L1271.8 542.0 L1272.3 543.7 L1272.8 545.3 L1273.3 546.7 L1273.8 548.0 L1274.3 549.2 L1274.8 550.1 L1275.3 550.9 L1275.8 551.5 L1276.3 551.8 L1276.8 552.0 L1277.3 551.9 L1277.8 551.5 L1278.3 550.9 L1278.8 550.0 L1279.3 548.9 L1279.8 547.6 L1280.3 546.1 L1280.8 544.5 L1281.3 542.8 L1281.8 540.9 L1282.3 539.0 L1282.8 537.1 L1283.3 535.1 L1283.8 533.1 L1284.3 531.2 L1284.8 529.3 L1285.3 527.4 L1285.8 525.7 L1286.3 524.1 L1286.8 522.6 L1287.3 521.3 L1287.8 520.2 L1288.3 519.3 L1288.8 518.7 L1289.3 518.3 L1289.8 518.2 L1290.3 518.3 L1290.8 518.6 L1291.3 519.1 L1291.8 519.8 L1292.3 520.6 L1292.8 521.5 L1293.3 522.6 L1293.8 523.8 L1294.3 525.1 L1294.8 526.5 L1295.3 528.1 L1295.8 529.7 L1296.3 531.4 L1296.8 533.1 L1297.3 535.0 L1297.8 536.8 L1298.3 538.8 L1298.8 540.7 L1299.3 542.7 L1299.8 544.7 L1300.3 546.7 L1300.8 548.7 L1301.3 550.7 L1301.8 552.7 L1302.3 554.6 L1302.8 556.5 L1303.3 558.3 L1303.8 560.1 L1304.3 561.8 L1304.8 563.5 L1305.3 565.1 L1305.8 566.5 L1306.3 567.9 L1306.8 569.1 L1307.3 570.3 L1307.8 571.3 L1308.3 572.1 L1308.8 572.8 L1309.3 573.4 L1309.8 573.8 L1310.3 574.0 L1310.8 574.0 L1311.3 573.7 L1311.8 573.2 L1312.3 572.5 L1312.8 571.5 L1313.3 570.3 L1313.8 568.9 L1314.3 567.4 L1314.8 565.7 L1315.3 563.9 L1315.8 562.0 L1316.3 560.1 L1316.8 558.0 L1317.3 555.9 L1317.8 553.8 L1318.3 551.7 L1318.8 549.5 L1319.3 547.5 L1319.8 545.4 L1320.3 543.5 L1320.8 541.6 L1321.3 539.9 L1321.8 538.3 L1322.3 536.8 L1322.8 535.5 L1323.3 534.4 L1323.8 533.5 L1324.3 532.9 L1324.8 532.4 L1325.3 532.3 L1325.8 532.4 L1326.3 532.6 L1326.8 533.0 L1327.3 533.5 L1327.8 534.2 L1328.3 535.0 L1328.8 535.9 L1329.3 536.9 L1329.8 538.0 L1330.3 539.2 L1330.8 540.5 L1331.3 541.9 L1331.8 543.3 L1332.3 544.8 L1332.8 546.4 L1333.3 548.0 L1333.8 549.7 L1334.3 551.3 L1334.8 553.1 L1335.3 554.8 L1335.8 556.5 L1336.3 558.2 L1336.8 559.9 L1337.3 561.7 L1337.8 563.3 L1338.3 565.0 L1338.8 566.6 L1339.3 568.2 L1339.8 569.7 L1340.3 571.1 L1340.8 572.5 L1341.3 573.8 L1341.8 575.0 L1342.3 576.1 L1342.8 577.1 L1343.3 578.0 L1343.8 578.8 L1344.3 579.5 L1344.8 580.0 L1345.3 580.4 L1345.8 580.6 L1346.3 580.7 L1346.8 580.6 L1347.3 580.2 L1347.8 579.5 L1348.3 578.7 L1348.8 577.6 L1349.3 576.4 L1349.8 575.0 L1350.3 573.5 L1350.8 571.8 L1351.3 570.1 L1351.8 568.3 L1352.3 566.5 L1352.8 564.6 L1353.3 562.8 L1353.8 560.9 L1354.3 559.1 L1354.8 557.4 L1355.3 555.8 L1355.8 554.2 L1356.3 552.8 L1356.8 551.5 L1357.3 550.4 L1357.8 549.5 L1358.3 548.8 L1358.8 548.4 L1359.3 548.2 L1359.8 548.3 L1360.3 548.5 L1360.8 548.9 L1361.3 549.5 L1361.8 550.2 L1362.3 551.1 L1362.8 552.1 L1363.3 553.2 L1363.8 554.5 L1364.3 555.8 L1364.8 557.2 L1365.3 558.7 L1365.8 560.3 L1366.3 561.9 L1366.8 563.6 L1367.3 565.3 L1367.8 567.1 L1368.3 568.8 L1368.8 570.6 L1369.3 572.4 L1369.8 574.1 L1370.3 575.8 L1370.8 577.5 L1371.3 579.2 L1371.8 580.8 L1372.3 582.3 L1372.8 583.7 L1373.3 585.1 L1373.8 586.3 L1374.3 587.5 L1374.8 588.5 L1375.3 589.4 L1375.8 590.2 L1376.3 590.8 L1376.8 591.2 L1377.3 591.5 L1377.8 591.6 L1378.3 591.4 L1378.8 591.0 L1379.3 590.3 L1379.8 589.3 L1380.3 588.1 L1380.8 586.7 L1381.3 585.1 L1381.8 583.3 L1382.3 581.3 L1382.8 579.2 L1383.3 576.9 L1383.8 574.6 L1384.3 572.1 L1384.8 569.6 L1385.3 567.0 L1385.8 564.3 L1386.3 561.6 L1386.8 559.0 L1387.3 556.3 L1387.8 553.6 L1388.3 551.0 L1388.8 548.5 L1389.3 546.0 L1389.8 543.7 L1390.3 541.4 L1390.8 539.3 L1391.3 537.3 L1391.8 535.5 L1392.3 533.9 L1392.8 532.5 L1393.3 531.3 L1393.8 530.3 L1394.3 529.6 L1394.8 529.2 L1395.3 529.0 L1395.8 529.1 L1396.3 529.2 L1396.8 529.5 L1397.3 530.0 L1397.8 530.5 L1398.3 531.1 L1398.8 531.7 L1399.3 532.5 L1399.8 533.3 L1400.3 534.2 L1400.8 535.2 L1401.3 536.2 L1401.8 537.2 L1402.3 538.3 L1402.8 539.4 L1403.3 540.5 L1403.8 541.6 L1404.3 542.8 L1404.8 543.9 L1405.3 545.0 L1405.8 546.1 L1406.3 547.2 L1406.8 548.2 L1407.3 549.2 L1407.8 550.2 L1408.3 551.1 L1408.8 551.9 L1409.3 552.7 L1409.8 553.3 L1410.3 553.9 L1410.8 554.4 L1411.3 554.9 L1411.8 555.2 L1412.3 555.3 L1412.8 555.4 L1413.3 555.2 L1413.8 554.7 L1414.3 553.9 L1414.8 552.7 L1415.3 551.3 L1415.8 549.6 L1416.3 547.7 L1416.8 545.6 L1417.3 543.3 L1417.8 540.8 L1418.3 538.2 L1418.8 535.4 L1419.3 532.6 L1419.8 529.7 L1420.3 526.7 L1420.8 523.7 L1421.3 520.6 L1421.8 517.6 L1422.3 514.6 L1422.8 511.7 L1423.3 508.8 L1423.8 506.1 L1424.3 503.4 L1424.8 500.9 L1425.3 498.6 L1425.8 496.4 L1426.3 494.4 L1426.8 492.7 L1427.3 491.2 L1427.8 490.0 L1428.3 489.1 L1428.8 488.6 L1429.3 488.3 L1429.8 488.3 L1430.3 488.5 L1430.8 488.8 L1431.3 489.3 L1431.8 489.8 L1432.3 490.4 L1432.8 491.2 L1433.3 492.0 L1433.8 492.9 L1434.3 493.8 L1434.8 494.9 L1435.3 495.9 L1435.8 497.0 L1436.3 498.2 L1436.8 499.4 L1437.3 500.5 L1437.8 501.7 L1438.3 502.9 L1438.8 504.1 L1439.3 505.3 L1439.8 506.4 L1440.3 507.5 L1440.8 508.6 L1441.3 509.5 L1441.8 510.5 L1442.3 511.3 L1442.8 512.1 L1443.3 512.8 L1443.8 513.4 L1444.3 513.9 L1444.8 514.3 L1445.3 514.6 L1445.8 514.7 L1446.3 514.6 L1446.8 514.3 L1447.3 513.8 L1447.8 513.0 L1448.3 511.9 L1448.8 510.6 L1449.3 509.2 L1449.8 507.5 L1450.3 505.7 L1450.8 503.8 L1451.3 501.7 L1451.8 499.5 L1452.3 497.1 L1452.8 494.7 L1453.3 492.3 L1453.8 489.7 L1454.3 487.2 L1454.8 484.6 L1455.3 482.0 L1455.8 479.4 L1456.3 476.8 L1456.8 474.3 L1457.3 471.9 L1457.8 469.5 L1458.3 467.2 L1458.8 465.0 L1459.3 462.9 L1459.8 461.0 L1460.3 459.2 L1460.8 457.6 L1461.3 456.2 L1461.8 455.0 L1462.3 454.0 L1462.8 453.2 L1463.3 452.7 L1463.8 452.4 L1464.3 452.4 L1464.8 452.6 L1465.3 452.8 L1465.8 453.2 L1466.3 453.7 L1466.8 454.3 L1467.3 455.0 L1467.8 455.8 L1468.3 456.6 L1468.8 457.5 L1469.3 458.5 L1469.8 459.5 L1470.3 460.6 L1470.8 461.7 L1471.3 462.8 L1471.8 463.9 L1472.3 465.0 L1472.8 466.1 L1473.3 467.2 L1473.8 468.3 L1474.3 469.4 L1474.8 470.4 L1475.3 471.4 L1475.8 472.3 L1476.3 473.1 L1476.8 473.9 L1477.3 474.6 L1477.8 475.2 L1478.3 475.7 L1478.8 476.1 L1479.3 476.3 L1479.8 476.5 L1480.3 476.5 L1480.8 476.3 L1481.3 475.9 L1481.8 475.3 L1482.3 474.5 L1482.8 473.5 L1483.3 472.4 L1483.8 471.2 L1484.3 469.8 L1484.8 468.3 L1485.3 466.7 L1485.8 465.0 L1486.3 463.3 L1486.8 461.5 L1487.3 459.6 L1487.8 457.7 L1488.3 455.8 L1488.8 453.8 L1489.3 451.9 L1489.8 450.0 L1490.3 448.1 L1490.8 446.2 L1491.3 444.5 L1491.8 442.7 L1492.3 441.1 L1492.8 439.6 L1493.3 438.1 L1493.8 436.8 L1494.3 435.7 L1494.8 434.7 L1495.3 433.8 L1495.8 433.1 L1496.3 432.7 L1496.8 432.4 L1497.3 432.3 L1497.8 432.4 L1498.3 432.7 L1498.8 433.1 L1499.3 433.7 L1499.8 434.4 L1500.3 435.2 L1500.8 436.1 L1501.3 437.2 L1501.8 438.3 L1502.3 439.5 L1502.8 440.7 L1503.3 442.1 L1503.8 443.5 L1504.3 444.9 L1504.8 446.4 L1505.3 447.8 L1505.8 449.3 L1506.3 450.9 L1506.8 452.4 L1507.3 453.8 L1507.8 455.3 L1508.3 456.7 L1508.8 458.1 L1509.3 459.4 L1509.8 460.7 L1510.3 461.9 L1510.8 463.0 L1511.3 464.0 L1511.8 464.9 L1512.3 465.7 L1512.8 466.3 L1513.3 466.9 L1513.8 467.3 L1514.3 467.5 L1514.8 467.6 L1515.3 467.5 L1515.8 467.0 L1516.3 466.3 L1516.8 465.4 L1517.3 464.2 L1517.8 462.9 L1518.3 461.3 L1518.8 459.6 L1519.3 457.7 L1519.8 455.7 L1520.3 453.6 L1520.8 451.5 L1521.3 449.2 L1521.8 446.9 L1522.3 444.6 L1522.8 442.2 L1523.3 439.9 L1523.8 437.6 L1524.3 435.3 L1524.8 433.2 L1525.3 431.1 L1525.8 429.1 L1526.3 427.2 L1526.8 425.5 L1527.3 423.9 L1527.8 422.6 L1528.3 421.4 L1528.8 420.5 L1529.3 419.8 L1529.8 419.3 L1530.3 419.2 L1530.8 419.3 L1531.3 419.6 L1531.8 420.0 L1532.3 420.6 L1532.8 421.4 L1533.3 422.3 L1533.8 423.3 L1534.3 424.5 L1534.8 425.8 L1535.3 427.1 L1535.8 428.6 L1536.3 430.1 L1536.8 431.7 L1537.3 433.3 L1537.8 435.0 L1538.3 436.7 L1538.8 438.5 L1539.3 440.2 L1539.8 442.0 L1540.3 443.8 L1540.8 445.5 L1541.3 447.2 L1541.8 448.9 L1542.3 450.5 L1542.8 452.0 L1543.3 453.5 L1543.8 454.9 L1544.3 456.2 L1544.8 457.4 L1545.3 458.5 L1545.8 459.5 L1546.3 460.3 L1546.8 460.9 L1547.3 461.5 L1547.8 461.8 L1548.3 462.0 L1548.8 462.0 L1549.3 461.7 L1549.8 461.1 L1550.3 460.3 L1550.8 459.3 L1551.3 458.1 L1551.8 456.7 L1552.3 455.2 L1552.8 453.5 L1553.3 451.7 L1553.8 449.7 L1554.3 447.6 L1554.8 445.5 L1555.3 443.3 L1555.8 441.0 L1556.3 438.7 L1556.8 436.4 L1557.3 434.0 L1557.8 431.7 L1558.3 429.4 L1558.8 427.2 L1559.3 425.0 L1559.8 422.9 L1560.3 420.9 L1560.8 419.0 L1561.3 417.3 L1561.8 415.7 L1562.3 414.2 L1562.8 412.9 L1563.3 411.8 L1563.8 411.0 L1564.3 410.3 L1564.8 409.9 L1565.3 409.8 L1565.8 409.9 L1566.3 410.2 L1566.8 410.7 L1567.3 411.4 L1567.8 412.3 L1568.3 413.3 L1568.8 414.5 L1569.3 415.8 L1569.8 417.2 L1570.3 418.7 L1570.8 420.4 L1571.3 422.1 L1571.8 423.9 L1572.3 425.8 L1572.8 427.8 L1573.3 429.8 L1573.8 431.8 L1574.3 433.8 L1574.8 435.9 L1575.3 438.0 L1575.8 440.0 L1576.3 442.0 L1576.8 444.0 L1577.3 446.0 L1577.8 447.9 L1578.3 449.7 L1578.8 451.4 L1579.3 453.1 L1579.8 454.6 L1580.3 456.0 L1580.8 457.3 L1581.3 458.5 L1581.8 459.5 L1582.3 460.4 L1582.8 461.1 L1583.3 461.6 L1583.8 461.9 L1584.3 462.0 L1584.8 461.8 L1585.3 461.3 L1585.8 460.5 L1586.3 459.5 L1586.8 458.2 L1587.3 456.6 L1587.8 454.9 L1588.3 453.0 L1588.8 451.0 L1589.3 448.9 L1589.8 446.7 L1590.3 444.4 L1590.8 442.1 L1591.3 439.8 L1591.8 437.5 L1592.3 435.3 L1592.8 433.2 L1593.3 431.2 L1593.8 429.3 L1594.3 427.6 L1594.8 426.0 L1595.3 424.7 L1595.8 423.7 L1596.3 422.9 L1596.8 422.4 L1597.3 422.2 L1597.8 422.3 L1598.3 422.6 L1598.8 423.1 L1599.3 423.7 L1599.8 424.5 L1600.3 425.5 L1600.8 426.6 L1601.3 427.9 L1601.8 429.2 L1602.3 430.7 L1602.8 432.3 L1603.3 434.0 L1603.8 435.8 L1604.3 437.7 L1604.8 439.7 L1605.3 441.7 L1605.8 443.7 L1606.3 445.8 L1606.8 448.0 L1607.3 450.1 L1607.8 452.3 L1608.3 454.5 L1608.8 456.6 L1609.3 458.8 L1609.8 461.0 L1610.3 463.1 L1610.8 465.1 L1611.3 467.1 L1611.8 469.1 L1612.3 471.0 L1612.8 472.8 L1613.3 474.5 L1613.8 476.2 L1614.3 477.7 L1614.8 479.1 L1615.3 480.3 L1615.8 481.5 L1616.3 482.5 L1616.8 483.3 L1617.3 484.0 L1617.8 484.5 L1618.3 484.9 L1618.8 485.0 L1619.3 484.9 L1619.8 484.5 L1620.3 483.8 L1620.8 482.8 L1621.3 481.6 L1621.8 480.2 L1622.3 478.5 L1622.8 476.7 L1623.3 474.7 L1623.8 472.6 L1624.3 470.3 L1624.8 468.0 L1625.3 465.6 L1625.8 463.1 L1626.3 460.6 L1626.8 458.0 L1627.3 455.5 L1627.8 453.0 L1628.3 450.6 L1628.8 448.2 L1629.3 446.0 L1629.8 443.8 L1630.3 441.8 L1630.8 439.9 L1631.3 438.2 L1631.8 436.8 L1632.3 435.5 L1632.8 434.5 L1633.3 433.7 L1633.8 433.3 L1634.3 433.1 L1634.8 433.1 L1635.3 433.3 L1635.8 433.5 L1636.3 433.8 L1636.8 434.2 L1637.3 434.6 L1637.8 435.2 L1638.3 435.7 L1638.8 436.3 L1639.3 437.0 L1639.8 437.7 L1640.3 438.4 L1640.8 439.1 L1641.3 439.9 L1641.8 440.7 L1642.3 441.5 L1642.8 442.5 L1643.3 443.7 L1643.8 445.0 L1644.3 446.5 L1644.8 448.1 L1645.3 449.7 L1645.8 451.3" stroke="#0068E0"/>
<path d="M218.8 214.0 L219.3 234.0 L219.8 254.0 L220.3 274.0 L220.8 294.0 L221.3 314.0 L221.8 334.0 L222.3 354.0 L222.8 374.4 L223.3 395.2 L223.8 416.0 L224.3 436.6 L224.8 456.6 L225.3 475.6 L225.8 493.5 L226.3 510.3 L226.8 526.5 L227.3 542.0 L227.8 557.1 L228.3 571.9 L228.8 586.6 L229.3 601.2 L229.8 615.9 L230.3 630.4 L230.8 644.8 L231.3 658.9 L231.8 673.0 L232.3 687.0 L232.8 700.9 L233.3 714.8 L233.8 728.8 L234.3 742.8 L234.8 756.9 L235.3 771.0 L235.8 785.2 L236.3 799.3 L236.8 813.4 L237.3 827.4 L237.8 841.4 L238.3 855.3 L238.8 869.1 L239.3 882.7 L239.8 896.3 L240.3 909.7 L240.8 923.0 L241.3 936.3 L241.8 949.4 L242.3 962.4 L242.8 975.7 L243.3 989.5 L243.8 1003.4 L244.3 1016.5 L244.8 1028.3 L245.3 1038.0 L245.8 1046.2 L246.3 1053.7 L246.8 1060.2 L247.3 1065.5 L247.8 1069.5 L248.3 1073.1 L248.8 1076.1 L249.3 1077.8 L249.8 1077.8 L250.3 1076.9 L250.8 1075.1 L251.3 1072.5 L251.8 1069.2 L252.3 1065.2 L252.8 1060.7 L253.3 1055.6 L253.8 1050.0 L254.3 1044.0 L254.8 1037.6 L255.3 1030.9 L255.8 1023.9 L256.3 1016.7 L256.8 1009.3 L257.3 1001.9 L257.8 994.4 L258.3 986.9 L258.8 979.5 L259.3 972.3 L259.8 965.2 L260.3 958.4 L260.8 951.8 L261.3 945.7 L261.8 939.9 L262.3 934.6 L262.8 929.8 L263.3 925.6 L263.8 922.0 L264.3 919.2 L264.8 917.1 L265.3 915.7 L265.8 915.3 L266.3 915.5 L266.8 916.1 L267.3 917.0 L267.8 918.3 L268.3 919.9 L268.8 921.7 L269.3 923.9 L269.8 926.3 L270.3 929.0 L270.8 931.8 L271.3 934.9 L271.8 938.1 L272.3 941.4 L272.8 944.9 L273.3 948.5 L273.8 952.2 L274.3 956.0 L274.8 959.8 L275.3 963.6 L275.8 967.5 L276.3 971.3 L276.8 975.1 L277.3 978.8 L277.8 982.4 L278.3 986.0 L278.8 989.4 L279.3 992.7 L279.8 995.8 L280.3 998.7 L280.8 1001.5 L281.3 1004.0 L281.8 1006.2 L282.3 1008.2 L282.8 1009.9 L283.3 1011.3 L283.8 1012.4 L284.3 1013.1 L284.8 1013.5 L285.3 1013.3 L285.8 1012.3 L286.3 1010.3 L286.8 1007.6 L287.3 1004.2 L287.8 1000.1 L288.3 995.6 L288.8 990.6 L289.3 985.2 L289.8 979.6 L290.3 973.9 L290.8 968.0 L291.3 962.0 L291.8 954.0 L292.3 944.6 L292.8 934.7 L293.3 925.2 L293.8 916.7 L294.3 908.6 L294.8 900.6 L295.3 893.0 L295.8 886.0 L296.3 880.0 L296.8 874.5 L297.3 869.2 L297.8 864.4 L298.3 860.6 L298.8 858.0 L299.3 856.2 L299.8 854.6 L300.3 853.0 L300.8 851.5 L301.3 850.2 L301.8 848.9 L302.3 847.8 L302.8 846.9 L303.3 846.0 L303.8 845.3 L304.3 844.7 L304.8 844.3 L305.3 844.1 L305.8 844.0 L306.3 844.0 L306.8 844.1 L307.3 844.1 L307.8 844.2 L308.3 844.4 L308.8 844.5 L309.3 844.7 L309.8 844.8 L310.3 845.0 L310.8 845.2 L311.3 845.5 L311.8 845.7 L312.3 845.9 L312.8 846.1 L313.3 846.4 L313.8 846.6 L314.3 846.8 L314.8 847.0 L315.3 847.3 L315.8 847.5 L316.3 847.7 L316.8 847.8 L317.3 848.0 L317.8 848.1 L318.3 848.3 L318.8 848.4 L319.3 848.4 L319.8 848.5 L320.3 848.5 L320.8 848.3 L321.3 847.5 L321.8 846.3 L322.3 844.8 L322.8 842.8 L323.3 840.4 L323.8 837.8 L324.3 834.8 L324.8 831.6 L325.3 828.2 L325.8 824.5 L326.3 820.7 L326.8 816.7 L327.3 812.7 L327.8 808.5 L328.3 804.4 L328.8 800.1 L329.3 796.0 L329.8 791.8 L330.3 787.8 L330.8 783.8 L331.3 780.0 L331.8 776.3 L332.3 772.9 L332.8 769.7 L333.3 766.7 L333.8 764.1 L334.3 761.7 L334.8 759.7 L335.3 758.2 L335.8 757.0 L336.3 756.2 L336.8 756.0 L337.3 756.1 L337.8 756.5 L338.3 757.0 L338.8 757.8 L339.3 758.8 L339.8 759.9 L340.3 761.2 L340.8 762.6 L341.3 764.2 L341.8 765.9 L342.3 767.7 L342.8 769.6 L343.3 771.6 L343.8 773.6 L344.3 775.7 L344.8 777.8 L345.3 779.9 L345.8 782.0 L346.3 784.2 L346.8 786.3 L347.3 788.3 L347.8 790.3 L348.3 792.3 L348.8 794.2 L349.3 795.9 L349.8 797.6 L350.3 799.2 L350.8 800.6 L351.3 801.8 L351.8 802.9 L352.3 803.9 L352.8 804.6 L353.3 805.1 L353.8 805.4 L354.3 805.5 L354.8 805.1 L355.3 804.3 L355.8 803.0 L356.3 801.2 L356.8 799.1 L357.3 796.6 L357.8 793.8 L358.3 790.6 L358.8 787.3 L359.3 783.6 L359.8 779.8 L360.3 775.8 L360.8 771.7 L361.3 767.5 L361.8 763.2 L362.3 758.8 L362.8 754.5 L363.3 750.2 L363.8 745.9 L364.3 741.7 L364.8 737.7 L365.3 733.8 L365.8 730.1 L366.3 726.6 L366.8 723.4 L367.3 720.4 L367.8 717.8 L368.3 715.5 L368.8 713.6 L369.3 712.1 L369.8 711.1 L370.3 710.5 L370.8 710.4 L371.3 710.5 L371.8 710.8 L372.3 711.2 L372.8 711.7 L373.3 712.3 L373.8 713.0 L374.3 713.9 L374.8 714.8 L375.3 715.8 L375.8 716.8 L376.3 717.9 L376.8 719.1 L377.3 720.3 L377.8 721.6 L378.3 722.9 L378.8 724.2 L379.3 725.6 L379.8 726.9 L380.3 728.3 L380.8 729.6 L381.3 730.9 L381.8 732.2 L382.3 733.5 L382.8 734.7 L383.3 735.9 L383.8 737.1 L384.3 738.1 L384.8 739.1 L385.3 740.1 L385.8 740.9 L386.3 741.6 L386.8 742.3 L387.3 742.8 L387.8 743.2 L388.3 743.5 L388.8 743.7 L389.3 743.7 L389.8 743.2 L390.3 742.3 L390.8 741.0 L391.3 739.3 L391.8 737.2 L392.3 734.8 L392.8 732.0 L393.3 729.0 L393.8 725.8 L394.3 722.4 L394.8 718.7 L395.3 715.0 L395.8 711.1 L396.3 707.1 L396.8 703.1 L397.3 699.0 L397.8 695.0 L398.3 691.0 L398.8 687.1 L399.3 683.3 L399.8 679.6 L400.3 676.0 L400.8 672.7 L401.3 669.6 L401.8 666.8 L402.3 664.2 L402.8 662.0 L403.3 660.1 L403.8 658.7 L404.3 657.6 L404.8 657.0 L405.3 656.8 L405.8 656.9 L406.3 657.2 L406.8 657.6 L407.3 658.2 L407.8 658.9 L408.3 659.7 L408.8 660.7 L409.3 661.7 L409.8 662.9 L410.3 664.1 L410.8 665.4 L411.3 666.8 L411.8 668.2 L412.3 669.7 L412.8 671.2 L413.3 672.7 L413.8 674.3 L414.3 675.9 L414.8 677.4 L415.3 679.0 L415.8 680.5 L416.3 682.0 L416.8 683.5 L417.3 684.9 L417.8 686.3 L418.3 687.5 L418.8 688.8 L419.3 689.9 L419.8 690.9 L420.3 691.8 L420.8 692.6 L421.3 693.3 L421.8 693.9 L422.3 694.3 L422.8 694.5 L423.3 694.6 L423.8 694.4 L424.3 693.8 L424.8 692.8 L425.3 691.5 L425.8 689.9 L426.3 688.0 L426.8 685.9 L427.3 683.5 L427.8 680.9 L428.3 678.2 L428.8 675.3 L429.3 672.4 L429.8 669.3 L430.3 666.2 L430.8 663.0 L431.3 659.9 L431.8 656.8 L432.3 653.7 L432.8 650.8 L433.3 647.9 L433.8 645.2 L434.3 642.7 L434.8 640.4 L435.3 638.3 L435.8 636.4 L436.3 634.9 L436.8 633.7 L437.3 632.8 L437.8 632.2 L438.3 632.1 L438.8 632.3 L439.3 632.7 L439.8 633.4 L440.3 634.3 L440.8 635.4 L441.3 636.7 L441.8 638.2 L442.3 639.8 L442.8 641.6 L443.3 643.5 L443.8 645.5 L444.3 647.7 L444.8 649.9 L445.3 652.2 L445.8 654.6 L446.3 657.0 L446.8 659.5 L447.3 662.0 L447.8 664.4 L448.3 666.9 L448.8 669.4 L449.3 671.8 L449.8 674.1 L450.3 676.4 L450.8 678.6 L451.3 680.7 L451.8 682.7 L452.3 684.6 L452.8 686.3 L453.3 687.9 L453.8 689.3 L454.3 690.5 L454.8 691.5 L455.3 692.3 L455.8 692.9 L456.3 693.2 L456.8 693.3 L457.3 693.0 L457.8 692.4 L458.3 691.4 L458.8 690.1 L459.3 688.5 L459.8 686.7 L460.3 684.6 L460.8 682.3 L461.3 679.8 L461.8 677.1 L462.3 674.3 L462.8 671.5 L463.3 668.5 L463.8 665.5 L464.3 662.4 L464.8 659.4 L465.3 656.3 L465.8 653.3 L466.3 650.4 L466.8 647.6 L467.3 644.9 L467.8 642.4 L468.3 640.1 L468.8 637.9 L469.3 636.0 L469.8 634.4 L470.3 633.0 L470.8 632.0 L471.3 631.3 L471.8 630.9 L472.3 631.0 L472.8 631.3 L473.3 631.9 L473.8 632.8 L474.3 634.0 L474.8 635.3 L475.3 636.9 L475.8 638.7 L476.3 640.7 L476.8 642.9 L477.3 645.2 L477.8 647.6 L478.3 650.1 L478.8 652.8 L479.3 655.5 L479.8 658.3 L480.3 661.1 L480.8 664.0 L481.3 666.8 L481.8 669.7 L482.3 672.5 L482.8 675.3 L483.3 678.1 L483.8 680.7 L484.3 683.3 L484.8 685.8 L485.3 688.1 L485.8 690.3 L486.3 692.3 L486.8 694.1 L487.3 695.8 L487.8 697.2 L488.3 698.4 L488.8 699.3 L489.3 700.0 L489.8 700.4 L490.3 700.5 L490.8 700.2 L491.3 699.4 L491.8 698.1 L492.3 696.5 L492.8 694.5 L493.3 692.2 L493.8 689.6 L494.3 686.7 L494.8 683.6 L495.3 680.3 L495.8 676.8 L496.3 673.2 L496.8 669.4 L497.3 665.6 L497.8 661.7 L498.3 657.9 L498.8 654.0 L499.3 650.2 L499.8 646.4 L500.3 642.8 L500.8 639.3 L501.3 636.0 L501.8 632.9 L502.3 630.0 L502.8 627.4 L503.3 625.1 L503.8 623.1 L504.3 621.5 L504.8 620.2 L505.3 619.4 L505.8 619.1 L506.3 619.2 L506.8 619.4 L507.3 619.9 L507.8 620.5 L508.3 621.3 L508.8 622.3 L509.3 623.4 L509.8 624.6 L510.3 626.0 L510.8 627.5 L511.3 629.0 L511.8 630.7 L512.3 632.4 L512.8 634.3 L513.3 636.1 L513.8 638.0 L514.3 640.0 L514.8 641.9 L515.3 643.9 L515.8 645.9 L516.3 647.8 L516.8 649.8 L517.3 651.7 L517.8 653.5 L518.3 655.3 L518.8 657.0 L519.3 658.7 L519.8 660.2 L520.3 661.7 L520.8 663.0 L521.3 664.2 L521.8 665.3 L522.3 666.3 L522.8 667.0 L523.3 667.6 L523.8 668.0 L524.3 668.3 L524.8 668.3 L525.3 668.0 L525.8 667.4 L526.3 666.4 L526.8 665.2 L527.3 663.8 L527.8 662.1 L528.3 660.2 L528.8 658.0 L529.3 655.7 L529.8 653.3 L530.3 650.6 L530.8 647.9 L531.3 645.0 L531.8 642.1 L532.3 639.0 L532.8 635.9 L533.3 632.8 L533.8 629.7 L534.3 626.6 L534.8 623.4 L535.3 620.4 L535.8 617.3 L536.3 614.4 L536.8 611.6 L537.3 608.8 L537.8 606.2 L538.3 603.8 L538.8 601.5 L539.3 599.4 L539.8 597.5 L540.3 595.9 L540.8 594.5 L541.3 593.4 L541.8 592.5 L542.3 591.9 L542.8 591.7 L543.3 591.7 L543.8 591.8 L544.3 592.1 L544.8 592.3 L545.3 592.7 L545.8 593.1 L546.3 593.6 L546.8 594.2 L547.3 594.7 L547.8 595.4 L548.3 596.0 L548.8 596.8 L549.3 597.5 L549.8 598.2 L550.3 599.0 L550.8 599.8 L551.3 600.5 L551.8 601.3 L552.3 602.1 L552.8 602.8 L553.3 603.5 L553.8 604.2 L554.3 604.9 L554.8 605.5 L555.3 606.1 L555.8 606.6 L556.3 607.1 L556.8 607.5 L557.3 607.8 L557.8 608.0 L558.3 608.2 L558.8 608.3 L559.3 608.2 L559.8 607.9 L560.3 607.3 L560.8 606.4 L561.3 605.3 L561.8 603.9 L562.3 602.3 L562.8 600.5 L563.3 598.6 L563.8 596.5 L564.3 594.2 L564.8 591.8 L565.3 589.3 L565.8 586.8 L566.3 584.2 L566.8 581.5 L567.3 578.8 L567.8 576.1 L568.3 573.4 L568.8 570.7 L569.3 568.0 L569.8 565.5 L570.3 563.0 L570.8 560.6 L571.3 558.3 L571.8 556.1 L572.3 554.2 L572.8 552.3 L573.3 550.7 L573.8 549.3 L574.3 548.1 L574.8 547.2 L575.3 546.5 L575.8 546.1 L576.3 546.0 L576.8 546.0 L577.3 546.1 L577.8 546.3 L578.3 546.5 L578.8 546.7 L579.3 547.0 L579.8 547.3 L580.3 547.7 L580.8 548.1 L581.3 548.5 L581.8 548.9 L582.3 549.4 L582.8 549.9 L583.3 550.4 L583.8 550.9 L584.3 551.4 L584.8 552.0 L585.3 552.5 L585.8 553.1 L586.3 553.7 L586.8 554.2 L587.3 554.8 L587.8 555.3 L588.3 555.8 L588.8 556.3 L589.3 556.8 L589.8 557.3 L590.3 557.7 L590.8 558.1 L591.3 558.5 L591.8 558.9 L592.3 559.2 L592.8 559.5 L593.3 559.7 L593.8 559.9 L594.3 560.1 L594.8 560.2 L595.3 560.2 L595.8 560.1 L596.3 559.9 L596.8 559.4 L597.3 558.7 L597.8 557.9 L598.3 557.0 L598.8 555.9 L599.3 554.8 L599.8 553.5 L600.3 552.2 L600.8 550.8 L601.3 549.4 L601.8 548.0 L602.3 546.6 L602.8 545.2 L603.3 543.9 L603.8 542.6 L604.3 541.4 L604.8 540.2 L605.3 539.2 L605.8 538.3 L606.3 537.6 L606.8 537.0 L607.3 536.6 L607.8 536.4 L608.3 536.4 L608.8 536.7 L609.3 537.1 L609.8 537.7 L610.3 538.5 L610.8 539.5 L611.3 540.7 L611.8 541.9 L612.3 543.4 L612.8 544.9 L613.3 546.6 L613.8 548.3 L614.3 550.2 L614.8 552.1 L615.3 554.1 L615.8 556.1 L616.3 558.2 L616.8 560.4 L617.3 562.5 L617.8 564.7 L618.3 566.9 L618.8 569.0 L619.3 571.1 L619.8 573.3 L620.3 575.3 L620.8 577.3 L621.3 579.3 L621.8 581.1 L622.3 582.9 L622.8 584.6 L623.3 586.1 L623.8 587.6 L624.3 588.9 L624.8 590.1 L625.3 591.1 L625.8 591.9 L626.3 592.6 L626.8 593.1 L627.3 593.3 L627.8 593.4 L628.3 593.2 L628.8 592.6 L629.3 591.7 L629.8 590.6 L630.3 589.2 L630.8 587.6 L631.3 585.8 L631.8 583.9 L632.3 581.8 L632.8 579.5 L633.3 577.2 L633.8 574.8 L634.3 572.4 L634.8 569.9 L635.3 567.5 L635.8 565.0 L636.3 562.7 L636.8 560.4 L637.3 558.2 L637.8 556.1 L638.3 554.2 L638.8 552.5 L639.3 551.0 L639.8 549.7 L640.3 548.7 L640.8 547.9 L641.3 547.5 L641.8 547.4 L642.3 547.5 L642.8 547.9 L643.3 548.3 L643.8 549.0 L644.3 549.8 L644.8 550.8 L645.3 551.9 L645.8 553.1 L646.3 554.4 L646.8 555.9 L647.3 557.4 L647.8 559.0 L648.3 560.8 L648.8 562.5 L649.3 564.4 L649.8 566.3 L650.3 568.2 L650.8 570.2 L651.3 572.2 L651.8 574.3 L652.3 576.3 L652.8 578.3 L653.3 580.4 L653.8 582.4 L654.3 584.3 L654.8 586.3 L655.3 588.2 L655.8 590.0 L656.3 591.7 L656.8 593.4 L657.3 595.0 L657.8 596.5 L658.3 597.9 L658.8 599.2 L659.3 600.4 L659.8 601.4 L660.3 602.3 L660.8 603.1 L661.3 603.7 L661.8 604.1 L662.3 604.3 L662.8 604.4 L663.3 604.2 L663.8 603.7 L664.3 602.9 L664.8 601.9 L665.3 600.7 L665.8 599.3 L666.3 597.7 L666.8 596.0 L667.3 594.1 L667.8 592.2 L668.3 590.2 L668.8 588.1 L669.3 586.0 L669.8 584.0 L670.3 581.9 L670.8 579.9 L671.3 578.0 L671.8 576.2 L672.3 574.5 L672.8 572.9 L673.3 571.6 L673.8 570.4 L674.3 569.4 L674.8 568.7 L675.3 568.3 L675.8 568.1 L676.3 568.2 L676.8 568.5 L677.3 569.1 L677.8 569.8 L678.3 570.7 L678.8 571.8 L679.3 573.0 L679.8 574.4 L680.3 576.0 L680.8 577.6 L681.3 579.4 L681.8 581.3 L682.3 583.3 L682.8 585.4 L683.3 587.5 L683.8 589.7 L684.3 592.0 L684.8 594.3 L685.3 596.7 L685.8 599.0 L686.3 601.4 L686.8 603.8 L687.3 606.1 L687.8 608.5 L688.3 610.8 L688.8 613.1 L689.3 615.3 L689.8 617.4 L690.3 619.5 L690.8 621.5 L691.3 623.4 L691.8 625.2 L692.3 626.8 L692.8 628.4 L693.3 629.8 L693.8 631.0 L694.3 632.1 L694.8 633.0 L695.3 633.7 L695.8 634.3 L696.3 634.6 L696.8 634.7 L697.3 634.5 L697.8 634.1 L698.3 633.3 L698.8 632.4 L699.3 631.1 L699.8 629.7 L700.3 628.1 L700.8 626.3 L701.3 624.4 L701.8 622.4 L702.3 620.2 L702.8 618.1 L703.3 615.8 L703.8 613.6 L704.3 611.3 L704.8 609.0 L705.3 606.9 L705.8 604.7 L706.3 602.7 L706.8 600.8 L707.3 599.0 L707.8 597.4 L708.3 596.0 L708.8 594.7 L709.3 593.8 L709.8 593.0 L710.3 592.6 L710.8 592.4 L711.3 592.5 L711.8 592.7 L712.3 593.2 L712.8 593.7 L713.3 594.4 L713.8 595.3 L714.3 596.2 L714.8 597.3 L715.3 598.5 L715.8 599.8 L716.3 601.1 L716.8 602.6 L717.3 604.1 L717.8 605.7 L718.3 607.4 L718.8 609.1 L719.3 610.8 L719.8 612.6 L720.3 614.4 L720.8 616.3 L721.3 618.1 L721.8 619.9 L722.3 621.7 L722.8 623.5 L723.3 625.3 L723.8 627.0 L724.3 628.7 L724.8 630.4 L725.3 632.0 L725.8 633.5 L726.3 634.9 L726.8 636.3 L727.3 637.6 L727.8 638.7 L728.3 639.8 L728.8 640.7 L729.3 641.5 L729.8 642.2 L730.3 642.7 L730.8 643.1 L731.3 643.3 L731.8 643.4 L732.3 643.2 L732.8 642.6 L733.3 641.7 L733.8 640.6 L734.3 639.2 L734.8 637.6 L735.3 635.8 L735.8 633.9 L736.3 631.7 L736.8 629.5 L737.3 627.2 L737.8 624.8 L738.3 622.4 L738.8 620.0 L739.3 617.6 L739.8 615.2 L740.3 612.9 L740.8 610.7 L741.3 608.5 L741.8 606.6 L742.3 604.8 L742.8 603.2 L743.3 601.8 L743.8 600.7 L744.3 599.8 L744.8 599.2 L745.3 599.0 L745.8 599.1 L746.3 599.3 L746.8 599.8 L747.3 600.5 L747.8 601.3 L748.3 602.4 L748.8 603.5 L749.3 604.8 L749.8 606.3 L750.3 607.8 L750.8 609.5 L751.3 611.3 L751.8 613.2 L752.3 615.1 L752.8 617.1 L753.3 619.2 L753.8 621.3 L754.3 623.4 L754.8 625.6 L755.3 627.7 L755.8 629.9 L756.3 632.0 L756.8 634.2 L757.3 636.3 L757.8 638.3 L758.3 640.3 L758.8 642.2 L759.3 644.0 L759.8 645.8 L760.3 647.4 L760.8 648.9 L761.3 650.3 L761.8 651.6 L762.3 652.7 L762.8 653.6 L763.3 654.4 L763.8 655.0 L764.3 655.4 L764.8 655.6 L765.3 655.5 L765.8 655.1 L766.3 654.4 L766.8 653.3 L767.3 651.9 L767.8 650.3 L768.3 648.4 L768.8 646.3 L769.3 644.0 L769.8 641.6 L770.3 638.9 L770.8 636.2 L771.3 633.4 L771.8 630.4 L772.3 627.5 L772.8 624.5 L773.3 621.5 L773.8 618.6 L774.3 615.6 L774.8 612.8 L775.3 610.1 L775.8 607.4 L776.3 605.0 L776.8 602.7 L777.3 600.6 L777.8 598.7 L778.3 597.1 L778.8 595.7 L779.3 594.6 L779.8 593.9 L780.3 593.5 L780.8 593.4 L781.3 593.5 L781.8 593.7 L782.3 594.1 L782.8 594.5 L783.3 595.1 L783.8 595.7 L784.3 596.4 L784.8 597.2 L785.3 598.0 L785.8 598.9 L786.3 599.9 L786.8 600.9 L787.3 602.0 L787.8 603.1 L788.3 604.2 L788.8 605.3 L789.3 606.5 L789.8 607.6 L790.3 608.8 L790.8 610.0 L791.3 611.1 L791.8 612.3 L792.3 613.4 L792.8 614.5 L793.3 615.5 L793.8 616.5 L794.3 617.5 L794.8 618.3 L795.3 619.2 L795.8 619.9 L796.3 620.6 L796.8 621.2 L797.3 621.7 L797.8 622.1 L798.3 622.4 L798.8 622.5 L799.3 622.6 L799.8 622.4 L800.3 622.0 L800.8 621.3 L801.3 620.3 L801.8 619.1 L802.3 617.7 L802.8 616.1 L803.3 614.4 L803.8 612.5 L804.3 610.5 L804.8 608.4 L805.3 606.3 L805.8 604.1 L806.3 601.9 L806.8 599.6 L807.3 597.4 L807.8 595.3 L808.3 593.2 L808.8 591.2 L809.3 589.3 L809.8 587.6 L810.3 586.0 L810.8 584.6 L811.3 583.4 L811.8 582.4 L812.3 581.7 L812.8 581.3 L813.3 581.1 L813.8 581.2 L814.3 581.6 L814.8 582.1 L815.3 582.9 L815.8 583.8 L816.3 585.0 L816.8 586.3 L817.3 587.7 L817.8 589.3 L818.3 591.0 L818.8 592.8 L819.3 594.8 L819.8 596.8 L820.3 598.9 L820.8 601.0 L821.3 603.2 L821.8 605.4 L822.3 607.7 L822.8 609.9 L823.3 612.2 L823.8 614.4 L824.3 616.6 L824.8 618.8 L825.3 620.9 L825.8 622.9 L826.3 624.9 L826.8 626.8 L827.3 628.5 L827.8 630.2 L828.3 631.7 L828.8 633.0 L829.3 634.2 L829.8 635.2 L830.3 636.1 L830.8 636.7 L831.3 637.2 L831.8 637.4 L832.3 637.3 L832.8 637.0 L833.3 636.3 L833.8 635.3 L834.3 634.0 L834.8 632.4 L835.3 630.7 L835.8 628.7 L836.3 626.5 L836.8 624.2 L837.3 621.7 L837.8 619.1 L838.3 616.3 L838.8 613.5 L839.3 610.7 L839.8 607.8 L840.3 604.9 L840.8 602.0 L841.3 599.1 L841.8 596.3 L842.3 593.5 L842.8 590.9 L843.3 588.3 L843.8 585.9 L844.3 583.7 L844.8 581.6 L845.3 579.7 L845.8 578.1 L846.3 576.7 L846.8 575.6 L847.3 574.8 L847.8 574.3 L848.3 574.1 L848.8 574.2 L849.3 574.3 L849.8 574.6 L850.3 575.0 L850.8 575.5 L851.3 576.1 L851.8 576.8 L852.3 577.6 L852.8 578.4 L853.3 579.3 L853.8 580.3 L854.3 581.4 L854.8 582.4 L855.3 583.6 L855.8 584.8 L856.3 586.0 L856.8 587.2 L857.3 588.5 L857.8 589.8 L858.3 591.1 L858.8 592.4 L859.3 593.7 L859.8 595.0 L860.3 596.3 L860.8 597.6 L861.3 598.8 L861.8 600.0 L862.3 601.2 L862.8 602.4 L863.3 603.4 L863.8 604.5 L864.3 605.5 L864.8 606.4 L865.3 607.2 L865.8 608.0 L866.3 608.7 L866.8 609.3 L867.3 609.8 L867.8 610.2 L868.3 610.5 L868.8 610.6 L869.3 610.7 L869.8 610.5 L870.3 610.1 L870.8 609.3 L871.3 608.3 L871.8 607.0 L872.3 605.6 L872.8 604.0 L873.3 602.3 L873.8 600.4 L874.3 598.5 L874.8 596.6 L875.3 594.6 L875.8 592.7 L876.3 590.8 L876.8 589.0 L877.3 587.4 L877.8 585.8 L878.3 584.5 L878.8 583.3 L879.3 582.4 L879.8 581.7 L880.3 581.4 L880.8 581.3 L881.3 581.6 L881.8 582.0 L882.3 582.7 L882.8 583.7 L883.3 584.8 L883.8 586.1 L884.3 587.6 L884.8 589.3 L885.3 591.1 L885.8 593.1 L886.3 595.2 L886.8 597.4 L887.3 599.7 L887.8 602.1 L888.3 604.6 L888.8 607.1 L889.3 609.7 L889.8 612.3 L890.3 614.9 L890.8 617.6 L891.3 620.2 L891.8 622.9 L892.3 625.5 L892.8 628.0 L893.3 630.5 L893.8 632.9 L894.3 635.3 L894.8 637.5 L895.3 639.7 L895.8 641.7 L896.3 643.6 L896.8 645.3 L897.3 646.9 L897.8 648.3 L898.3 649.5 L898.8 650.5 L899.3 651.3 L899.8 651.9 L900.3 652.2 L900.8 652.3 L901.3 652.0 L901.8 651.3 L902.3 650.2 L902.8 648.9 L903.3 647.2 L903.8 645.2 L904.3 643.0 L904.8 640.6 L905.3 638.0 L905.8 635.2 L906.3 632.3 L906.8 629.4 L907.3 626.4 L907.8 623.3 L908.3 620.3 L908.8 617.3 L909.3 614.4 L909.8 611.6 L910.3 608.9 L910.8 606.3 L911.3 604.0 L911.8 601.9 L912.3 600.0 L912.8 598.4 L913.3 597.2 L913.8 596.3 L914.3 595.7 L914.8 595.6 L915.3 595.7 L915.8 595.9 L916.3 596.2 L916.8 596.5 L917.3 597.0 L917.8 597.6 L918.3 598.2 L918.8 599.0 L919.3 599.8 L919.8 600.6 L920.3 601.6 L920.8 602.5 L921.3 603.6 L921.8 604.6 L922.3 605.8 L922.8 606.9 L923.3 608.1 L923.8 609.3 L924.3 610.5 L924.8 611.8 L925.3 613.0 L925.8 614.3 L926.3 615.5 L926.8 616.8 L927.3 618.0 L927.8 619.2 L928.3 620.4 L928.8 621.6 L929.3 622.7 L929.8 623.8 L930.3 624.9 L930.8 625.9 L931.3 626.8 L931.8 627.7 L932.3 628.5 L932.8 629.3 L933.3 630.0 L933.8 630.6 L934.3 631.1 L934.8 631.5 L935.3 631.8 L935.8 632.1 L936.3 632.2 L936.8 632.2 L937.3 631.9 L937.8 631.4 L938.3 630.5 L938.8 629.5 L939.3 628.2 L939.8 626.7 L940.3 625.0 L940.8 623.2 L941.3 621.2 L941.8 619.1 L942.3 616.9 L942.8 614.6 L943.3 612.2 L943.8 609.8 L944.3 607.4 L944.8 604.9 L945.3 602.5 L945.8 600.1 L946.3 597.8 L946.8 595.5 L947.3 593.3 L947.8 591.3 L948.3 589.4 L948.8 587.6 L949.3 586.0 L949.8 584.6 L950.3 583.4 L950.8 582.4 L951.3 581.7 L951.8 581.3 L952.3 581.1 L952.8 581.1 L953.3 581.2 L953.8 581.3 L954.3 581.4 L954.8 581.6 L955.3 581.8 L955.8 582.1 L956.3 582.3 L956.8 582.6 L957.3 583.0 L957.8 583.3 L958.3 583.7 L958.8 584.0 L959.3 584.4 L959.8 584.8 L960.3 585.2 L960.8 585.7 L961.3 586.1 L961.8 586.5 L962.3 586.9 L962.8 587.3 L963.3 587.7 L963.8 588.1 L964.3 588.5 L964.8 588.9 L965.3 589.3 L965.8 589.6 L966.3 589.9 L966.8 590.2 L967.3 590.5 L967.8 590.7 L968.3 590.9 L968.8 591.1 L969.3 591.2 L969.8 591.3 L970.3 591.4 L970.8 591.4 L971.3 591.2 L971.8 590.9 L972.3 590.3 L972.8 589.6 L973.3 588.7 L973.8 587.6 L974.3 586.4 L974.8 585.1 L975.3 583.8 L975.8 582.3 L976.3 580.8 L976.8 579.2 L977.3 577.6 L977.8 576.0 L978.3 574.4 L978.8 572.8 L979.3 571.2 L979.8 569.7 L980.3 568.3 L980.8 566.9 L981.3 565.7 L981.8 564.6 L982.3 563.6 L982.8 562.7 L983.3 562.0 L983.8 561.6 L984.3 561.3 L984.8 561.2 L985.3 561.3 L985.8 561.6 L986.3 562.0 L986.8 562.5 L987.3 563.2 L987.8 564.0 L988.3 564.9 L988.8 565.9 L989.3 567.0 L989.8 568.2 L990.3 569.4 L990.8 570.7 L991.3 572.1 L991.8 573.5 L992.3 575.0 L992.8 576.5 L993.3 578.0 L993.8 579.5 L994.3 581.0 L994.8 582.5 L995.3 584.0 L995.8 585.5 L996.3 587.0 L996.8 588.4 L997.3 589.8 L997.8 591.1 L998.3 592.3 L998.8 593.5 L999.3 594.6 L999.8 595.6 L1000.3 596.5 L1000.8 597.3 L1001.3 598.0 L1001.8 598.5 L1002.3 598.9 L1002.8 599.2 L1003.3 599.3 L1003.8 599.2 L1004.3 598.8 L1004.8 598.0 L1005.3 597.0 L1005.8 595.7 L1006.3 594.1 L1006.8 592.4 L1007.3 590.4 L1007.8 588.3 L1008.3 586.0 L1008.8 583.6 L1009.3 581.1 L1009.8 578.5 L1010.3 575.9 L1010.8 573.2 L1011.3 570.5 L1011.8 567.8 L1012.3 565.2 L1012.8 562.6 L1013.3 560.1 L1013.8 557.7 L1014.3 555.4 L1014.8 553.3 L1015.3 551.3 L1015.8 549.6 L1016.3 548.0 L1016.8 546.7 L1017.3 545.7 L1017.8 544.9 L1018.3 544.5 L1018.8 544.4 L1019.3 544.5 L1019.8 544.7 L1020.3 545.1 L1020.8 545.5 L1021.3 546.1 L1021.8 546.7 L1022.3 547.5 L1022.8 548.3 L1023.3 549.2 L1023.8 550.2 L1024.3 551.3 L1024.8 552.4 L1025.3 553.5 L1025.8 554.8 L1026.3 556.0 L1026.8 557.3 L1027.3 558.6 L1027.8 559.9 L1028.3 561.3 L1028.8 562.6 L1029.3 564.0 L1029.8 565.3 L1030.3 566.7 L1030.8 568.0 L1031.3 569.2 L1031.8 570.5 L1032.3 571.7 L1032.8 572.8 L1033.3 574.0 L1033.8 575.0 L1034.3 576.0 L1034.8 576.9 L1035.3 577.7 L1035.8 578.4 L1036.3 579.1 L1036.8 579.6 L1037.3 580.0 L1037.8 580.3 L1038.3 580.5 L1038.8 580.6 L1039.3 580.5 L1039.8 580.1 L1040.3 579.4 L1040.8 578.5 L1041.3 577.4 L1041.8 576.1 L1042.3 574.5 L1042.8 572.9 L1043.3 571.0 L1043.8 569.0 L1044.3 566.9 L1044.8 564.7 L1045.3 562.4 L1045.8 560.0 L1046.3 557.5 L1046.8 555.0 L1047.3 552.5 L1047.8 549.9 L1048.3 547.3 L1048.8 544.8 L1049.3 542.3 L1049.8 539.8 L1050.3 537.4 L1050.8 535.1 L1051.3 532.9 L1051.8 530.8 L1052.3 528.8 L1052.8 526.9 L1053.3 525.3 L1053.8 523.7 L1054.3 522.4 L1054.8 521.3 L1055.3 520.4 L1055.8 519.7 L1056.3 519.3 L1056.8 519.2 L1057.3 519.2 L1057.8 519.3 L1058.3 519.4 L1058.8 519.5 L1059.3 519.6 L1059.8 519.8 L1060.3 520.0 L1060.8 520.2 L1061.3 520.5 L1061.8 520.7 L1062.3 521.0 L1062.8 521.3 L1063.3 521.6 L1063.8 521.8 L1064.3 522.1 L1064.8 522.4 L1065.3 522.7 L1065.8 523.0 L1066.3 523.3 L1066.8 523.5 L1067.3 523.8 L1067.8 524.0 L1068.3 524.2 L1068.8 524.4 L1069.3 524.6 L1069.8 524.7 L1070.3 524.8 L1070.8 524.9 L1071.3 524.9 L1071.8 524.9 L1072.3 524.6 L1072.8 524.2 L1073.3 523.7 L1073.8 522.9 L1074.3 522.0 L1074.8 521.0 L1075.3 519.8 L1075.8 518.5 L1076.3 517.1 L1076.8 515.6 L1077.3 514.0 L1077.8 512.4 L1078.3 510.7 L1078.8 508.9 L1079.3 507.1 L1079.8 505.2 L1080.3 503.4 L1080.8 501.5 L1081.3 499.6 L1081.8 497.8 L1082.3 495.9 L1082.8 494.1 L1083.3 492.4 L1083.8 490.7 L1084.3 489.1 L1084.8 487.6 L1085.3 486.1 L1085.8 484.8 L1086.3 483.6 L1086.8 482.5 L1087.3 481.5 L1087.8 480.7 L1088.3 480.1 L1088.8 479.6 L1089.3 479.3 L1089.8 479.2 L1090.3 479.2 L1090.8 479.3 L1091.3 479.5 L1091.8 479.6 L1092.3 479.9 L1092.8 480.2 L1093.3 480.5 L1093.8 480.8 L1094.3 481.2 L1094.8 481.6 L1095.3 482.0 L1095.8 482.4 L1096.3 482.8 L1096.8 483.3 L1097.3 483.7 L1097.8 484.2 L1098.3 484.6 L1098.8 485.0 L1099.3 485.4 L1099.8 485.8 L1100.3 486.2 L1100.8 486.5 L1101.3 486.8 L1101.8 487.1 L1102.3 487.4 L1102.8 487.5 L1103.3 487.7 L1103.8 487.8 L1104.3 487.8 L1104.8 487.7 L1105.3 487.3 L1105.8 486.7 L1106.3 485.8 L1106.8 484.8 L1107.3 483.5 L1107.8 482.1 L1108.3 480.6 L1108.8 478.9 L1109.3 477.1 L1109.8 475.1 L1110.3 473.1 L1110.8 471.0 L1111.3 468.9 L1111.8 466.7 L1112.3 464.5 L1112.8 462.3 L1113.3 460.1 L1113.8 457.9 L1114.3 455.8 L1114.8 453.7 L1115.3 451.7 L1115.8 449.7 L1116.3 447.9 L1116.8 446.2 L1117.3 444.7 L1117.8 443.3 L1118.3 442.0 L1118.8 441.0 L1119.3 440.1 L1119.8 439.5 L1120.3 439.1 L1120.8 439.0 L1121.3 439.1 L1121.8 439.2 L1122.3 439.6 L1122.8 440.0 L1123.3 440.5 L1123.8 441.1 L1124.3 441.8 L1124.8 442.6 L1125.3 443.4 L1125.8 444.3 L1126.3 445.3 L1126.8 446.4 L1127.3 447.4 L1127.8 448.6 L1128.3 449.7 L1128.8 450.9 L1129.3 452.1 L1129.8 453.4 L1130.3 454.6 L1130.8 455.8 L1131.3 457.1 L1131.8 458.3 L1132.3 459.5 L1132.8 460.7 L1133.3 461.8 L1133.8 462.9 L1134.3 464.0 L1134.8 465.0 L1135.3 465.9 L1135.8 466.8 L1136.3 467.6 L1136.8 468.4 L1137.3 469.0 L1137.8 469.5 L1138.3 470.0 L1138.8 470.3 L1139.3 470.6 L1139.8 470.7 L1140.3 470.7 L1140.8 470.4 L1141.3 470.0 L1141.8 469.3 L1142.3 468.5 L1142.8 467.5 L1143.3 466.3 L1143.8 465.0 L1144.3 463.5 L1144.8 461.9 L1145.3 460.1 L1145.8 458.3 L1146.3 456.3 L1146.8 454.3 L1147.3 452.2 L1147.8 450.0 L1148.3 447.7 L1148.8 445.5 L1149.3 443.1 L1149.8 440.8 L1150.3 438.4 L1150.8 436.0 L1151.3 433.7 L1151.8 431.3 L1152.3 429.0 L1152.8 426.7 L1153.3 424.5 L1153.8 422.3 L1154.3 420.2 L1154.8 418.2 L1155.3 416.2 L1155.8 414.4 L1156.3 412.7 L1156.8 411.1 L1157.3 409.7 L1157.8 408.4 L1158.3 407.2 L1158.8 406.2 L1159.3 405.4 L1159.8 404.8 L1160.3 404.4 L1160.8 404.2 L1161.3 404.2 L1161.8 404.2 L1162.3 404.2 L1162.8 404.2 L1163.3 404.2 L1163.8 404.2 L1164.3 404.3 L1164.8 404.3 L1165.3 404.3 L1165.8 404.3 L1166.3 404.3 L1166.8 404.4 L1167.3 404.4 L1167.8 404.4 L1168.3 404.4 L1168.8 404.5 L1169.3 404.5 L1169.8 404.5 L1170.3 404.5 L1170.8 404.5 L1171.3 404.6 L1171.8 404.6 L1172.3 404.6 L1172.8 404.6 L1173.3 404.6 L1173.8 404.6 L1174.3 404.6 L1174.8 404.4 L1175.3 404.0 L1175.8 403.5 L1176.3 402.9 L1176.8 402.1 L1177.3 401.2 L1177.8 400.2 L1178.3 399.1 L1178.8 398.0 L1179.3 396.7 L1179.8 395.5 L1180.3 394.2 L1180.8 392.8 L1181.3 391.5 L1181.8 390.2 L1182.3 388.8 L1182.8 387.5 L1183.3 386.3 L1183.8 385.0 L1184.3 383.9 L1184.8 382.8 L1185.3 381.8 L1185.8 380.9 L1186.3 380.1 L1186.8 379.5 L1187.3 379.0 L1187.8 378.6 L1188.3 378.4 L1188.8 378.4 L1189.3 378.5 L1189.8 378.8 L1190.3 379.2 L1190.8 379.7 L1191.3 380.3 L1191.8 381.0 L1192.3 381.8 L1192.8 382.7 L1193.3 383.7 L1193.8 384.8 L1194.3 385.9 L1194.8 387.1 L1195.3 388.4 L1195.8 389.7 L1196.3 391.0 L1196.8 392.4 L1197.3 393.8 L1197.8 395.2 L1198.3 396.6 L1198.8 398.0 L1199.3 399.5 L1199.8 400.9 L1200.3 402.3 L1200.8 403.7 L1201.3 405.0 L1201.8 406.3 L1202.3 407.6 L1202.8 408.8 L1203.3 410.0 L1203.8 411.1 L1204.3 412.1 L1204.8 413.0 L1205.3 413.9 L1205.8 414.6 L1206.3 415.3 L1206.8 415.8 L1207.3 416.3 L1207.8 416.6 L1208.3 416.8 L1208.8 416.8 L1209.3 416.6 L1209.8 416.2 L1210.3 415.5 L1210.8 414.7 L1211.3 413.6 L1211.8 412.4 L1212.3 411.0 L1212.8 409.5 L1213.3 407.8 L1213.8 406.1 L1214.3 404.2 L1214.8 402.3 L1215.3 400.3 L1215.8 398.3 L1216.3 396.2 L1216.8 394.2 L1217.3 392.1 L1217.8 390.1 L1218.3 388.1 L1218.8 386.2 L1219.3 384.4 L1219.8 382.6 L1220.3 381.0 L1220.8 379.5 L1221.3 378.1 L1221.8 376.9 L1222.3 375.9 L1222.8 375.1 L1223.3 374.5 L1223.8 374.1 L1224.3 374.0 L1224.8 374.1 L1225.3 374.2 L1225.8 374.5 L1226.3 374.9 L1226.8 375.4 L1227.3 376.0 L1227.8 376.6 L1228.3 377.4 L1228.8 378.2 L1229.3 379.0 L1229.8 379.9 L1230.3 380.9 L1230.8 381.9 L1231.3 382.9 L1231.8 384.0 L1232.3 385.0 L1232.8 386.1 L1233.3 387.2 L1233.8 388.3 L1234.3 389.4 L1234.8 390.5 L1235.3 391.5 L1235.8 392.5 L1236.3 393.5 L1236.8 394.4 L1237.3 395.3 L1237.8 396.1 L1238.3 396.9 L1238.8 397.6 L1239.3 398.2 L1239.8 398.7 L1240.3 399.1 L1240.8 399.5 L1241.3 399.7 L1241.8 399.8 L1242.3 399.8 L1242.8 399.5 L1243.3 398.9 L1243.8 398.2 L1244.3 397.2 L1244.8 396.0 L1245.3 394.7 L1245.8 393.2 L1246.3 391.6 L1246.8 389.8 L1247.3 387.9 L1247.8 386.0 L1248.3 383.9 L1248.8 381.8 L1249.3 379.7 L1249.8 377.5 L1250.3 375.3 L1250.8 373.2 L1251.3 371.1 L1251.8 369.0 L1252.3 366.9 L1252.8 365.0 L1253.3 363.1 L1253.8 361.4 L1254.3 359.8 L1254.8 358.3 L1255.3 357.0 L1255.8 355.9 L1256.3 355.0 L1256.8 354.2 L1257.3 353.8 L1257.8 353.5 L1258.3 353.5 L1258.8 353.6 L1259.3 353.8 L1259.8 354.2 L1260.3 354.6 L1260.8 355.0 L1261.3 355.6 L1261.8 356.2 L1262.3 356.9 L1262.8 357.7 L1263.3 358.5 L1263.8 359.4 L1264.3 360.3 L1264.8 361.3 L1265.3 362.3 L1265.8 363.3 L1266.3 364.4 L1266.8 365.4 L1267.3 366.5 L1267.8 367.6 L1268.3 368.7 L1268.8 369.8 L1269.3 370.9 L1269.8 372.0 L1270.3 373.1 L1270.8 374.1 L1271.3 375.1 L1271.8 376.1 L1272.3 377.1 L1272.8 378.0 L1273.3 378.8 L1273.8 379.6 L1274.3 380.4 L1274.8 381.0 L1275.3 381.6 L1275.8 382.2 L1276.3 382.6 L1276.8 383.0 L1277.3 383.2 L1277.8 383.4 L1278.3 383.5 L1278.8 383.4 L1279.3 383.1 L1279.8 382.6 L1280.3 381.9 L1280.8 381.0 L1281.3 380.0 L1281.8 378.8 L1282.3 377.5 L1282.8 376.0 L1283.3 374.5 L1283.8 372.8 L1284.3 371.1 L1284.8 369.3 L1285.3 367.5 L1285.8 365.6 L1286.3 363.8 L1286.8 361.9 L1287.3 360.1 L1287.8 358.2 L1288.3 356.5 L1288.8 354.8 L1289.3 353.1 L1289.8 351.6 L1290.3 350.2 L1290.8 348.9 L1291.3 347.7 L1291.8 346.7 L1292.3 345.8 L1292.8 345.2 L1293.3 344.7 L1293.8 344.4 L1294.3 344.4 L1294.8 344.5 L1295.3 344.7 L1295.8 344.9 L1296.3 345.2 L1296.8 345.6 L1297.3 346.1 L1297.8 346.6 L1298.3 347.2 L1298.8 347.9 L1299.3 348.5 L1299.8 349.3 L1300.3 350.0 L1300.8 350.8 L1301.3 351.6 L1301.8 352.4 L1302.3 353.2 L1302.8 354.1 L1303.3 354.9 L1303.8 355.7 L1304.3 356.6 L1304.8 357.4 L1305.3 358.1 L1305.8 358.9 L1306.3 359.6 L1306.8 360.3 L1307.3 360.9 L1307.8 361.5 L1308.3 362.1 L1308.8 362.6 L1309.3 363.0 L1309.8 363.3 L1310.3 363.6 L1310.8 363.8 L1311.3 363.9 L1311.8 363.9 L1312.3 363.7 L1312.8 363.3 L1313.3 362.8 L1313.8 362.1 L1314.3 361.2 L1314.8 360.3 L1315.3 359.1 L1315.8 357.9 L1316.3 356.6 L1316.8 355.1 L1317.3 353.6 L1317.8 352.1 L1318.3 350.4 L1318.8 348.8 L1319.3 347.1 L1319.8 345.4 L1320.3 343.6 L1320.8 341.9 L1321.3 340.2 L1321.8 338.6 L1322.3 336.9 L1322.8 335.4 L1323.3 333.9 L1323.8 332.4 L1324.3 331.1 L1324.8 329.9 L1325.3 328.7 L1325.8 327.8 L1326.3 326.9 L1326.8 326.2 L1327.3 325.7 L1327.8 325.3 L1328.3 325.1 L1328.8 325.1 L1329.3 325.2 L1329.8 325.3 L1330.3 325.4 L1330.8 325.6 L1331.3 325.8 L1331.8 326.1 L1332.3 326.3 L1332.8 326.6 L1333.3 327.0 L1333.8 327.3 L1334.3 327.7 L1334.8 328.1 L1335.3 328.5 L1335.8 328.9 L1336.3 329.4 L1336.8 329.8 L1337.3 330.2 L1337.8 330.7 L1338.3 331.1 L1338.8 331.5 L1339.3 332.0 L1339.8 332.4 L1340.3 332.8 L1340.8 333.1 L1341.3 333.5 L1341.8 333.8 L1342.3 334.1 L1342.8 334.4 L1343.3 334.6 L1343.8 334.9 L1344.3 335.0 L1344.8 335.2 L1345.3 335.3 L1345.8 335.3 L1346.3 335.3 L1346.8 335.1 L1347.3 334.7 L1347.8 334.2 L1348.3 333.6 L1348.8 332.8 L1349.3 331.9 L1349.8 330.9 L1350.3 329.9 L1350.8 328.7 L1351.3 327.6 L1351.8 326.3 L1352.3 325.1 L1352.8 323.8 L1353.3 322.5 L1353.8 321.2 L1354.3 319.9 L1354.8 318.7 L1355.3 317.5 L1355.8 316.4 L1356.3 315.4 L1356.8 314.4 L1357.3 313.5 L1357.8 312.8 L1358.3 312.2 L1358.8 311.7 L1359.3 311.4 L1359.8 311.2 L1360.3 311.2 L1360.8 311.4 L1361.3 311.6 L1361.8 311.9 L1362.3 312.4 L1362.8 312.9 L1363.3 313.6 L1363.8 314.3 L1364.3 315.1 L1364.8 315.9 L1365.3 316.8 L1365.8 317.8 L1366.3 318.8 L1366.8 319.9 L1367.3 321.0 L1367.8 322.1 L1368.3 323.2 L1368.8 324.4 L1369.3 325.6 L1369.8 326.8 L1370.3 327.9 L1370.8 329.1 L1371.3 330.3 L1371.8 331.4 L1372.3 332.5 L1372.8 333.6 L1373.3 334.6 L1373.8 335.6 L1374.3 336.5 L1374.8 337.4 L1375.3 338.2 L1375.8 339.0 L1376.3 339.6 L1376.8 340.2 L1377.3 340.7 L1377.8 341.1 L1378.3 341.4 L1378.8 341.5 L1379.3 341.6 L1379.8 341.5 L1380.3 341.1 L1380.8 340.5 L1381.3 339.6 L1381.8 338.6 L1382.3 337.4 L1382.8 336.0 L1383.3 334.5 L1383.8 332.9 L1384.3 331.1 L1384.8 329.2 L1385.3 327.3 L1385.8 325.3 L1386.3 323.3 L1386.8 321.2 L1387.3 319.2 L1387.8 317.1 L1388.3 315.1 L1388.8 313.1 L1389.3 311.2 L1389.8 309.3 L1390.3 307.6 L1390.8 306.0 L1391.3 304.5 L1391.8 303.1 L1392.3 302.0 L1392.8 301.0 L1393.3 300.2 L1393.8 299.6 L1394.3 299.3 L1394.8 299.2 L1395.3 299.3 L1395.8 299.5 L1396.3 299.8 L1396.8 300.2 L1397.3 300.7 L1397.8 301.3 L1398.3 302.0 L1398.8 302.7 L1399.3 303.5 L1399.8 304.4 L1400.3 305.4 L1400.8 306.4 L1401.3 307.4 L1401.8 308.5 L1402.3 309.6 L1402.8 310.7 L1403.3 311.8 L1403.8 313.0 L1404.3 314.1 L1404.8 315.3 L1405.3 316.5 L1405.8 317.6 L1406.3 318.7 L1406.8 319.8 L1407.3 320.8 L1407.8 321.8 L1408.3 322.8 L1408.8 323.7 L1409.3 324.6 L1409.8 325.3 L1410.3 326.0 L1410.8 326.7 L1411.3 327.2 L1411.8 327.7 L1412.3 328.0 L1412.8 328.2 L1413.3 328.4 L1413.8 328.4 L1414.3 328.1 L1414.8 327.6 L1415.3 326.9 L1415.8 325.9 L1416.3 324.8 L1416.8 323.4 L1417.3 321.9 L1417.8 320.3 L1418.3 318.5 L1418.8 316.6 L1419.3 314.7 L1419.8 312.6 L1420.3 310.6 L1420.8 308.5 L1421.3 306.3 L1421.8 304.2 L1422.3 302.2 L1422.8 300.1 L1423.3 298.2 L1423.8 296.3 L1424.3 294.5 L1424.8 292.9 L1425.3 291.4 L1425.8 290.0 L1426.3 288.9 L1426.8 287.9 L1427.3 287.2 L1427.8 286.7 L1428.3 286.4 L1428.8 286.4 L1429.3 286.5 L1429.8 286.7 L1430.3 287.0 L1430.8 287.3 L1431.3 287.7 L1431.8 288.2 L1432.3 288.8 L1432.8 289.4 L1433.3 290.1 L1433.8 290.8 L1434.3 291.5 L1434.8 292.3 L1435.3 293.1 L1435.8 294.0 L1436.3 294.8 L1436.8 295.7 L1437.3 296.6 L1437.8 297.5 L1438.3 298.5 L1438.8 299.4 L1439.3 300.3 L1439.8 301.2 L1440.3 302.0 L1440.8 302.9 L1441.3 303.7 L1441.8 304.5 L1442.3 305.2 L1442.8 305.9 L1443.3 306.6 L1443.8 307.2 L1444.3 307.8 L1444.8 308.3 L1445.3 308.7 L1445.8 309.0 L1446.3 309.3 L1446.8 309.5 L1447.3 309.6 L1447.8 309.6 L1448.3 309.4 L1448.8 308.9 L1449.3 308.3 L1449.8 307.5 L1450.3 306.5 L1450.8 305.4 L1451.3 304.1 L1451.8 302.7 L1452.3 301.3 L1452.8 299.7 L1453.3 298.0 L1453.8 296.3 L1454.3 294.6 L1454.8 292.8 L1455.3 291.0 L1455.8 289.2 L1456.3 287.5 L1456.8 285.8 L1457.3 284.1 L1457.8 282.5 L1458.3 281.1 L1458.8 279.7 L1459.3 278.4 L1459.8 277.3 L1460.3 276.3 L1460.8 275.5 L1461.3 274.9 L1461.8 274.4 L1462.3 274.2 L1462.8 274.2 L1463.3 274.4 L1463.8 274.8 L1464.3 275.3 L1464.8 275.9 L1465.3 276.7 L1465.8 277.6 L1466.3 278.6 L1466.8 279.8 L1467.3 281.0 L1467.8 282.3 L1468.3 283.7 L1468.8 285.2 L1469.3 286.7 L1469.8 288.2 L1470.3 289.8 L1470.8 291.5 L1471.3 293.1 L1471.8 294.8 L1472.3 296.4 L1472.8 298.1 L1473.3 299.7 L1473.8 301.3 L1474.3 302.9 L1474.8 304.4 L1475.3 305.9 L1475.8 307.3 L1476.3 308.6 L1476.8 309.9 L1477.3 311.0 L1477.8 312.1 L1478.3 313.0 L1478.8 313.8 L1479.3 314.5 L1479.8 315.0 L1480.3 315.4 L1480.8 315.6 L1481.3 315.7 L1481.8 315.5 L1482.3 315.1 L1482.8 314.5 L1483.3 313.6 L1483.8 312.6 L1484.3 311.4 L1484.8 310.0 L1485.3 308.5 L1485.8 306.9 L1486.3 305.1 L1486.8 303.2 L1487.3 301.3 L1487.8 299.3 L1488.3 297.2 L1488.8 295.1 L1489.3 293.0 L1489.8 290.9 L1490.3 288.8 L1490.8 286.7 L1491.3 284.7 L1491.8 282.7 L1492.3 280.8 L1492.8 279.0 L1493.3 277.3 L1493.8 275.7 L1494.3 274.2 L1494.8 272.9 L1495.3 271.8 L1495.8 270.8 L1496.3 270.0 L1496.8 269.5 L1497.3 269.2 L1497.8 269.1 L1498.3 269.2 L1498.8 269.3 L1499.3 269.6 L1499.8 269.9 L1500.3 270.3 L1500.8 270.7 L1501.3 271.2 L1501.8 271.8 L1502.3 272.4 L1502.8 273.1 L1503.3 273.8 L1503.8 274.6 L1504.3 275.4 L1504.8 276.2 L1505.3 277.0 L1505.8 277.8 L1506.3 278.7 L1506.8 279.5 L1507.3 280.4 L1507.8 281.2 L1508.3 282.1 L1508.8 282.9 L1509.3 283.7 L1509.8 284.4 L1510.3 285.1 L1510.8 285.8 L1511.3 286.5 L1511.8 287.0 L1512.3 287.6 L1512.8 288.0 L1513.3 288.5 L1513.8 288.8 L1514.3 289.0 L1514.8 289.2 L1515.3 289.3 L1515.8 289.3 L1516.3 289.1 L1516.8 288.7 L1517.3 288.2 L1517.8 287.5 L1518.3 286.7 L1518.8 285.8 L1519.3 284.8 L1519.8 283.7 L1520.3 282.5 L1520.8 281.2 L1521.3 279.8 L1521.8 278.4 L1522.3 276.9 L1522.8 275.4 L1523.3 273.9 L1523.8 272.3 L1524.3 270.8 L1524.8 269.2 L1525.3 267.7 L1525.8 266.2 L1526.3 264.8 L1526.8 263.4 L1527.3 262.0 L1527.8 260.7 L1528.3 259.6 L1528.8 258.5 L1529.3 257.5 L1529.8 256.6 L1530.3 255.9 L1530.8 255.3 L1531.3 254.8 L1531.8 254.5 L1532.3 254.4 L1532.8 254.4 L1533.3 254.5 L1533.8 254.6 L1534.3 254.8 L1534.8 255.0 L1535.3 255.2 L1535.8 255.5 L1536.3 255.8 L1536.8 256.1 L1537.3 256.5 L1537.8 256.9 L1538.3 257.3 L1538.8 257.7 L1539.3 258.1 L1539.8 258.5 L1540.3 259.0 L1540.8 259.4 L1541.3 259.8 L1541.8 260.3 L1542.3 260.7 L1542.8 261.1 L1543.3 261.5 L1543.8 261.8 L1544.3 262.2 L1544.8 262.5 L1545.3 262.8 L1545.8 263.0 L1546.3 263.3 L1546.8 263.4 L1547.3 263.6 L1547.8 263.7 L1548.3 263.7 L1548.8 263.7 L1549.3 263.5 L1549.8 263.2 L1550.3 262.8 L1550.8 262.3 L1551.3 261.8 L1551.8 261.1 L1552.3 260.3 L1552.8 259.5 L1553.3 258.6 L1553.8 257.7 L1554.3 256.7 L1554.8 255.6 L1555.3 254.5 L1555.8 253.4 L1556.3 252.2 L1556.8 251.0 L1557.3 249.9 L1557.8 248.7 L1558.3 247.5 L1558.8 246.3 L1559.3 245.1 L1559.8 244.0 L1560.3 242.9 L1560.8 241.8 L1561.3 240.7 L1561.8 239.7 L1562.3 238.8 L1562.8 237.9 L1563.3 237.1 L1563.8 236.4 L1564.3 235.8 L1564.8 235.2 L1565.3 234.8 L1565.8 234.5 L1566.3 234.2 L1566.8 234.1 L1567.3 234.1 L1567.8 234.2 L1568.3 234.3 L1568.8 234.4 L1569.3 234.6 L1569.8 234.8 L1570.3 235.0 L1570.8 235.3 L1571.3 235.6 L1571.8 235.9 L1572.3 236.2 L1572.8 236.6 L1573.3 236.9 L1573.8 237.3 L1574.3 237.7 L1574.8 238.0 L1575.3 238.4 L1575.8 238.8 L1576.3 239.2 L1576.8 239.5 L1577.3 239.8 L1577.8 240.2 L1578.3 240.5 L1578.8 240.7 L1579.3 241.0 L1579.8 241.2 L1580.3 241.4 L1580.8 241.5 L1581.3 241.6 L1581.8 241.7 L1582.3 241.7 L1582.8 241.6 L1583.3 241.3 L1583.8 240.8 L1584.3 240.2 L1584.8 239.4 L1585.3 238.5 L1585.8 237.4 L1586.3 236.2 L1586.8 235.0 L1587.3 233.6 L1587.8 232.1 L1588.3 230.5 L1588.8 228.9 L1589.3 227.2 L1589.8 225.4 L1590.3 223.6 L1590.8 221.8 L1591.3 219.9 L1591.8 218.0 L1592.3 216.1 L1592.8 214.2 L1593.3 212.3 L1593.8 210.4 L1594.3 208.6 L1594.8 206.7 L1595.3 205.0 L1595.8 203.3 L1596.3 201.6 L1596.8 200.0 L1597.3 198.5 L1597.8 197.1 L1598.3 195.8 L1598.8 194.6 L1599.3 193.5 L1599.8 192.6 L1600.3 191.8 L1600.8 191.1 L1601.3 190.6 L1601.8 190.3 L1602.3 190.1 L1602.8 190.1 L1603.3 190.2 L1603.8 190.5 L1604.3 190.8 L1604.8 191.1 L1605.3 191.6 L1605.8 192.1 L1606.3 192.7 L1606.8 193.4 L1607.3 194.0 L1607.8 194.7 L1608.3 195.5 L1608.8 196.2 L1609.3 197.0 L1609.8 197.7 L1610.3 198.5 L1610.8 199.2 L1611.3 199.9 L1611.8 200.6 L1612.3 201.2 L1612.8 201.8 L1613.3 202.3 L1613.8 202.7 L1614.3 203.1 L1614.8 203.4 L1615.3 203.6 L1615.8 203.7 L1616.3 203.7 L1616.8 203.4 L1617.3 203.0 L1617.8 202.4 L1618.3 201.6 L1618.8 200.7 L1619.3 199.7 L1619.8 198.4 L1620.3 197.1 L1620.8 195.7 L1621.3 194.1 L1621.8 192.5 L1622.3 190.8 L1622.8 189.1 L1623.3 187.3 L1623.8 185.4 L1624.3 183.6 L1624.8 181.7 L1625.3 179.8 L1625.8 177.9 L1626.3 176.1 L1626.8 174.2 L1627.3 172.5 L1627.8 170.7 L1628.3 169.1 L1628.8 167.5 L1629.3 166.0 L1629.8 164.7 L1630.3 163.4 L1630.8 162.3 L1631.3 161.3 L1631.8 160.5 L1632.3 159.8 L1632.8 159.3 L1633.3 159.0 L1633.8 158.9 L1634.3 159.0 L1634.8 159.1 L1635.3 159.3 L1635.8 159.7 L1636.3 160.1 L1636.8 160.5 L1637.3 161.1 L1637.8 161.7 L1638.3 162.3 L1638.8 163.0 L1639.3 163.7 L1639.8 164.5 L1640.3 165.3 L1640.8 166.1 L1641.3 166.9 L1641.8 167.7 L1642.3 168.5 L1642.8 169.5 L1643.3 170.6 L1643.8 171.8 L1644.3 173.1 L1644.8 174.5 L1645.3 175.9 L1645.8 177.4" stroke="#00AF64"/>
</g>
<line x1="282.5" y1="134.0" x2="402.5" y2="134.0" stroke="#00AF64" stroke-width="6.2" stroke-linecap="round"/>
<text class="leg" x="432.5" y="154.9"><tspan class="it">A</tspan>=4 Å</text>
<line x1="282.5" y1="207.6" x2="402.5" y2="207.6" stroke="#0068E0" stroke-width="6.2" stroke-linecap="round"/>
<text class="leg" x="432.5" y="228.5"><tspan class="it">A</tspan>=3 Å</text>
<line x1="282.5" y1="280.4" x2="402.5" y2="280.4" stroke="#FF3E3E" stroke-width="6.2" stroke-linecap="round"/>
<text class="leg" x="432.5" y="301.3"><tspan class="it">A</tspan>=2 Å</text>
<line x1="282.5" y1="354.0" x2="402.5" y2="354.0" stroke="#505050" stroke-width="6.2" stroke-linecap="round"/>
<text class="leg" x="432.5" y="374.9"><tspan class="it">A</tspan>=1 Å</text>
</svg></body></html>
